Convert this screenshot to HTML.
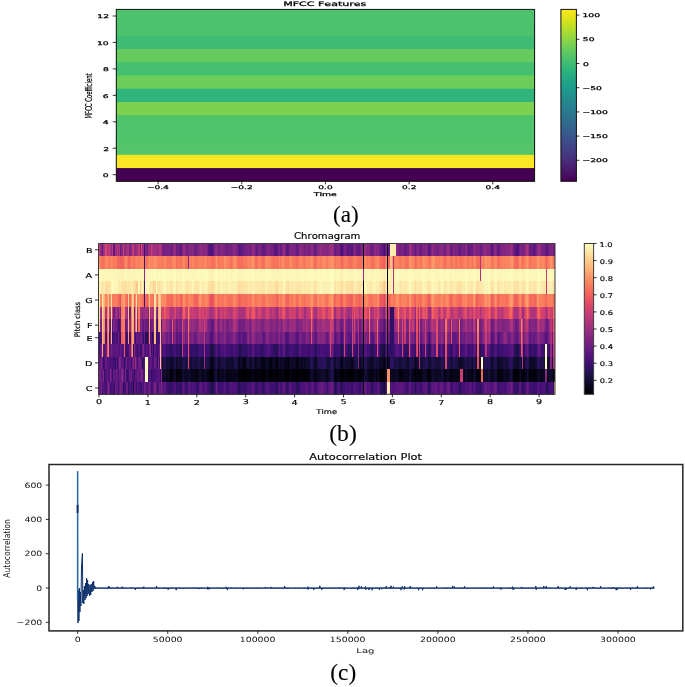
<!DOCTYPE html>
<html><head><meta charset="utf-8"><style>
html,body{margin:0;padding:0;background:#fff;}
svg{display:block;filter:blur(0.3px);}
text{font-family:'DejaVu Sans','Liberation Sans',sans-serif;fill:#000;font-kerning:none;stroke:#000;stroke-width:0.22px;}
.sa{stroke-width:0.25px;} .sb{stroke-width:0.15px;} .sc{stroke-width:0;fill:#111;}
text.serif{font-family:'Liberation Serif',serif;stroke-width:0.1px;}
.hm rect{height:12.77px;width:1.44px;}
.hm{shape-rendering:crispEdges;}
</style></head><body>
<svg width="685" height="687" viewBox="0 0 685 687">
<rect width="685" height="687" fill="#fff"/>
<rect x="116.30" y="9.40" width="418.30" height="171.90" fill="#4cc26c"/><rect x="116.30" y="22.62" width="418.30" height="158.68" fill="#4cc26c"/><rect x="116.30" y="35.85" width="418.30" height="145.45" fill="#3fbc73"/><rect x="116.30" y="49.07" width="418.30" height="132.23" fill="#65cb5e"/><rect x="116.30" y="62.29" width="418.30" height="119.01" fill="#44bf70"/><rect x="116.30" y="75.52" width="418.30" height="105.78" fill="#6ccd5a"/><rect x="116.30" y="88.74" width="418.30" height="92.56" fill="#2fb47c"/><rect x="116.30" y="101.96" width="418.30" height="79.34" fill="#7cd250"/><rect x="116.30" y="115.18" width="418.30" height="66.12" fill="#50c46a"/><rect x="116.30" y="128.41" width="418.30" height="52.89" fill="#50c46a"/><rect x="116.30" y="141.63" width="418.30" height="39.67" fill="#54c568"/><rect x="116.30" y="154.85" width="418.30" height="26.45" fill="#fde725"/><rect x="116.30" y="168.08" width="418.30" height="13.22" fill="#440154"/><rect x="116.30" y="9.40" width="418.30" height="171.90" fill="none" stroke="#111" stroke-width="1.0"/><line x1="112.70" y1="174.69" x2="116.30" y2="174.69" stroke="#000" stroke-width="0.8"/><text x="102.88" y="177.01" font-size="5.00" text-anchor="start" textLength="5.89" lengthAdjust="spacingAndGlyphs" class="sa">0</text><line x1="112.70" y1="148.24" x2="116.30" y2="148.24" stroke="#000" stroke-width="0.8"/><text x="103.19" y="150.60" font-size="5.00" text-anchor="start" textLength="5.89" lengthAdjust="spacingAndGlyphs" class="sa">2</text><line x1="112.70" y1="121.80" x2="116.30" y2="121.80" stroke="#000" stroke-width="0.8"/><text x="102.78" y="124.12" font-size="5.00" text-anchor="start" textLength="5.89" lengthAdjust="spacingAndGlyphs" class="sa">4</text><line x1="112.70" y1="95.35" x2="116.30" y2="95.35" stroke="#000" stroke-width="0.8"/><text x="102.85" y="97.67" font-size="5.00" text-anchor="start" textLength="5.89" lengthAdjust="spacingAndGlyphs" class="sa">6</text><line x1="112.70" y1="68.90" x2="116.30" y2="68.90" stroke="#000" stroke-width="0.8"/><text x="102.90" y="71.22" font-size="5.00" text-anchor="start" textLength="5.89" lengthAdjust="spacingAndGlyphs" class="sa">8</text><line x1="112.70" y1="42.46" x2="116.30" y2="42.46" stroke="#000" stroke-width="0.8"/><text x="96.99" y="44.78" font-size="5.00" text-anchor="start" textLength="11.77" lengthAdjust="spacingAndGlyphs" class="sa">10</text><line x1="112.70" y1="16.01" x2="116.30" y2="16.01" stroke="#000" stroke-width="0.8"/><text x="97.31" y="18.37" font-size="5.00" text-anchor="start" textLength="11.77" lengthAdjust="spacingAndGlyphs" class="sa">12</text><line x1="158.13" y1="181.30" x2="158.13" y2="184.30" stroke="#000" stroke-width="0.8"/><text x="146.98" y="188.68" font-size="5.00" text-anchor="start" textLength="21.85" lengthAdjust="spacingAndGlyphs" class="sa">−0.4</text><line x1="241.79" y1="181.30" x2="241.79" y2="184.30" stroke="#000" stroke-width="0.8"/><text x="230.84" y="188.68" font-size="5.00" text-anchor="start" textLength="21.85" lengthAdjust="spacingAndGlyphs" class="sa">−0.2</text><line x1="325.45" y1="181.30" x2="325.45" y2="184.30" stroke="#000" stroke-width="0.8"/><text x="318.30" y="188.68" font-size="5.00" text-anchor="start" textLength="14.31" lengthAdjust="spacingAndGlyphs" class="sa">0.0</text><line x1="409.11" y1="181.30" x2="409.11" y2="184.30" stroke="#000" stroke-width="0.8"/><text x="402.11" y="188.68" font-size="5.00" text-anchor="start" textLength="14.31" lengthAdjust="spacingAndGlyphs" class="sa">0.2</text><line x1="492.77" y1="181.30" x2="492.77" y2="184.30" stroke="#000" stroke-width="0.8"/><text x="485.57" y="188.68" font-size="5.00" text-anchor="start" textLength="14.31" lengthAdjust="spacingAndGlyphs" class="sa">0.4</text><text x="313.78" y="196.38" font-size="5.17" text-anchor="start" textLength="22.97" lengthAdjust="spacingAndGlyphs" class="sa">Time</text><text class="sa" transform="translate(91.53,118.47) rotate(-90)" x="0" y="0" font-size="8.40" textLength="45.04" lengthAdjust="spacingAndGlyphs">MFCC Coefficient</text><text x="283.17" y="6.26" font-size="6.21" text-anchor="start" textLength="83.22" lengthAdjust="spacingAndGlyphs" class="sa">MFCC Features</text><defs><linearGradient id="gv" x1="0" y1="1" x2="0" y2="0"><stop offset="0.0000" stop-color="#440154"/><stop offset="0.0312" stop-color="#470d60"/><stop offset="0.0625" stop-color="#48186a"/><stop offset="0.0938" stop-color="#482374"/><stop offset="0.1250" stop-color="#472d7b"/><stop offset="0.1562" stop-color="#453781"/><stop offset="0.1875" stop-color="#424086"/><stop offset="0.2188" stop-color="#3e4989"/><stop offset="0.2500" stop-color="#3b528b"/><stop offset="0.2812" stop-color="#375b8d"/><stop offset="0.3125" stop-color="#33638d"/><stop offset="0.3438" stop-color="#2f6b8e"/><stop offset="0.3750" stop-color="#2c728e"/><stop offset="0.4062" stop-color="#297a8e"/><stop offset="0.4375" stop-color="#26828e"/><stop offset="0.4688" stop-color="#23898e"/><stop offset="0.5000" stop-color="#21918c"/><stop offset="0.5312" stop-color="#1f988b"/><stop offset="0.5625" stop-color="#1fa088"/><stop offset="0.5938" stop-color="#22a785"/><stop offset="0.6250" stop-color="#28ae80"/><stop offset="0.6562" stop-color="#32b67a"/><stop offset="0.6875" stop-color="#3fbc73"/><stop offset="0.7188" stop-color="#4ec36b"/><stop offset="0.7500" stop-color="#5ec962"/><stop offset="0.7812" stop-color="#70cf57"/><stop offset="0.8125" stop-color="#84d44b"/><stop offset="0.8438" stop-color="#98d83e"/><stop offset="0.8750" stop-color="#addc30"/><stop offset="0.9062" stop-color="#c2df23"/><stop offset="0.9375" stop-color="#d8e219"/><stop offset="0.9688" stop-color="#ece51b"/><stop offset="1.0000" stop-color="#fde725"/></linearGradient><linearGradient id="gm" x1="0" y1="1" x2="0" y2="0"><stop offset="0.0000" stop-color="#000004"/><stop offset="0.0312" stop-color="#030312"/><stop offset="0.0625" stop-color="#0a0822"/><stop offset="0.0938" stop-color="#130d34"/><stop offset="0.1250" stop-color="#1d1147"/><stop offset="0.1562" stop-color="#29115a"/><stop offset="0.1875" stop-color="#36106b"/><stop offset="0.2188" stop-color="#440f76"/><stop offset="0.2500" stop-color="#51127c"/><stop offset="0.2812" stop-color="#5d177f"/><stop offset="0.3125" stop-color="#6a1c81"/><stop offset="0.3438" stop-color="#762181"/><stop offset="0.3750" stop-color="#832681"/><stop offset="0.4062" stop-color="#902a81"/><stop offset="0.4375" stop-color="#9c2e7f"/><stop offset="0.4688" stop-color="#aa337d"/><stop offset="0.5000" stop-color="#b73779"/><stop offset="0.5312" stop-color="#c43c75"/><stop offset="0.5625" stop-color="#d0416f"/><stop offset="0.5938" stop-color="#dc4869"/><stop offset="0.6250" stop-color="#e75263"/><stop offset="0.6562" stop-color="#ef5d5e"/><stop offset="0.6875" stop-color="#f56b5c"/><stop offset="0.7188" stop-color="#f9795d"/><stop offset="0.7500" stop-color="#fc8961"/><stop offset="0.7812" stop-color="#fd9869"/><stop offset="0.8125" stop-color="#fea772"/><stop offset="0.8438" stop-color="#feb67c"/><stop offset="0.8750" stop-color="#fec488"/><stop offset="0.9062" stop-color="#fed395"/><stop offset="0.9375" stop-color="#fde2a3"/><stop offset="0.9688" stop-color="#fcf0b2"/><stop offset="1.0000" stop-color="#fcfdbf"/></linearGradient></defs><rect x="560.90" y="9.40" width="15.50" height="171.90" fill="url(#gv)"/><rect x="560.90" y="9.40" width="15.50" height="171.90" fill="none" stroke="#111" stroke-width="1.0"/><line x1="576.40" y1="15.10" x2="579.40" y2="15.10" stroke="#000" stroke-width="0.8"/><text x="582.54" y="17.26" font-size="5.10" text-anchor="start" textLength="17.52" lengthAdjust="spacingAndGlyphs" class="sa">100</text><line x1="576.40" y1="39.30" x2="579.40" y2="39.30" stroke="#000" stroke-width="0.8"/><text x="582.84" y="41.46" font-size="5.10" text-anchor="start" textLength="11.68" lengthAdjust="spacingAndGlyphs" class="sa">50</text><line x1="576.40" y1="63.50" x2="579.40" y2="63.50" stroke="#000" stroke-width="0.8"/><text x="582.94" y="65.66" font-size="5.10" text-anchor="start" textLength="5.84" lengthAdjust="spacingAndGlyphs" class="sa">0</text><line x1="576.40" y1="87.70" x2="579.40" y2="87.70" stroke="#000" stroke-width="0.8"/><text x="582.58" y="89.86" font-size="5.10" text-anchor="start" textLength="19.37" lengthAdjust="spacingAndGlyphs" class="sa">−50</text><line x1="576.40" y1="111.90" x2="579.40" y2="111.90" stroke="#000" stroke-width="0.8"/><text x="582.58" y="114.06" font-size="5.10" text-anchor="start" textLength="25.21" lengthAdjust="spacingAndGlyphs" class="sa">−100</text><line x1="576.40" y1="136.10" x2="579.40" y2="136.10" stroke="#000" stroke-width="0.8"/><text x="582.58" y="138.26" font-size="5.10" text-anchor="start" textLength="25.21" lengthAdjust="spacingAndGlyphs" class="sa">−150</text><line x1="576.40" y1="160.30" x2="579.40" y2="160.30" stroke="#000" stroke-width="0.8"/><text x="582.58" y="162.46" font-size="5.10" text-anchor="start" textLength="25.21" lengthAdjust="spacingAndGlyphs" class="sa">−200</text><text x="333.03" y="222.34" font-size="23.05" text-anchor="start" textLength="25.74" lengthAdjust="spacingAndGlyphs" class="serif">(a)</text><g class="hm" transform="translate(0,381.73)"><rect x="98.5" fill="#651a80"/><rect x="99.6" fill="#56147d"/><rect x="100.8" fill="#802582"/><rect x="101.9" fill="#451077"/><rect x="103.1" fill="#5c167f"/><rect x="104.2" fill="#51127c"/><rect x="105.3" fill="#471078"/><rect x="106.5" fill="#651a80"/><rect x="107.6" fill="#902a81"/><rect x="108.8" fill="#5f187f"/><rect x="109.9" fill="#440f76"/><rect x="111.1" fill="#451077"/><rect x="112.2" fill="#56147d"/><rect x="113.3" fill="#390f6e"/><rect x="114.5" fill="#721f81"/><rect x="115.6" fill="#5d177f"/><rect x="116.8" fill="#651a80"/><rect x="117.9" fill="#491078"/><rect x="119.0" fill="#5d177f"/><rect x="120.2" fill="#752181"/><rect x="121.3" fill="#6d1d81"/><rect x="122.5" fill="#2d1161"/><rect x="123.6" fill="#3d0f71"/><rect x="124.7" fill="#4a1079"/><rect x="125.9" fill="#671b80"/><rect x="127.0" fill="#6e1e81"/><rect x="128.2" fill="#311165"/><rect x="129.3" fill="#4e117b"/><rect x="130.5" fill="#36106b"/><rect x="131.6" fill="#5a167e"/><rect x="132.7" fill="#150e38"/><rect x="133.9" fill="#6d1d81"/><rect x="135.0" fill="#52137c"/><rect x="136.2" fill="#3d0f71"/><rect x="137.3" fill="#59157e"/><rect x="138.4" fill="#4e117b"/><rect x="139.6" fill="#3b0f70"/><rect x="140.7" fill="#36106b"/><rect x="141.9" fill="#601880"/><rect x="143.0" fill="#440f76"/><rect x="144.2" fill="#6d1d81"/><rect x="145.3" fill="#701f81"/><rect x="146.4" fill="#52137c"/><rect x="147.6" fill="#641a80"/><rect x="148.7" fill="#681c81"/><rect x="149.9" fill="#641a80"/><rect x="151.0" fill="#3f0f72"/><rect x="152.1" fill="#4e117b"/><rect x="153.3" fill="#5c167f"/><rect x="154.4" fill="#7b2382"/><rect x="155.6" fill="#651a80"/><rect x="156.7" fill="#311165"/><rect x="157.8" fill="#57157e"/><rect x="159.0" fill="#681c81"/><rect x="160.1" fill="#5d177f"/><rect x="161.3" fill="#812581"/><rect x="162.4" fill="#59157e"/><rect x="163.6" fill="#5c167f"/><rect x="164.7" fill="#57157e"/><rect x="165.8" fill="#440f76"/><rect x="167.0" fill="#420f75"/><rect x="168.1" fill="#3b0f70"/><rect x="169.3" fill="#311165"/><rect x="170.4" fill="#341069"/><rect x="171.5" fill="#3d0f71"/><rect x="172.7" fill="#400f74"/><rect x="173.8" fill="#4f127b"/><rect x="175.0" fill="#4c117a"/><rect x="176.1" fill="#331067"/><rect x="177.2" fill="#38106c"/><rect x="178.4" fill="#3b0f70"/><rect x="179.5" fill="#2a115c"/><rect x="180.7" fill="#36106b"/><rect x="181.8" fill="#4f127b"/><rect x="183.0" fill="#5f187f"/><rect x="184.1" fill="#52137c"/><rect x="185.2" fill="#36106b"/><rect x="186.4" fill="#38106c"/><rect x="187.5" fill="#56147d"/><rect x="188.7" fill="#601880"/><rect x="189.8" fill="#4f127b"/><rect x="190.9" fill="#491078"/><rect x="192.1" fill="#4f127b"/><rect x="193.2" fill="#52137c"/><rect x="194.4" fill="#4a1079"/><rect x="195.5" fill="#341069"/><rect x="196.6" fill="#2d1161"/><rect x="197.8" fill="#3d0f71"/><rect x="198.9" fill="#54137d"/><rect x="200.1" fill="#601880"/><rect x="201.2" fill="#5a167e"/><rect x="202.4" fill="#4a1079"/><rect x="203.5" fill="#451077"/><rect x="204.6" fill="#56147d"/><rect x="205.8" fill="#56147d"/><rect x="206.9" fill="#3f0f72"/><rect x="208.1" fill="#36106b"/><rect x="209.2" fill="#390f6e"/><rect x="210.3" fill="#271258"/><rect x="211.5" fill="#1d1147"/><rect x="212.6" fill="#271258"/><rect x="213.8" fill="#2f1163"/><rect x="214.9" fill="#51127c"/><rect x="216.0" fill="#6e1e81"/><rect x="217.2" fill="#56147d"/><rect x="218.3" fill="#3b0f70"/><rect x="219.5" fill="#400f74"/><rect x="220.6" fill="#420f75"/><rect x="221.8" fill="#420f75"/><rect x="222.9" fill="#4a1079"/><rect x="224.0" fill="#57157e"/><rect x="225.2" fill="#4c117a"/><rect x="226.3" fill="#38106c"/><rect x="227.5" fill="#3f0f72"/><rect x="228.6" fill="#491078"/><rect x="229.7" fill="#4f127b"/><rect x="230.9" fill="#54137d"/><rect x="232.0" fill="#4c117a"/><rect x="233.2" fill="#4f127b"/><rect x="234.3" fill="#51127c"/><rect x="235.5" fill="#440f76"/><rect x="236.6" fill="#3b0f70"/><rect x="237.7" fill="#311165"/><rect x="238.9" fill="#21114e"/><rect x="240.0" fill="#311165"/><rect x="241.2" fill="#3d0f71"/><rect x="242.3" fill="#38106c"/><rect x="243.4" fill="#390f6e"/><rect x="244.6" fill="#341069"/><rect x="245.7" fill="#390f6e"/><rect x="246.9" fill="#440f76"/><rect x="248.0" fill="#4e117b"/><rect x="249.1" fill="#491078"/><rect x="250.3" fill="#3b0f70"/><rect x="251.4" fill="#54137d"/><rect x="252.6" fill="#5f187f"/><rect x="253.7" fill="#491078"/><rect x="254.9" fill="#3d0f71"/><rect x="256.0" fill="#341069"/><rect x="257.1" fill="#341069"/><rect x="258.3" fill="#4a1079"/><rect x="259.4" fill="#4c117a"/><rect x="260.6" fill="#400f74"/><rect x="261.7" fill="#36106b"/><rect x="262.8" fill="#2c115f"/><rect x="264.0" fill="#341069"/><rect x="265.1" fill="#4c117a"/><rect x="266.3" fill="#56147d"/><rect x="267.4" fill="#52137c"/><rect x="268.5" fill="#471078"/><rect x="269.7" fill="#3f0f72"/><rect x="270.8" fill="#400f74"/><rect x="272.0" fill="#400f74"/><rect x="273.1" fill="#440f76"/><rect x="274.3" fill="#420f75"/><rect x="275.4" fill="#331067"/><rect x="276.5" fill="#2d1161"/><rect x="277.7" fill="#471078"/><rect x="278.8" fill="#5d177f"/><rect x="280.0" fill="#491078"/><rect x="281.1" fill="#36106b"/><rect x="282.2" fill="#51127c"/><rect x="283.4" fill="#5d177f"/><rect x="284.5" fill="#451077"/><rect x="285.7" fill="#38106c"/><rect x="286.8" fill="#2c115f"/><rect x="287.9" fill="#36106b"/><rect x="289.1" fill="#57157e"/><rect x="290.2" fill="#5d177f"/><rect x="291.4" fill="#471078"/><rect x="292.5" fill="#3f0f72"/><rect x="293.7" fill="#4a1079"/><rect x="294.8" fill="#400f74"/><rect x="295.9" fill="#2c115f"/><rect x="297.1" fill="#271258"/><rect x="298.2" fill="#2d1161"/><rect x="299.4" fill="#420f75"/><rect x="300.5" fill="#4c117a"/><rect x="301.6" fill="#52137c"/><rect x="302.8" fill="#4e117b"/><rect x="303.9" fill="#491078"/><rect x="305.1" fill="#59157e"/><rect x="306.2" fill="#5f187f"/><rect x="307.3" fill="#4f127b"/><rect x="308.5" fill="#420f75"/><rect x="309.6" fill="#471078"/><rect x="310.8" fill="#59157e"/><rect x="311.9" fill="#621980"/><rect x="313.1" fill="#57157e"/><rect x="314.2" fill="#420f75"/><rect x="315.3" fill="#400f74"/><rect x="316.5" fill="#54137d"/><rect x="317.6" fill="#5f187f"/><rect x="318.8" fill="#5c167f"/><rect x="319.9" fill="#621980"/><rect x="321.0" fill="#6a1c81"/><rect x="322.2" fill="#681c81"/><rect x="323.3" fill="#5c167f"/><rect x="324.5" fill="#54137d"/><rect x="325.6" fill="#4a1079"/><rect x="326.8" fill="#3f0f72"/><rect x="327.9" fill="#51127c"/><rect x="329.0" fill="#621980"/><rect x="330.2" fill="#641a80"/><rect x="331.3" fill="#6a1c81"/><rect x="332.5" fill="#5c167f"/><rect x="333.6" fill="#311165"/><rect x="334.7" fill="#21114e"/><rect x="335.9" fill="#2f1163"/><rect x="337.0" fill="#3d0f71"/><rect x="338.2" fill="#51127c"/><rect x="339.3" fill="#51127c"/><rect x="340.4" fill="#29115a"/><rect x="341.6" fill="#241253"/><rect x="342.7" fill="#3d0f71"/><rect x="343.9" fill="#3b0f70"/><rect x="345.0" fill="#400f74"/><rect x="346.2" fill="#4a1079"/><rect x="347.3" fill="#420f75"/><rect x="348.4" fill="#420f75"/><rect x="349.6" fill="#471078"/><rect x="350.7" fill="#38106c"/><rect x="351.9" fill="#38106c"/><rect x="353.0" fill="#4c117a"/><rect x="354.1" fill="#51127c"/><rect x="355.3" fill="#4c117a"/><rect x="356.4" fill="#4a1079"/><rect x="357.6" fill="#451077"/><rect x="358.7" fill="#38106c"/><rect x="359.8" fill="#390f6e"/><rect x="361.0" fill="#491078"/><rect x="362.1" fill="#4f127b"/><rect x="363.3" fill="#02020d"/><rect x="364.4" fill="#671b80"/><rect x="365.6" fill="#5f187f"/><rect x="366.7" fill="#471078"/><rect x="367.8" fill="#4f127b"/><rect x="369.0" fill="#59157e"/><rect x="370.1" fill="#451077"/><rect x="371.3" fill="#29115a"/><rect x="372.4" fill="#36106b"/><rect x="373.5" fill="#4f127b"/><rect x="374.7" fill="#491078"/><rect x="375.8" fill="#420f75"/><rect x="377.0" fill="#54137d"/><rect x="378.1" fill="#621980"/><rect x="379.2" fill="#491078"/><rect x="380.4" fill="#29115a"/><rect x="381.5" fill="#29115a"/><rect x="382.7" fill="#1c1044"/><rect x="383.8" fill="#140e36"/><rect x="385.0" fill="#311165"/><rect x="386.1" fill="#52137c"/><rect x="387.2" fill="#fceeb0"/><rect x="388.4" fill="#fceeb0"/><rect x="389.5" fill="#420f75"/><rect x="390.7" fill="#57157e"/><rect x="391.8" fill="#51127c"/><rect x="392.9" fill="#4a1079"/><rect x="394.1" fill="#4e117b"/><rect x="395.2" fill="#56147d"/><rect x="396.4" fill="#59157e"/><rect x="397.5" fill="#5a167e"/><rect x="398.6" fill="#5a167e"/><rect x="399.8" fill="#5d177f"/><rect x="400.9" fill="#5d177f"/><rect x="402.1" fill="#56147d"/><rect x="403.2" fill="#56147d"/><rect x="404.4" fill="#4c117a"/><rect x="405.5" fill="#420f75"/><rect x="406.6" fill="#3b0f70"/><rect x="407.8" fill="#451077"/><rect x="408.9" fill="#651a80"/><rect x="410.1" fill="#5f187f"/><rect x="411.2" fill="#420f75"/><rect x="412.3" fill="#491078"/><rect x="413.5" fill="#420f75"/><rect x="414.6" fill="#271258"/><rect x="415.8" fill="#390f6e"/><rect x="416.9" fill="#51127c"/><rect x="418.1" fill="#491078"/><rect x="419.2" fill="#3d0f71"/><rect x="420.3" fill="#3f0f72"/><rect x="421.5" fill="#4a1079"/><rect x="422.6" fill="#54137d"/><rect x="423.8" fill="#54137d"/><rect x="424.9" fill="#5d177f"/><rect x="426.0" fill="#5f187f"/><rect x="427.2" fill="#451077"/><rect x="428.3" fill="#2f1163"/><rect x="429.5" fill="#390f6e"/><rect x="430.6" fill="#5a167e"/><rect x="431.7" fill="#5f187f"/><rect x="432.9" fill="#56147d"/><rect x="434.0" fill="#5f187f"/><rect x="435.2" fill="#671b80"/><rect x="436.3" fill="#5d177f"/><rect x="437.5" fill="#4e117b"/><rect x="438.6" fill="#54137d"/><rect x="439.7" fill="#651a80"/><rect x="440.9" fill="#681c81"/><rect x="442.0" fill="#5f187f"/><rect x="443.2" fill="#54137d"/><rect x="444.3" fill="#491078"/><rect x="445.4" fill="#4f127b"/><rect x="446.6" fill="#671b80"/><rect x="447.7" fill="#6e1e81"/><rect x="448.9" fill="#621980"/><rect x="450.0" fill="#4c117a"/><rect x="451.1" fill="#390f6e"/><rect x="452.3" fill="#400f74"/><rect x="453.4" fill="#52137c"/><rect x="454.6" fill="#4e117b"/><rect x="455.7" fill="#491078"/><rect x="456.9" fill="#4e117b"/><rect x="458.0" fill="#3b0f70"/><rect x="459.1" fill="#29115a"/><rect x="460.3" fill="#311165"/><rect x="461.4" fill="#3f0f72"/><rect x="462.6" fill="#451077"/><rect x="463.7" fill="#451077"/><rect x="464.8" fill="#4e117b"/><rect x="466.0" fill="#56147d"/><rect x="467.1" fill="#4f127b"/><rect x="468.3" fill="#4e117b"/><rect x="469.4" fill="#5a167e"/><rect x="470.5" fill="#59157e"/><rect x="471.7" fill="#420f75"/><rect x="472.8" fill="#4a1079"/><rect x="474.0" fill="#59157e"/><rect x="475.1" fill="#491078"/><rect x="476.3" fill="#38106c"/><rect x="477.4" fill="#36106b"/><rect x="478.5" fill="#331067"/><rect x="479.7" fill="#2a115c"/><rect x="480.8" fill="#341069"/><rect x="482.0" fill="#4c117a"/><rect x="483.1" fill="#4f127b"/><rect x="484.2" fill="#5c167f"/><rect x="485.4" fill="#671b80"/><rect x="486.5" fill="#57157e"/><rect x="487.7" fill="#57157e"/><rect x="488.8" fill="#5c167f"/><rect x="489.9" fill="#54137d"/><rect x="491.1" fill="#4e117b"/><rect x="492.2" fill="#4e117b"/><rect x="493.4" fill="#5f187f"/><rect x="494.5" fill="#6e1e81"/><rect x="495.7" fill="#5f187f"/><rect x="496.8" fill="#471078"/><rect x="497.9" fill="#390f6e"/><rect x="499.1" fill="#3f0f72"/><rect x="500.2" fill="#491078"/><rect x="501.4" fill="#4a1079"/><rect x="502.5" fill="#4e117b"/><rect x="503.6" fill="#4a1079"/><rect x="504.8" fill="#400f74"/><rect x="505.9" fill="#4c117a"/><rect x="507.1" fill="#5c167f"/><rect x="508.2" fill="#57157e"/><rect x="509.4" fill="#5f187f"/><rect x="510.5" fill="#721f81"/><rect x="511.6" fill="#641a80"/><rect x="512.8" fill="#3f0f72"/><rect x="513.9" fill="#341069"/><rect x="515.1" fill="#3f0f72"/><rect x="516.2" fill="#2d1161"/><rect x="517.3" fill="#38106c"/><rect x="518.5" fill="#5c167f"/><rect x="519.6" fill="#5c167f"/><rect x="520.8" fill="#3f0f72"/><rect x="521.9" fill="#311165"/><rect x="523.0" fill="#38106c"/><rect x="524.2" fill="#390f6e"/><rect x="525.3" fill="#52137c"/><rect x="526.5" fill="#6d1d81"/><rect x="527.6" fill="#5d177f"/><rect x="528.8" fill="#451077"/><rect x="529.9" fill="#3b0f70"/><rect x="531.0" fill="#3f0f72"/><rect x="532.2" fill="#400f74"/><rect x="533.3" fill="#390f6e"/><rect x="534.5" fill="#390f6e"/><rect x="535.6" fill="#420f75"/><rect x="536.7" fill="#4f127b"/><rect x="537.9" fill="#57157e"/><rect x="539.0" fill="#51127c"/><rect x="540.2" fill="#420f75"/><rect x="541.3" fill="#471078"/><rect x="542.4" fill="#4c117a"/><rect x="543.6" fill="#4c117a"/><rect x="544.7" fill="#471078"/><rect x="545.9" fill="#2c115f"/><rect x="547.0" fill="#251255"/><rect x="548.2" fill="#3d0f71"/><rect x="549.3" fill="#440f76"/><rect x="550.4" fill="#4a1079"/><rect x="551.6" fill="#4c117a"/><rect x="552.7" fill="#2a115c"/><rect x="553.9" fill="#feae77"/></g><g class="hm" transform="translate(0,369.17)"><rect x="98.5" fill="#6a1c81"/><rect x="99.6" fill="#792282"/><rect x="100.8" fill="#57157e"/><rect x="101.9" fill="#651a80"/><rect x="103.1" fill="#792282"/><rect x="104.2" fill="#2f1163"/><rect x="105.3" fill="#51127c"/><rect x="106.5" fill="#6a1c81"/><rect x="107.6" fill="#400f74"/><rect x="108.8" fill="#59157e"/><rect x="109.9" fill="#7c2382"/><rect x="111.1" fill="#641a80"/><rect x="112.2" fill="#331067"/><rect x="113.3" fill="#621980"/><rect x="114.5" fill="#57157e"/><rect x="115.6" fill="#671b80"/><rect x="116.8" fill="#6d1d81"/><rect x="117.9" fill="#3f0f72"/><rect x="119.0" fill="#6b1d81"/><rect x="120.2" fill="#5a167e"/><rect x="121.3" fill="#862781"/><rect x="122.5" fill="#6b1d81"/><rect x="123.6" fill="#491078"/><rect x="124.7" fill="#762181"/><rect x="125.9" fill="#390f6e"/><rect x="127.0" fill="#38106c"/><rect x="128.2" fill="#3f0f72"/><rect x="129.3" fill="#671b80"/><rect x="130.5" fill="#6b1d81"/><rect x="131.6" fill="#440f76"/><rect x="132.7" fill="#4e117b"/><rect x="133.9" fill="#3b0f70"/><rect x="135.0" fill="#59157e"/><rect x="136.2" fill="#57157e"/><rect x="137.3" fill="#6e1e81"/><rect x="138.4" fill="#651a80"/><rect x="139.6" fill="#621980"/><rect x="140.7" fill="#7b2382"/><rect x="141.9" fill="#752181"/><rect x="143.0" fill="#4f127b"/><rect x="144.2" fill="#52137c"/><rect x="145.3" fill="#fcfdbf"/><rect x="146.4" fill="#fcfdbf"/><rect x="147.6" fill="#471078"/><rect x="148.7" fill="#4f127b"/><rect x="149.9" fill="#5c167f"/><rect x="151.0" fill="#2a115c"/><rect x="152.1" fill="#3f0f72"/><rect x="153.3" fill="#491078"/><rect x="154.4" fill="#491078"/><rect x="155.6" fill="#51127c"/><rect x="156.7" fill="#5d177f"/><rect x="157.8" fill="#471078"/><rect x="159.0" fill="#5f187f"/><rect x="160.1" fill="#36106b"/><rect x="161.3" fill="#812581"/><rect x="162.4" fill="#0d0a29"/><rect x="163.6" fill="#110c2f"/><rect x="164.7" fill="#110c2f"/><rect x="165.8" fill="#07061c"/><rect x="167.0" fill="#07061c"/><rect x="168.1" fill="#0d0a29"/><rect x="169.3" fill="#08071e"/><rect x="170.4" fill="#02020b"/><rect x="171.5" fill="#02020d"/><rect x="172.7" fill="#090720"/><rect x="173.8" fill="#130d34"/><rect x="175.0" fill="#0a0822"/><rect x="176.1" fill="#010005"/><rect x="177.2" fill="#020109"/><rect x="178.4" fill="#040414"/><rect x="179.5" fill="#02020b"/><rect x="180.7" fill="#040414"/><rect x="181.8" fill="#0d0a29"/><rect x="183.0" fill="#120d31"/><rect x="184.1" fill="#0d0a29"/><rect x="185.2" fill="#0a0822"/><rect x="186.4" fill="#0c0926"/><rect x="187.5" fill="#0e0b2b"/><rect x="188.7" fill="#110c2f"/><rect x="189.8" fill="#0b0924"/><rect x="190.9" fill="#090720"/><rect x="192.1" fill="#08071e"/><rect x="193.2" fill="#06051a"/><rect x="194.4" fill="#060518"/><rect x="195.5" fill="#040414"/><rect x="196.6" fill="#040414"/><rect x="197.8" fill="#08071e"/><rect x="198.9" fill="#0e0b2b"/><rect x="200.1" fill="#0e0b2b"/><rect x="201.2" fill="#090720"/><rect x="202.4" fill="#07061c"/><rect x="203.5" fill="#0a0822"/><rect x="204.6" fill="#0d0a29"/><rect x="205.8" fill="#0a0822"/><rect x="206.9" fill="#06051a"/><rect x="208.1" fill="#040414"/><rect x="209.2" fill="#02020b"/><rect x="210.3" fill="#000004"/><rect x="211.5" fill="#000004"/><rect x="212.6" fill="#030312"/><rect x="213.8" fill="#0d0a29"/><rect x="214.9" fill="#150e38"/><rect x="216.0" fill="#160f3b"/><rect x="217.2" fill="#090720"/><rect x="218.3" fill="#050416"/><rect x="219.5" fill="#0b0924"/><rect x="220.6" fill="#0d0a29"/><rect x="221.8" fill="#07061c"/><rect x="222.9" fill="#090720"/><rect x="224.0" fill="#100b2d"/><rect x="225.2" fill="#0d0a29"/><rect x="226.3" fill="#050416"/><rect x="227.5" fill="#040414"/><rect x="228.6" fill="#060518"/><rect x="229.7" fill="#060518"/><rect x="230.9" fill="#060518"/><rect x="232.0" fill="#07061c"/><rect x="233.2" fill="#07061c"/><rect x="234.3" fill="#06051a"/><rect x="235.5" fill="#07061c"/><rect x="236.6" fill="#07061c"/><rect x="237.7" fill="#03030f"/><rect x="238.9" fill="#010005"/><rect x="240.0" fill="#02020b"/><rect x="241.2" fill="#000004"/><rect x="242.3" fill="#000004"/><rect x="243.4" fill="#000004"/><rect x="244.6" fill="#010005"/><rect x="245.7" fill="#010005"/><rect x="246.9" fill="#02020b"/><rect x="248.0" fill="#02020b"/><rect x="249.1" fill="#010005"/><rect x="250.3" fill="#010106"/><rect x="251.4" fill="#060518"/><rect x="252.6" fill="#060518"/><rect x="253.7" fill="#02020d"/><rect x="254.9" fill="#02020d"/><rect x="256.0" fill="#020109"/><rect x="257.1" fill="#010108"/><rect x="258.3" fill="#030312"/><rect x="259.4" fill="#02020d"/><rect x="260.6" fill="#000004"/><rect x="261.7" fill="#000004"/><rect x="262.8" fill="#000004"/><rect x="264.0" fill="#000004"/><rect x="265.1" fill="#02020d"/><rect x="266.3" fill="#040414"/><rect x="267.4" fill="#040414"/><rect x="268.5" fill="#010108"/><rect x="269.7" fill="#000004"/><rect x="270.8" fill="#010106"/><rect x="272.0" fill="#020109"/><rect x="273.1" fill="#02020d"/><rect x="274.3" fill="#03030f"/><rect x="275.4" fill="#02020b"/><rect x="276.5" fill="#000004"/><rect x="277.7" fill="#010108"/><rect x="278.8" fill="#050416"/><rect x="280.0" fill="#02020b"/><rect x="281.1" fill="#02020b"/><rect x="282.2" fill="#06051a"/><rect x="283.4" fill="#02020b"/><rect x="284.5" fill="#000004"/><rect x="285.7" fill="#000004"/><rect x="286.8" fill="#000004"/><rect x="287.9" fill="#000004"/><rect x="289.1" fill="#02020b"/><rect x="290.2" fill="#040414"/><rect x="291.4" fill="#02020b"/><rect x="292.5" fill="#020109"/><rect x="293.7" fill="#010108"/><rect x="294.8" fill="#000004"/><rect x="295.9" fill="#000004"/><rect x="297.1" fill="#000004"/><rect x="298.2" fill="#000004"/><rect x="299.4" fill="#03030f"/><rect x="300.5" fill="#020109"/><rect x="301.6" fill="#010108"/><rect x="302.8" fill="#010005"/><rect x="303.9" fill="#000004"/><rect x="305.1" fill="#000004"/><rect x="306.2" fill="#020109"/><rect x="307.3" fill="#03030f"/><rect x="308.5" fill="#02020d"/><rect x="309.6" fill="#0d0a29"/><rect x="310.8" fill="#130d34"/><rect x="311.9" fill="#110c2f"/><rect x="313.1" fill="#0a0822"/><rect x="314.2" fill="#050416"/><rect x="315.3" fill="#050416"/><rect x="316.5" fill="#0b0924"/><rect x="317.6" fill="#0d0a29"/><rect x="318.8" fill="#0a0822"/><rect x="319.9" fill="#0b0924"/><rect x="321.0" fill="#0e0b2b"/><rect x="322.2" fill="#120d31"/><rect x="323.3" fill="#0e0b2b"/><rect x="324.5" fill="#0b0924"/><rect x="325.6" fill="#0a0822"/><rect x="326.8" fill="#07061c"/><rect x="327.9" fill="#0b0924"/><rect x="329.0" fill="#120d31"/><rect x="330.2" fill="#1a1042"/><rect x="331.3" fill="#221150"/><rect x="332.5" fill="#1a1042"/><rect x="333.6" fill="#060518"/><rect x="334.7" fill="#010106"/><rect x="335.9" fill="#040414"/><rect x="337.0" fill="#060518"/><rect x="338.2" fill="#08071e"/><rect x="339.3" fill="#07061c"/><rect x="340.4" fill="#000004"/><rect x="341.6" fill="#000004"/><rect x="342.7" fill="#010108"/><rect x="343.9" fill="#030312"/><rect x="345.0" fill="#040414"/><rect x="346.2" fill="#030312"/><rect x="347.3" fill="#010106"/><rect x="348.4" fill="#010005"/><rect x="349.6" fill="#020109"/><rect x="350.7" fill="#000004"/><rect x="351.9" fill="#000004"/><rect x="353.0" fill="#010108"/><rect x="354.1" fill="#03030f"/><rect x="355.3" fill="#040414"/><rect x="356.4" fill="#040414"/><rect x="357.6" fill="#02020b"/><rect x="358.7" fill="#010106"/><rect x="359.8" fill="#020109"/><rect x="361.0" fill="#030312"/><rect x="362.1" fill="#050416"/><rect x="363.3" fill="#02020d"/><rect x="364.4" fill="#140e36"/><rect x="365.6" fill="#160f3b"/><rect x="366.7" fill="#0b0924"/><rect x="367.8" fill="#07061c"/><rect x="369.0" fill="#07061c"/><rect x="370.1" fill="#040414"/><rect x="371.3" fill="#02020b"/><rect x="372.4" fill="#060518"/><rect x="373.5" fill="#0d0a29"/><rect x="374.7" fill="#0b0924"/><rect x="375.8" fill="#040414"/><rect x="377.0" fill="#07061c"/><rect x="378.1" fill="#0e0b2b"/><rect x="379.2" fill="#050416"/><rect x="380.4" fill="#000004"/><rect x="381.5" fill="#000004"/><rect x="382.7" fill="#000004"/><rect x="383.8" fill="#000004"/><rect x="385.0" fill="#08071e"/><rect x="386.1" fill="#130d34"/><rect x="387.2" fill="#fd9266"/><rect x="388.4" fill="#fd9266"/><rect x="389.5" fill="#03030f"/><rect x="390.7" fill="#0c0926"/><rect x="391.8" fill="#0a0822"/><rect x="392.9" fill="#06051a"/><rect x="394.1" fill="#0a0822"/><rect x="395.2" fill="#0d0a29"/><rect x="396.4" fill="#0c0926"/><rect x="397.5" fill="#07061c"/><rect x="398.6" fill="#03030f"/><rect x="399.8" fill="#010108"/><rect x="400.9" fill="#02020b"/><rect x="402.1" fill="#06051a"/><rect x="403.2" fill="#08071e"/><rect x="404.4" fill="#06051a"/><rect x="405.5" fill="#0a0822"/><rect x="406.6" fill="#07061c"/><rect x="407.8" fill="#050416"/><rect x="408.9" fill="#140e36"/><rect x="410.1" fill="#180f3d"/><rect x="411.2" fill="#090720"/><rect x="412.3" fill="#07061c"/><rect x="413.5" fill="#03030f"/><rect x="414.6" fill="#000004"/><rect x="415.8" fill="#02020d"/><rect x="416.9" fill="#030312"/><rect x="418.1" fill="#020109"/><rect x="419.2" fill="#020109"/><rect x="420.3" fill="#030312"/><rect x="421.5" fill="#090720"/><rect x="422.6" fill="#100b2d"/><rect x="423.8" fill="#0e0b2b"/><rect x="424.9" fill="#0c0926"/><rect x="426.0" fill="#0a0822"/><rect x="427.2" fill="#050416"/><rect x="428.3" fill="#010108"/><rect x="429.5" fill="#02020d"/><rect x="430.6" fill="#0d0a29"/><rect x="431.7" fill="#110c2f"/><rect x="432.9" fill="#100b2d"/><rect x="434.0" fill="#100b2d"/><rect x="435.2" fill="#0b0924"/><rect x="436.3" fill="#090720"/><rect x="437.5" fill="#0e0b2b"/><rect x="438.6" fill="#0d0a29"/><rect x="439.7" fill="#0b0924"/><rect x="440.9" fill="#140e36"/><rect x="442.0" fill="#180f3d"/><rect x="443.2" fill="#0d0a29"/><rect x="444.3" fill="#050416"/><rect x="445.4" fill="#06051a"/><rect x="446.6" fill="#0e0b2b"/><rect x="447.7" fill="#0c0926"/><rect x="448.9" fill="#07061c"/><rect x="450.0" fill="#040414"/><rect x="451.1" fill="#02020d"/><rect x="452.3" fill="#040414"/><rect x="453.4" fill="#07061c"/><rect x="454.6" fill="#050416"/><rect x="455.7" fill="#030312"/><rect x="456.9" fill="#060518"/><rect x="458.0" fill="#06051a"/><rect x="459.1" fill="#03030f"/><rect x="460.3" fill="#c83e73"/><rect x="461.4" fill="#c83e73"/><rect x="462.6" fill="#08071e"/><rect x="463.7" fill="#06051a"/><rect x="464.8" fill="#0c0926"/><rect x="466.0" fill="#110c2f"/><rect x="467.1" fill="#08071e"/><rect x="468.3" fill="#06051a"/><rect x="469.4" fill="#08071e"/><rect x="470.5" fill="#030312"/><rect x="471.7" fill="#02020d"/><rect x="472.8" fill="#0a0822"/><rect x="474.0" fill="#120d31"/><rect x="475.1" fill="#0b0924"/><rect x="476.3" fill="#050416"/><rect x="477.4" fill="#020109"/><rect x="478.5" fill="#010005"/><rect x="479.7" fill="#000004"/><rect x="480.8" fill="#f4675c"/><rect x="482.0" fill="#f4675c"/><rect x="483.1" fill="#0c0926"/><rect x="484.2" fill="#110c2f"/><rect x="485.4" fill="#100b2d"/><rect x="486.5" fill="#0d0a29"/><rect x="487.7" fill="#150e38"/><rect x="488.8" fill="#180f3d"/><rect x="489.9" fill="#0c0926"/><rect x="491.1" fill="#06051a"/><rect x="492.2" fill="#08071e"/><rect x="493.4" fill="#100b2d"/><rect x="494.5" fill="#150e38"/><rect x="495.7" fill="#110c2f"/><rect x="496.8" fill="#050416"/><rect x="497.9" fill="#010108"/><rect x="499.1" fill="#02020b"/><rect x="500.2" fill="#050416"/><rect x="501.4" fill="#060518"/><rect x="502.5" fill="#07061c"/><rect x="503.6" fill="#0c0926"/><rect x="504.8" fill="#0c0926"/><rect x="505.9" fill="#08071e"/><rect x="507.1" fill="#06051a"/><rect x="508.2" fill="#090720"/><rect x="509.4" fill="#120d31"/><rect x="510.5" fill="#19103f"/><rect x="511.6" fill="#100b2d"/><rect x="512.8" fill="#02020d"/><rect x="513.9" fill="#000004"/><rect x="515.1" fill="#010106"/><rect x="516.2" fill="#000004"/><rect x="517.3" fill="#010106"/><rect x="518.5" fill="#07061c"/><rect x="519.6" fill="#0b0924"/><rect x="520.8" fill="#050416"/><rect x="521.9" fill="#010108"/><rect x="523.0" fill="#020109"/><rect x="524.2" fill="#02020d"/><rect x="525.3" fill="#08071e"/><rect x="526.5" fill="#130d34"/><rect x="527.6" fill="#0c0926"/><rect x="528.8" fill="#010106"/><rect x="529.9" fill="#010005"/><rect x="531.0" fill="#040414"/><rect x="532.2" fill="#03030f"/><rect x="533.3" fill="#020109"/><rect x="534.5" fill="#02020d"/><rect x="535.6" fill="#050416"/><rect x="536.7" fill="#0a0822"/><rect x="537.9" fill="#0e0b2b"/><rect x="539.0" fill="#0b0924"/><rect x="540.2" fill="#06051a"/><rect x="541.3" fill="#06051a"/><rect x="542.4" fill="#08071e"/><rect x="543.6" fill="#07061c"/><rect x="544.7" fill="#832681"/><rect x="545.9" fill="#832681"/><rect x="547.0" fill="#030312"/><rect x="548.2" fill="#0d0a29"/><rect x="549.3" fill="#100b2d"/><rect x="550.4" fill="#110c2f"/><rect x="551.6" fill="#0a0822"/><rect x="552.7" fill="#02020b"/><rect x="553.9" fill="#02020d"/></g><g class="hm" transform="translate(0,356.60)"><rect x="98.5" fill="#5d177f"/><rect x="99.6" fill="#621980"/><rect x="100.8" fill="#802582"/><rect x="101.9" fill="#5a167e"/><rect x="103.1" fill="#311165"/><rect x="104.2" fill="#440f76"/><rect x="105.3" fill="#6d1d81"/><rect x="106.5" fill="#440f76"/><rect x="107.6" fill="#5f187f"/><rect x="108.8" fill="#51127c"/><rect x="109.9" fill="#491078"/><rect x="111.1" fill="#4f127b"/><rect x="112.2" fill="#4e117b"/><rect x="113.3" fill="#3f0f72"/><rect x="114.5" fill="#311165"/><rect x="115.6" fill="#59157e"/><rect x="116.8" fill="#341069"/><rect x="117.9" fill="#5a167e"/><rect x="119.0" fill="#892881"/><rect x="120.2" fill="#7c2382"/><rect x="121.3" fill="#59157e"/><rect x="122.5" fill="#5d177f"/><rect x="123.6" fill="#2f1163"/><rect x="124.7" fill="#4f127b"/><rect x="125.9" fill="#732081"/><rect x="127.0" fill="#4f127b"/><rect x="128.2" fill="#51127c"/><rect x="129.3" fill="#59157e"/><rect x="130.5" fill="#3d0f71"/><rect x="131.6" fill="#6e1e81"/><rect x="132.7" fill="#832681"/><rect x="133.9" fill="#59157e"/><rect x="135.0" fill="#a1307e"/><rect x="136.2" fill="#651a80"/><rect x="137.3" fill="#4a1079"/><rect x="138.4" fill="#6d1d81"/><rect x="139.6" fill="#6b1d81"/><rect x="140.7" fill="#5d177f"/><rect x="141.9" fill="#241253"/><rect x="143.0" fill="#3d0f71"/><rect x="144.2" fill="#51127c"/><rect x="145.3" fill="#fcfdbf"/><rect x="146.4" fill="#fcfdbf"/><rect x="147.6" fill="#651a80"/><rect x="148.7" fill="#51127c"/><rect x="149.9" fill="#5d177f"/><rect x="151.0" fill="#601880"/><rect x="152.1" fill="#471078"/><rect x="153.3" fill="#4f127b"/><rect x="154.4" fill="#6b1d81"/><rect x="155.6" fill="#5c167f"/><rect x="156.7" fill="#251255"/><rect x="157.8" fill="#8b2981"/><rect x="159.0" fill="#420f75"/><rect x="160.1" fill="#fec88c"/><rect x="161.3" fill="#6b1d81"/><rect x="162.4" fill="#1a1042"/><rect x="163.6" fill="#251255"/><rect x="164.7" fill="#21114e"/><rect x="165.8" fill="#140e36"/><rect x="167.0" fill="#140e36"/><rect x="168.1" fill="#160f3b"/><rect x="169.3" fill="#130d34"/><rect x="170.4" fill="#100b2d"/><rect x="171.5" fill="#0d0a29"/><rect x="172.7" fill="#140e36"/><rect x="173.8" fill="#21114e"/><rect x="175.0" fill="#20114b"/><rect x="176.1" fill="#100b2d"/><rect x="177.2" fill="#110c2f"/><rect x="178.4" fill="#180f3d"/><rect x="179.5" fill="#130d34"/><rect x="180.7" fill="#120d31"/><rect x="181.8" fill="#1d1147"/><rect x="183.0" fill="#251255"/><rect x="184.1" fill="#21114e"/><rect x="185.2" fill="#1a1042"/><rect x="186.4" fill="#19103f"/><rect x="187.5" fill="#e34e65"/><rect x="188.7" fill="#221150"/><rect x="189.8" fill="#160f3b"/><rect x="190.9" fill="#130d34"/><rect x="192.1" fill="#1a1042"/><rect x="193.2" fill="#1d1147"/><rect x="194.4" fill="#19103f"/><rect x="195.5" fill="#150e38"/><rect x="196.6" fill="#19103f"/><rect x="197.8" fill="#20114b"/><rect x="198.9" fill="#21114e"/><rect x="200.1" fill="#19103f"/><rect x="201.2" fill="#130d34"/><rect x="202.4" fill="#160f3b"/><rect x="203.5" fill="#982d80"/><rect x="204.6" fill="#20114b"/><rect x="205.8" fill="#21114e"/><rect x="206.9" fill="#1e1149"/><rect x="208.1" fill="#1a1042"/><rect x="209.2" fill="#160f3b"/><rect x="210.3" fill="#090720"/><rect x="211.5" fill="#060518"/><rect x="212.6" fill="#0c0926"/><rect x="213.8" fill="#110c2f"/><rect x="214.9" fill="#1c1044"/><rect x="216.0" fill="#271258"/><rect x="217.2" fill="#1a1042"/><rect x="218.3" fill="#100b2d"/><rect x="219.5" fill="#150e38"/><rect x="220.6" fill="#19103f"/><rect x="221.8" fill="#180f3d"/><rect x="222.9" fill="#1c1044"/><rect x="224.0" fill="#20114b"/><rect x="225.2" fill="#1a1042"/><rect x="226.3" fill="#110c2f"/><rect x="227.5" fill="#140e36"/><rect x="228.6" fill="#150e38"/><rect x="229.7" fill="#130d34"/><rect x="230.9" fill="#110c2f"/><rect x="232.0" fill="#0d0a29"/><rect x="233.2" fill="#150e38"/><rect x="234.3" fill="#1e1149"/><rect x="235.5" fill="#1d1147"/><rect x="236.6" fill="#180f3d"/><rect x="237.7" fill="#0d0a29"/><rect x="238.9" fill="#06051a"/><rect x="240.0" fill="#110c2f"/><rect x="241.2" fill="#0d0a29"/><rect x="242.3" fill="#07061c"/><rect x="243.4" fill="#060518"/><rect x="244.6" fill="#060518"/><rect x="245.7" fill="#0e0b2b"/><rect x="246.9" fill="#180f3d"/><rect x="248.0" fill="#19103f"/><rect x="249.1" fill="#120d31"/><rect x="250.3" fill="#0a0822"/><rect x="251.4" fill="#140e36"/><rect x="252.6" fill="#1c1044"/><rect x="253.7" fill="#0e0b2b"/><rect x="254.9" fill="#090720"/><rect x="256.0" fill="#0b0924"/><rect x="257.1" fill="#0e0b2b"/><rect x="258.3" fill="#130d34"/><rect x="259.4" fill="#0e0b2b"/><rect x="260.6" fill="#06051a"/><rect x="261.7" fill="#040414"/><rect x="262.8" fill="#030312"/><rect x="264.0" fill="#050416"/><rect x="265.1" fill="#0a0822"/><rect x="266.3" fill="#0c0926"/><rect x="267.4" fill="#0c0926"/><rect x="268.5" fill="#06051a"/><rect x="269.7" fill="#02020d"/><rect x="270.8" fill="#030312"/><rect x="272.0" fill="#08071e"/><rect x="273.1" fill="#100b2d"/><rect x="274.3" fill="#0e0b2b"/><rect x="275.4" fill="#060518"/><rect x="276.5" fill="#02020d"/><rect x="277.7" fill="#0b0924"/><rect x="278.8" fill="#130d34"/><rect x="280.0" fill="#0c0926"/><rect x="281.1" fill="#0a0822"/><rect x="282.2" fill="#110c2f"/><rect x="283.4" fill="#0c0926"/><rect x="284.5" fill="#050416"/><rect x="285.7" fill="#06051a"/><rect x="286.8" fill="#050416"/><rect x="287.9" fill="#02020b"/><rect x="289.1" fill="#08071e"/><rect x="290.2" fill="#110c2f"/><rect x="291.4" fill="#0d0a29"/><rect x="292.5" fill="#0a0822"/><rect x="293.7" fill="#0e0b2b"/><rect x="294.8" fill="#0b0924"/><rect x="295.9" fill="#040414"/><rect x="297.1" fill="#03030f"/><rect x="298.2" fill="#07061c"/><rect x="299.4" fill="#0c0926"/><rect x="300.5" fill="#08071e"/><rect x="301.6" fill="#0b0924"/><rect x="302.8" fill="#110c2f"/><rect x="303.9" fill="#0c0926"/><rect x="305.1" fill="#0b0924"/><rect x="306.2" fill="#120d31"/><rect x="307.3" fill="#100b2d"/><rect x="308.5" fill="#0e0b2b"/><rect x="309.6" fill="#241253"/><rect x="310.8" fill="#29115a"/><rect x="311.9" fill="#221150"/><rect x="313.1" fill="#180f3d"/><rect x="314.2" fill="#100b2d"/><rect x="315.3" fill="#0b0924"/><rect x="316.5" fill="#180f3d"/><rect x="317.6" fill="#29115a"/><rect x="318.8" fill="#271258"/><rect x="319.9" fill="#241253"/><rect x="321.0" fill="#251255"/><rect x="322.2" fill="#2c115f"/><rect x="323.3" fill="#2c115f"/><rect x="324.5" fill="#251255"/><rect x="325.6" fill="#1d1147"/><rect x="326.8" fill="#130d34"/><rect x="327.9" fill="#140e36"/><rect x="329.0" fill="#160f3b"/><rect x="330.2" fill="#1c1044"/><rect x="331.3" fill="#2a115c"/><rect x="332.5" fill="#21114e"/><rect x="333.6" fill="#0d0a29"/><rect x="334.7" fill="#0e0b2b"/><rect x="335.9" fill="#1d1147"/><rect x="337.0" fill="#1c1044"/><rect x="338.2" fill="#1a1042"/><rect x="339.3" fill="#1a1042"/><rect x="340.4" fill="#090720"/><rect x="341.6" fill="#06051a"/><rect x="342.7" fill="#130d34"/><rect x="343.9" fill="#150e38"/><rect x="345.0" fill="#120d31"/><rect x="346.2" fill="#100b2d"/><rect x="347.3" fill="#0e0b2b"/><rect x="348.4" fill="#0e0b2b"/><rect x="349.6" fill="#100b2d"/><rect x="350.7" fill="#0a0822"/><rect x="351.9" fill="#08071e"/><rect x="353.0" fill="#0e0b2b"/><rect x="354.1" fill="#160f3b"/><rect x="355.3" fill="#1e1149"/><rect x="356.4" fill="#1c1044"/><rect x="357.6" fill="#862781"/><rect x="358.7" fill="#0c0926"/><rect x="359.8" fill="#100b2d"/><rect x="361.0" fill="#140e36"/><rect x="362.1" fill="#160f3b"/><rect x="363.3" fill="#02020d"/><rect x="364.4" fill="#251255"/><rect x="365.6" fill="#241253"/><rect x="366.7" fill="#160f3b"/><rect x="367.8" fill="#130d34"/><rect x="369.0" fill="#130d34"/><rect x="370.1" fill="#0c0926"/><rect x="371.3" fill="#08071e"/><rect x="372.4" fill="#0e0b2b"/><rect x="373.5" fill="#180f3d"/><rect x="374.7" fill="#19103f"/><rect x="375.8" fill="#160f3b"/><rect x="377.0" fill="#140e36"/><rect x="378.1" fill="#180f3d"/><rect x="379.2" fill="#110c2f"/><rect x="380.4" fill="#0b0924"/><rect x="381.5" fill="#0e0b2b"/><rect x="382.7" fill="#060518"/><rect x="383.8" fill="#02020d"/><rect x="385.0" fill="#100b2d"/><rect x="386.1" fill="#20114b"/><rect x="387.2" fill="#010108"/><rect x="388.4" fill="#0a0822"/><rect x="389.5" fill="#2f1163"/><rect x="390.7" fill="#2f1163"/><rect x="391.8" fill="#2f1163"/><rect x="392.9" fill="#2f1163"/><rect x="394.1" fill="#160f3b"/><rect x="395.2" fill="#1a1042"/><rect x="396.4" fill="#1d1147"/><rect x="397.5" fill="#19103f"/><rect x="398.6" fill="#130d34"/><rect x="399.8" fill="#140e36"/><rect x="400.9" fill="#19103f"/><rect x="402.1" fill="#1d1147"/><rect x="403.2" fill="#1e1149"/><rect x="404.4" fill="#19103f"/><rect x="405.5" fill="#140e36"/><rect x="406.6" fill="#100b2d"/><rect x="407.8" fill="#0d0a29"/><rect x="408.9" fill="#1e1149"/><rect x="410.1" fill="#29115a"/><rect x="411.2" fill="#1c1044"/><rect x="412.3" fill="#1d1147"/><rect x="413.5" fill="#130d34"/><rect x="414.6" fill="#06051a"/><rect x="415.8" fill="#0d0a29"/><rect x="416.9" fill="#150e38"/><rect x="418.1" fill="#130d34"/><rect x="419.2" fill="#b2357b"/><rect x="420.3" fill="#140e36"/><rect x="421.5" fill="#160f3b"/><rect x="422.6" fill="#1d1147"/><rect x="423.8" fill="#1d1147"/><rect x="424.9" fill="#20114b"/><rect x="426.0" fill="#2a115c"/><rect x="427.2" fill="#241253"/><rect x="428.3" fill="#140e36"/><rect x="429.5" fill="#110c2f"/><rect x="430.6" fill="#1d1147"/><rect x="431.7" fill="#221150"/><rect x="432.9" fill="#1d1147"/><rect x="434.0" fill="#1a1042"/><rect x="435.2" fill="#180f3d"/><rect x="436.3" fill="#180f3d"/><rect x="437.5" fill="#160f3b"/><rect x="438.6" fill="#150e38"/><rect x="439.7" fill="#19103f"/><rect x="440.9" fill="#221150"/><rect x="442.0" fill="#251255"/><rect x="443.2" fill="#1e1149"/><rect x="444.3" fill="#19103f"/><rect x="445.4" fill="#d6456c"/><rect x="446.6" fill="#2a115c"/><rect x="447.7" fill="#241253"/><rect x="448.9" fill="#20114b"/><rect x="450.0" fill="#1a1042"/><rect x="451.1" fill="#120d31"/><rect x="452.3" fill="#1c1044"/><rect x="453.4" fill="#251255"/><rect x="454.6" fill="#1d1147"/><rect x="455.7" fill="#19103f"/><rect x="456.9" fill="#1a1042"/><rect x="458.0" fill="#130d34"/><rect x="459.1" fill="#0c0926"/><rect x="460.3" fill="#0b0924"/><rect x="461.4" fill="#100b2d"/><rect x="462.6" fill="#140e36"/><rect x="463.7" fill="#160f3b"/><rect x="464.8" fill="#20114b"/><rect x="466.0" fill="#221150"/><rect x="467.1" fill="#180f3d"/><rect x="468.3" fill="#19103f"/><rect x="469.4" fill="#20114b"/><rect x="470.5" fill="#19103f"/><rect x="471.7" fill="#130d34"/><rect x="472.8" fill="#1e1149"/><rect x="474.0" fill="#2a115c"/><rect x="475.1" fill="#1c1044"/><rect x="476.3" fill="#0e0b2b"/><rect x="477.4" fill="#e44f64"/><rect x="478.5" fill="#1a1042"/><rect x="479.7" fill="#0d0a29"/><rect x="480.8" fill="#fcfdbf"/><rect x="482.0" fill="#fcfdbf"/><rect x="483.1" fill="#1c1044"/><rect x="484.2" fill="#241253"/><rect x="485.4" fill="#251255"/><rect x="486.5" fill="#221150"/><rect x="487.7" fill="#2a115c"/><rect x="488.8" fill="#29115a"/><rect x="489.9" fill="#19103f"/><rect x="491.1" fill="#0e0b2b"/><rect x="492.2" fill="#0e0b2b"/><rect x="493.4" fill="#1c1044"/><rect x="494.5" fill="#271258"/><rect x="495.7" fill="#20114b"/><rect x="496.8" fill="#110c2f"/><rect x="497.9" fill="#0d0a29"/><rect x="499.1" fill="#100b2d"/><rect x="500.2" fill="#0e0b2b"/><rect x="501.4" fill="#120d31"/><rect x="502.5" fill="#150e38"/><rect x="503.6" fill="#19103f"/><rect x="504.8" fill="#19103f"/><rect x="505.9" fill="#140e36"/><rect x="507.1" fill="#150e38"/><rect x="508.2" fill="#1d1147"/><rect x="509.4" fill="#29115a"/><rect x="510.5" fill="#331067"/><rect x="511.6" fill="#251255"/><rect x="512.8" fill="#120d31"/><rect x="513.9" fill="#0e0b2b"/><rect x="515.1" fill="#140e36"/><rect x="516.2" fill="#0d0a29"/><rect x="517.3" fill="#0d0a29"/><rect x="518.5" fill="#1a1042"/><rect x="519.6" fill="#1d1147"/><rect x="520.8" fill="#140e36"/><rect x="521.9" fill="#aa337d"/><rect x="523.0" fill="#100b2d"/><rect x="524.2" fill="#100b2d"/><rect x="525.3" fill="#20114b"/><rect x="526.5" fill="#2f1163"/><rect x="527.6" fill="#21114e"/><rect x="528.8" fill="#100b2d"/><rect x="529.9" fill="#0b0924"/><rect x="531.0" fill="#100b2d"/><rect x="532.2" fill="#0b0924"/><rect x="533.3" fill="#0b0924"/><rect x="534.5" fill="#110c2f"/><rect x="535.6" fill="#140e36"/><rect x="536.7" fill="#221150"/><rect x="537.9" fill="#2f1163"/><rect x="539.0" fill="#271258"/><rect x="540.2" fill="#1e1149"/><rect x="541.3" fill="#221150"/><rect x="542.4" fill="#1d1147"/><rect x="543.6" fill="#140e36"/><rect x="544.7" fill="#fcfdbf"/><rect x="545.9" fill="#fcfdbf"/><rect x="547.0" fill="#0b0924"/><rect x="548.2" fill="#150e38"/><rect x="549.3" fill="#150e38"/><rect x="550.4" fill="#832681"/><rect x="551.6" fill="#150e38"/><rect x="552.7" fill="#ba3878"/><rect x="553.9" fill="#b5367a"/></g><g class="hm" transform="translate(0,344.03)"><rect x="98.5" fill="#471078"/><rect x="99.6" fill="#59157e"/><rect x="100.8" fill="#762181"/><rect x="101.9" fill="#feaa74"/><rect x="103.1" fill="#5f187f"/><rect x="104.2" fill="#52137c"/><rect x="105.3" fill="#651a80"/><rect x="106.5" fill="#ed5a5f"/><rect x="107.6" fill="#fb8560"/><rect x="108.8" fill="#5a167e"/><rect x="109.9" fill="#59157e"/><rect x="111.1" fill="#721f81"/><rect x="112.2" fill="#651a80"/><rect x="113.3" fill="#54137d"/><rect x="114.5" fill="#651a80"/><rect x="115.6" fill="#51127c"/><rect x="116.8" fill="#671b80"/><rect x="117.9" fill="#4f127b"/><rect x="119.0" fill="#52137c"/><rect x="120.2" fill="#621980"/><rect x="121.3" fill="#54137d"/><rect x="122.5" fill="#51127c"/><rect x="123.6" fill="#ef5d5e"/><rect x="124.7" fill="#451077"/><rect x="125.9" fill="#341069"/><rect x="127.0" fill="#471078"/><rect x="128.2" fill="#4c117a"/><rect x="129.3" fill="#6a1c81"/><rect x="130.5" fill="#eb5760"/><rect x="131.6" fill="#fd9467"/><rect x="132.7" fill="#2f1163"/><rect x="133.9" fill="#842681"/><rect x="135.0" fill="#56147d"/><rect x="136.2" fill="#4f127b"/><rect x="137.3" fill="#38106c"/><rect x="138.4" fill="#59157e"/><rect x="139.6" fill="#36106b"/><rect x="140.7" fill="#3f0f72"/><rect x="141.9" fill="#701f81"/><rect x="143.0" fill="#7e2482"/><rect x="144.2" fill="#5a167e"/><rect x="145.3" fill="#4e117b"/><rect x="146.4" fill="#5a167e"/><rect x="147.6" fill="#51127c"/><rect x="148.7" fill="#6d1d81"/><rect x="149.9" fill="#912b81"/><rect x="151.0" fill="#341069"/><rect x="152.1" fill="#5a167e"/><rect x="153.3" fill="#2f1163"/><rect x="154.4" fill="#5c167f"/><rect x="155.6" fill="#4a1079"/><rect x="156.7" fill="#420f75"/><rect x="157.8" fill="#57157e"/><rect x="159.0" fill="#701f81"/><rect x="160.1" fill="#fec88c"/><rect x="161.3" fill="#842681"/><rect x="162.4" fill="#451077"/><rect x="163.6" fill="#52137c"/><rect x="164.7" fill="#4c117a"/><rect x="165.8" fill="#390f6e"/><rect x="167.0" fill="#3b0f70"/><rect x="168.1" fill="#3d0f71"/><rect x="169.3" fill="#341069"/><rect x="170.4" fill="#2d1161"/><rect x="171.5" fill="#311165"/><rect x="172.7" fill="#400f74"/><rect x="173.8" fill="#4a1079"/><rect x="175.0" fill="#451077"/><rect x="176.1" fill="#331067"/><rect x="177.2" fill="#341069"/><rect x="178.4" fill="#36106b"/><rect x="179.5" fill="#241253"/><rect x="180.7" fill="#29115a"/><rect x="181.8" fill="#c43c75"/><rect x="183.0" fill="#59157e"/><rect x="184.1" fill="#52137c"/><rect x="185.2" fill="#491078"/><rect x="186.4" fill="#440f76"/><rect x="187.5" fill="#e34e65"/><rect x="188.7" fill="#51127c"/><rect x="189.8" fill="#38106c"/><rect x="190.9" fill="#2a115c"/><rect x="192.1" fill="#36106b"/><rect x="193.2" fill="#390f6e"/><rect x="194.4" fill="#331067"/><rect x="195.5" fill="#2f1163"/><rect x="196.6" fill="#311165"/><rect x="197.8" fill="#38106c"/><rect x="198.9" fill="#4a1079"/><rect x="200.1" fill="#491078"/><rect x="201.2" fill="#400f74"/><rect x="202.4" fill="#400f74"/><rect x="203.5" fill="#aa337d"/><rect x="204.6" fill="#3f0f72"/><rect x="205.8" fill="#420f75"/><rect x="206.9" fill="#400f74"/><rect x="208.1" fill="#3d0f71"/><rect x="209.2" fill="#36106b"/><rect x="210.3" fill="#1d1147"/><rect x="211.5" fill="#150e38"/><rect x="212.6" fill="#251255"/><rect x="213.8" fill="#2f1163"/><rect x="214.9" fill="#451077"/><rect x="216.0" fill="#5a167e"/><rect x="217.2" fill="#400f74"/><rect x="218.3" fill="#311165"/><rect x="219.5" fill="#471078"/><rect x="220.6" fill="#51127c"/><rect x="221.8" fill="#4a1079"/><rect x="222.9" fill="#4c117a"/><rect x="224.0" fill="#56147d"/><rect x="225.2" fill="#52137c"/><rect x="226.3" fill="#440f76"/><rect x="227.5" fill="#440f76"/><rect x="228.6" fill="#451077"/><rect x="229.7" fill="#3d0f71"/><rect x="230.9" fill="#38106c"/><rect x="232.0" fill="#390f6e"/><rect x="233.2" fill="#491078"/><rect x="234.3" fill="#4c117a"/><rect x="235.5" fill="#3d0f71"/><rect x="236.6" fill="#3b0f70"/><rect x="237.7" fill="#36106b"/><rect x="238.9" fill="#1e1149"/><rect x="240.0" fill="#1e1149"/><rect x="241.2" fill="#2d1161"/><rect x="242.3" fill="#311165"/><rect x="243.4" fill="#331067"/><rect x="244.6" fill="#2d1161"/><rect x="245.7" fill="#2f1163"/><rect x="246.9" fill="#3d0f71"/><rect x="248.0" fill="#491078"/><rect x="249.1" fill="#3d0f71"/><rect x="250.3" fill="#311165"/><rect x="251.4" fill="#4f127b"/><rect x="252.6" fill="#5f187f"/><rect x="253.7" fill="#4a1079"/><rect x="254.9" fill="#38106c"/><rect x="256.0" fill="#390f6e"/><rect x="257.1" fill="#451077"/><rect x="258.3" fill="#471078"/><rect x="259.4" fill="#390f6e"/><rect x="260.6" fill="#331067"/><rect x="261.7" fill="#311165"/><rect x="262.8" fill="#38106c"/><rect x="264.0" fill="#440f76"/><rect x="265.1" fill="#451077"/><rect x="266.3" fill="#451077"/><rect x="267.4" fill="#52137c"/><rect x="268.5" fill="#51127c"/><rect x="269.7" fill="#440f76"/><rect x="270.8" fill="#3d0f71"/><rect x="272.0" fill="#38106c"/><rect x="273.1" fill="#341069"/><rect x="274.3" fill="#2d1161"/><rect x="275.4" fill="#29115a"/><rect x="276.5" fill="#2a115c"/><rect x="277.7" fill="#400f74"/><rect x="278.8" fill="#5a167e"/><rect x="280.0" fill="#440f76"/><rect x="281.1" fill="#311165"/><rect x="282.2" fill="#51127c"/><rect x="283.4" fill="#5c167f"/><rect x="284.5" fill="#3d0f71"/><rect x="285.7" fill="#2d1161"/><rect x="286.8" fill="#311165"/><rect x="287.9" fill="#341069"/><rect x="289.1" fill="#3f0f72"/><rect x="290.2" fill="#440f76"/><rect x="291.4" fill="#440f76"/><rect x="292.5" fill="#3d0f71"/><rect x="293.7" fill="#38106c"/><rect x="294.8" fill="#36106b"/><rect x="295.9" fill="#311165"/><rect x="297.1" fill="#2c115f"/><rect x="298.2" fill="#390f6e"/><rect x="299.4" fill="#52137c"/><rect x="300.5" fill="#4a1079"/><rect x="301.6" fill="#3d0f71"/><rect x="302.8" fill="#420f75"/><rect x="303.9" fill="#420f75"/><rect x="305.1" fill="#471078"/><rect x="306.2" fill="#4c117a"/><rect x="307.3" fill="#3f0f72"/><rect x="308.5" fill="#390f6e"/><rect x="309.6" fill="#491078"/><rect x="310.8" fill="#4c117a"/><rect x="311.9" fill="#471078"/><rect x="313.1" fill="#451077"/><rect x="314.2" fill="#331067"/><rect x="315.3" fill="#2a115c"/><rect x="316.5" fill="#3f0f72"/><rect x="317.6" fill="#440f76"/><rect x="318.8" fill="#3d0f71"/><rect x="319.9" fill="#491078"/><rect x="321.0" fill="#4f127b"/><rect x="322.2" fill="#4c117a"/><rect x="323.3" fill="#4a1079"/><rect x="324.5" fill="#440f76"/><rect x="325.6" fill="#420f75"/><rect x="326.8" fill="#420f75"/><rect x="327.9" fill="#451077"/><rect x="329.0" fill="#4f127b"/><rect x="330.2" fill="#d8456c"/><rect x="331.3" fill="#681c81"/><rect x="332.5" fill="#59157e"/><rect x="333.6" fill="#390f6e"/><rect x="334.7" fill="#331067"/><rect x="335.9" fill="#400f74"/><rect x="337.0" fill="#3d0f71"/><rect x="338.2" fill="#440f76"/><rect x="339.3" fill="#451077"/><rect x="340.4" fill="#241253"/><rect x="341.6" fill="#21114e"/><rect x="342.7" fill="#451077"/><rect x="343.9" fill="#d8456c"/><rect x="345.0" fill="#491078"/><rect x="346.2" fill="#4c117a"/><rect x="347.3" fill="#341069"/><rect x="348.4" fill="#271258"/><rect x="349.6" fill="#2f1163"/><rect x="350.7" fill="#29115a"/><rect x="351.9" fill="#db476a"/><rect x="353.0" fill="#471078"/><rect x="354.1" fill="#451077"/><rect x="355.3" fill="#3b0f70"/><rect x="356.4" fill="#331067"/><rect x="357.6" fill="#982d80"/><rect x="358.7" fill="#271258"/><rect x="359.8" fill="#2c115f"/><rect x="361.0" fill="#2d1161"/><rect x="362.1" fill="#311165"/><rect x="363.3" fill="#02020d"/><rect x="364.4" fill="#54137d"/><rect x="365.6" fill="#52137c"/><rect x="366.7" fill="#3f0f72"/><rect x="367.8" fill="#440f76"/><rect x="369.0" fill="#451077"/><rect x="370.1" fill="#2f1163"/><rect x="371.3" fill="#20114b"/><rect x="372.4" fill="#2d1161"/><rect x="373.5" fill="#440f76"/><rect x="374.7" fill="#420f75"/><rect x="375.8" fill="#420f75"/><rect x="377.0" fill="#e04c67"/><rect x="378.1" fill="#5d177f"/><rect x="379.2" fill="#471078"/><rect x="380.4" fill="#221150"/><rect x="381.5" fill="#1d1147"/><rect x="382.7" fill="#180f3d"/><rect x="383.8" fill="#160f3b"/><rect x="385.0" fill="#38106c"/><rect x="386.1" fill="#57157e"/><rect x="387.2" fill="#010108"/><rect x="388.4" fill="#390f6e"/><rect x="389.5" fill="#2f1163"/><rect x="390.7" fill="#2f1163"/><rect x="391.8" fill="#2f1163"/><rect x="392.9" fill="#2f1163"/><rect x="394.1" fill="#471078"/><rect x="395.2" fill="#4e117b"/><rect x="396.4" fill="#56147d"/><rect x="397.5" fill="#59157e"/><rect x="398.6" fill="#4a1079"/><rect x="399.8" fill="#400f74"/><rect x="400.9" fill="#400f74"/><rect x="402.1" fill="#d6456c"/><rect x="403.2" fill="#4f127b"/><rect x="404.4" fill="#390f6e"/><rect x="405.5" fill="#2d1161"/><rect x="406.6" fill="#2f1163"/><rect x="407.8" fill="#3f0f72"/><rect x="408.9" fill="#e55064"/><rect x="410.1" fill="#671b80"/><rect x="411.2" fill="#4e117b"/><rect x="412.3" fill="#491078"/><rect x="413.5" fill="#3d0f71"/><rect x="414.6" fill="#311165"/><rect x="415.8" fill="#ca3e72"/><rect x="416.9" fill="#e44f64"/><rect x="418.1" fill="#3f0f72"/><rect x="419.2" fill="#c53c74"/><rect x="420.3" fill="#311165"/><rect x="421.5" fill="#420f75"/><rect x="422.6" fill="#491078"/><rect x="423.8" fill="#400f74"/><rect x="424.9" fill="#cc3f71"/><rect x="426.0" fill="#56147d"/><rect x="427.2" fill="#3d0f71"/><rect x="428.3" fill="#29115a"/><rect x="429.5" fill="#390f6e"/><rect x="430.6" fill="#5a167e"/><rect x="431.7" fill="#681c81"/><rect x="432.9" fill="#621980"/><rect x="434.0" fill="#54137d"/><rect x="435.2" fill="#4c117a"/><rect x="436.3" fill="#e24d66"/><rect x="437.5" fill="#3f0f72"/><rect x="438.6" fill="#3f0f72"/><rect x="439.7" fill="#4f127b"/><rect x="440.9" fill="#5f187f"/><rect x="442.0" fill="#56147d"/><rect x="443.2" fill="#400f74"/><rect x="444.3" fill="#36106b"/><rect x="445.4" fill="#e75263"/><rect x="446.6" fill="#4f127b"/><rect x="447.7" fill="#4e117b"/><rect x="448.9" fill="#400f74"/><rect x="450.0" fill="#331067"/><rect x="451.1" fill="#2d1161"/><rect x="452.3" fill="#420f75"/><rect x="453.4" fill="#59157e"/><rect x="454.6" fill="#51127c"/><rect x="455.7" fill="#420f75"/><rect x="456.9" fill="#471078"/><rect x="458.0" fill="#471078"/><rect x="459.1" fill="#ea5661"/><rect x="460.3" fill="#311165"/><rect x="461.4" fill="#3f0f72"/><rect x="462.6" fill="#4a1079"/><rect x="463.7" fill="#4c117a"/><rect x="464.8" fill="#59157e"/><rect x="466.0" fill="#601880"/><rect x="467.1" fill="#471078"/><rect x="468.3" fill="#38106c"/><rect x="469.4" fill="#420f75"/><rect x="470.5" fill="#451077"/><rect x="471.7" fill="#3d0f71"/><rect x="472.8" fill="#51127c"/><rect x="474.0" fill="#651a80"/><rect x="475.1" fill="#52137c"/><rect x="476.3" fill="#331067"/><rect x="477.4" fill="#f1605d"/><rect x="478.5" fill="#2f1163"/><rect x="479.7" fill="#2a115c"/><rect x="480.8" fill="#331067"/><rect x="482.0" fill="#420f75"/><rect x="483.1" fill="#3f0f72"/><rect x="484.2" fill="#4e117b"/><rect x="485.4" fill="#b3367a"/><rect x="486.5" fill="#59157e"/><rect x="487.7" fill="#5c167f"/><rect x="488.8" fill="#56147d"/><rect x="489.9" fill="#400f74"/><rect x="491.1" fill="#2f1163"/><rect x="492.2" fill="#2c115f"/><rect x="493.4" fill="#3f0f72"/><rect x="494.5" fill="#54137d"/><rect x="495.7" fill="#4e117b"/><rect x="496.8" fill="#390f6e"/><rect x="497.9" fill="#311165"/><rect x="499.1" fill="#390f6e"/><rect x="500.2" fill="#420f75"/><rect x="501.4" fill="#3f0f72"/><rect x="502.5" fill="#3d0f71"/><rect x="503.6" fill="#451077"/><rect x="504.8" fill="#440f76"/><rect x="505.9" fill="#451077"/><rect x="507.1" fill="#4e117b"/><rect x="508.2" fill="#4e117b"/><rect x="509.4" fill="#4f127b"/><rect x="510.5" fill="#5c167f"/><rect x="511.6" fill="#601880"/><rect x="512.8" fill="#471078"/><rect x="513.9" fill="#2c115f"/><rect x="515.1" fill="#251255"/><rect x="516.2" fill="#1c1044"/><rect x="517.3" fill="#21114e"/><rect x="518.5" fill="#3d0f71"/><rect x="519.6" fill="#471078"/><rect x="520.8" fill="#ed5a5f"/><rect x="521.9" fill="#bd3977"/><rect x="523.0" fill="#2d1161"/><rect x="524.2" fill="#390f6e"/><rect x="525.3" fill="#54137d"/><rect x="526.5" fill="#681c81"/><rect x="527.6" fill="#54137d"/><rect x="528.8" fill="#331067"/><rect x="529.9" fill="#2a115c"/><rect x="531.0" fill="#390f6e"/><rect x="532.2" fill="#440f76"/><rect x="533.3" fill="#390f6e"/><rect x="534.5" fill="#311165"/><rect x="535.6" fill="#3b0f70"/><rect x="536.7" fill="#56147d"/><rect x="537.9" fill="#671b80"/><rect x="539.0" fill="#641a80"/><rect x="540.2" fill="#52137c"/><rect x="541.3" fill="#451077"/><rect x="542.4" fill="#3b0f70"/><rect x="543.6" fill="#331067"/><rect x="544.7" fill="#fcfdbf"/><rect x="545.9" fill="#fcfdbf"/><rect x="547.0" fill="#3f0f72"/><rect x="548.2" fill="#451077"/><rect x="549.3" fill="#38106c"/><rect x="550.4" fill="#942c80"/><rect x="551.6" fill="#400f74"/><rect x="552.7" fill="#cd4071"/><rect x="553.9" fill="#c73d73"/></g><g class="hm" transform="translate(0,331.47)"><rect x="98.5" fill="#4c117a"/><rect x="99.6" fill="#3f0f72"/><rect x="100.8" fill="#52137c"/><rect x="101.9" fill="#febb81"/><rect x="103.1" fill="#fd9266"/><rect x="104.2" fill="#fa7f5e"/><rect x="105.3" fill="#491078"/><rect x="106.5" fill="#f4675c"/><rect x="107.6" fill="#fd9467"/><rect x="108.8" fill="#36106b"/><rect x="109.9" fill="#7b2382"/><rect x="111.1" fill="#feb27a"/><rect x="112.2" fill="#341069"/><rect x="113.3" fill="#451077"/><rect x="114.5" fill="#601880"/><rect x="115.6" fill="#3b0f70"/><rect x="116.8" fill="#420f75"/><rect x="117.9" fill="#762181"/><rect x="119.0" fill="#440f76"/><rect x="120.2" fill="#38106c"/><rect x="121.3" fill="#f05f5e"/><rect x="122.5" fill="#f66c5c"/><rect x="123.6" fill="#f66c5c"/><rect x="124.7" fill="#6e1e81"/><rect x="125.9" fill="#241253"/><rect x="127.0" fill="#491078"/><rect x="128.2" fill="#fea16e"/><rect x="129.3" fill="#471078"/><rect x="130.5" fill="#f2645c"/><rect x="131.6" fill="#fea571"/><rect x="132.7" fill="#fd9467"/><rect x="133.9" fill="#6e1e81"/><rect x="135.0" fill="#390f6e"/><rect x="136.2" fill="#6b1d81"/><rect x="137.3" fill="#5d177f"/><rect x="138.4" fill="#641a80"/><rect x="139.6" fill="#5d177f"/><rect x="140.7" fill="#701f81"/><rect x="141.9" fill="#4f127b"/><rect x="143.0" fill="#311165"/><rect x="144.2" fill="#641a80"/><rect x="145.3" fill="#390f6e"/><rect x="146.4" fill="#20114b"/><rect x="147.6" fill="#5f187f"/><rect x="148.7" fill="#fc8a62"/><rect x="149.9" fill="#51127c"/><rect x="151.0" fill="#57157e"/><rect x="152.1" fill="#20114b"/><rect x="153.3" fill="#54137d"/><rect x="154.4" fill="#feb67c"/><rect x="155.6" fill="#2c115f"/><rect x="156.7" fill="#451077"/><rect x="157.8" fill="#3d0f71"/><rect x="159.0" fill="#54137d"/><rect x="160.1" fill="#fec88c"/><rect x="161.3" fill="#641a80"/><rect x="162.4" fill="#892881"/><rect x="163.6" fill="#892881"/><rect x="164.7" fill="#802582"/><rect x="165.8" fill="#6b1d81"/><rect x="167.0" fill="#6a1c81"/><rect x="168.1" fill="#792282"/><rect x="169.3" fill="#752181"/><rect x="170.4" fill="#601880"/><rect x="171.5" fill="#e04c67"/><rect x="172.7" fill="#6e1e81"/><rect x="173.8" fill="#7e2482"/><rect x="175.0" fill="#782281"/><rect x="176.1" fill="#59157e"/><rect x="177.2" fill="#57157e"/><rect x="178.4" fill="#641a80"/><rect x="179.5" fill="#57157e"/><rect x="180.7" fill="#56147d"/><rect x="181.8" fill="#d5446d"/><rect x="183.0" fill="#862781"/><rect x="184.1" fill="#8b2981"/><rect x="185.2" fill="#752181"/><rect x="186.4" fill="#752181"/><rect x="187.5" fill="#f2645c"/><rect x="188.7" fill="#832681"/><rect x="189.8" fill="#721f81"/><rect x="190.9" fill="#792282"/><rect x="192.1" fill="#842681"/><rect x="193.2" fill="#732081"/><rect x="194.4" fill="#671b80"/><rect x="195.5" fill="#6b1d81"/><rect x="196.6" fill="#782281"/><rect x="197.8" fill="#862781"/><rect x="198.9" fill="#8e2a81"/><rect x="200.1" fill="#842681"/><rect x="201.2" fill="#802582"/><rect x="202.4" fill="#842681"/><rect x="203.5" fill="#bd3977"/><rect x="204.6" fill="#6e1e81"/><rect x="205.8" fill="#782281"/><rect x="206.9" fill="#792282"/><rect x="208.1" fill="#752181"/><rect x="209.2" fill="#681c81"/><rect x="210.3" fill="#4f127b"/><rect x="211.5" fill="#52137c"/><rect x="212.6" fill="#681c81"/><rect x="213.8" fill="#701f81"/><rect x="214.9" fill="#8b2981"/><rect x="216.0" fill="#992d80"/><rect x="217.2" fill="#752181"/><rect x="218.3" fill="#671b80"/><rect x="219.5" fill="#752181"/><rect x="220.6" fill="#7b2382"/><rect x="221.8" fill="#752181"/><rect x="222.9" fill="#752181"/><rect x="224.0" fill="#892881"/><rect x="225.2" fill="#862781"/><rect x="226.3" fill="#681c81"/><rect x="227.5" fill="#651a80"/><rect x="228.6" fill="#6a1c81"/><rect x="229.7" fill="#6d1d81"/><rect x="230.9" fill="#732081"/><rect x="232.0" fill="#792282"/><rect x="233.2" fill="#862781"/><rect x="234.3" fill="#812581"/><rect x="235.5" fill="#6d1d81"/><rect x="236.6" fill="#641a80"/><rect x="237.7" fill="#601880"/><rect x="238.9" fill="#51127c"/><rect x="240.0" fill="#5a167e"/><rect x="241.2" fill="#6b1d81"/><rect x="242.3" fill="#5d177f"/><rect x="243.4" fill="#52137c"/><rect x="244.6" fill="#57157e"/><rect x="245.7" fill="#671b80"/><rect x="246.9" fill="#802582"/><rect x="248.0" fill="#912b81"/><rect x="249.1" fill="#782281"/><rect x="250.3" fill="#671b80"/><rect x="251.4" fill="#882781"/><rect x="252.6" fill="#992d80"/><rect x="253.7" fill="#882781"/><rect x="254.9" fill="#782281"/><rect x="256.0" fill="#6d1d81"/><rect x="257.1" fill="#721f81"/><rect x="258.3" fill="#792282"/><rect x="259.4" fill="#782281"/><rect x="260.6" fill="#762181"/><rect x="261.7" fill="#6a1c81"/><rect x="262.8" fill="#56147d"/><rect x="264.0" fill="#5c167f"/><rect x="265.1" fill="#762181"/><rect x="266.3" fill="#862781"/><rect x="267.4" fill="#862781"/><rect x="268.5" fill="#732081"/><rect x="269.7" fill="#6a1c81"/><rect x="270.8" fill="#6e1e81"/><rect x="272.0" fill="#732081"/><rect x="273.1" fill="#792282"/><rect x="274.3" fill="#7c2382"/><rect x="275.4" fill="#701f81"/><rect x="276.5" fill="#621980"/><rect x="277.7" fill="#792282"/><rect x="278.8" fill="#8c2981"/><rect x="280.0" fill="#6d1d81"/><rect x="281.1" fill="#641a80"/><rect x="282.2" fill="#7e2482"/><rect x="283.4" fill="#7b2382"/><rect x="284.5" fill="#59157e"/><rect x="285.7" fill="#4f127b"/><rect x="286.8" fill="#51127c"/><rect x="287.9" fill="#57157e"/><rect x="289.1" fill="#6e1e81"/><rect x="290.2" fill="#762181"/><rect x="291.4" fill="#762181"/><rect x="292.5" fill="#752181"/><rect x="293.7" fill="#6e1e81"/><rect x="294.8" fill="#671b80"/><rect x="295.9" fill="#5a167e"/><rect x="297.1" fill="#4c117a"/><rect x="298.2" fill="#5c167f"/><rect x="299.4" fill="#792282"/><rect x="300.5" fill="#732081"/><rect x="301.6" fill="#6a1c81"/><rect x="302.8" fill="#681c81"/><rect x="303.9" fill="#641a80"/><rect x="305.1" fill="#732081"/><rect x="306.2" fill="#892881"/><rect x="307.3" fill="#7e2482"/><rect x="308.5" fill="#6b1d81"/><rect x="309.6" fill="#6a1c81"/><rect x="310.8" fill="#e75263"/><rect x="311.9" fill="#7c2382"/><rect x="313.1" fill="#782281"/><rect x="314.2" fill="#621980"/><rect x="315.3" fill="#5f187f"/><rect x="316.5" fill="#7c2382"/><rect x="317.6" fill="#8e2a81"/><rect x="318.8" fill="#882781"/><rect x="319.9" fill="#812581"/><rect x="321.0" fill="#832681"/><rect x="322.2" fill="#8b2981"/><rect x="323.3" fill="#862781"/><rect x="324.5" fill="#782281"/><rect x="325.6" fill="#6d1d81"/><rect x="326.8" fill="#601880"/><rect x="327.9" fill="#6e1e81"/><rect x="329.0" fill="#912b81"/><rect x="330.2" fill="#d8456c"/><rect x="331.3" fill="#aa337d"/><rect x="332.5" fill="#962c80"/><rect x="333.6" fill="#641a80"/><rect x="334.7" fill="#51127c"/><rect x="335.9" fill="#671b80"/><rect x="337.0" fill="#671b80"/><rect x="338.2" fill="#752181"/><rect x="339.3" fill="#792282"/><rect x="340.4" fill="#4e117b"/><rect x="341.6" fill="#471078"/><rect x="342.7" fill="#6b1d81"/><rect x="343.9" fill="#d8456c"/><rect x="345.0" fill="#752181"/><rect x="346.2" fill="#752181"/><rect x="347.3" fill="#641a80"/><rect x="348.4" fill="#5d177f"/><rect x="349.6" fill="#5f187f"/><rect x="350.7" fill="#52137c"/><rect x="351.9" fill="#db476a"/><rect x="353.0" fill="#8b2981"/><rect x="354.1" fill="#c53c74"/><rect x="355.3" fill="#792282"/><rect x="356.4" fill="#5d177f"/><rect x="357.6" fill="#ab337c"/><rect x="358.7" fill="#52137c"/><rect x="359.8" fill="#5d177f"/><rect x="361.0" fill="#6d1d81"/><rect x="362.1" fill="#6a1c81"/><rect x="363.3" fill="#02020d"/><rect x="364.4" fill="#7c2382"/><rect x="365.6" fill="#842681"/><rect x="366.7" fill="#732081"/><rect x="367.8" fill="#701f81"/><rect x="369.0" fill="#ec5860"/><rect x="370.1" fill="#701f81"/><rect x="371.3" fill="#56147d"/><rect x="372.4" fill="#59157e"/><rect x="373.5" fill="#762181"/><rect x="374.7" fill="#882781"/><rect x="375.8" fill="#892881"/><rect x="377.0" fill="#ee5b5e"/><rect x="378.1" fill="#7e2482"/><rect x="379.2" fill="#6b1d81"/><rect x="380.4" fill="#51127c"/><rect x="381.5" fill="#4e117b"/><rect x="382.7" fill="#451077"/><rect x="383.8" fill="#400f74"/><rect x="385.0" fill="#671b80"/><rect x="386.1" fill="#8e2a81"/><rect x="387.2" fill="#010108"/><rect x="388.4" fill="#671b80"/><rect x="389.5" fill="#2f1163"/><rect x="390.7" fill="#2f1163"/><rect x="391.8" fill="#2f1163"/><rect x="392.9" fill="#2f1163"/><rect x="394.1" fill="#721f81"/><rect x="395.2" fill="#762181"/><rect x="396.4" fill="#782281"/><rect x="397.5" fill="#f05f5e"/><rect x="398.6" fill="#6d1d81"/><rect x="399.8" fill="#792282"/><rect x="400.9" fill="#862781"/><rect x="402.1" fill="#d6456c"/><rect x="403.2" fill="#802582"/><rect x="404.4" fill="#c73d73"/><rect x="405.5" fill="#681c81"/><rect x="406.6" fill="#681c81"/><rect x="407.8" fill="#641a80"/><rect x="408.9" fill="#e55064"/><rect x="410.1" fill="#912b81"/><rect x="411.2" fill="#792282"/><rect x="412.3" fill="#782281"/><rect x="413.5" fill="#6b1d81"/><rect x="414.6" fill="#56147d"/><rect x="415.8" fill="#db476a"/><rect x="416.9" fill="#e44f64"/><rect x="418.1" fill="#6b1d81"/><rect x="419.2" fill="#d6456c"/><rect x="420.3" fill="#641a80"/><rect x="421.5" fill="#721f81"/><rect x="422.6" fill="#862781"/><rect x="423.8" fill="#892881"/><rect x="424.9" fill="#cc3f71"/><rect x="426.0" fill="#8e2a81"/><rect x="427.2" fill="#6b1d81"/><rect x="428.3" fill="#52137c"/><rect x="429.5" fill="#5f187f"/><rect x="430.6" fill="#842681"/><rect x="431.7" fill="#932b80"/><rect x="432.9" fill="#8c2981"/><rect x="434.0" fill="#8c2981"/><rect x="435.2" fill="#7e2482"/><rect x="436.3" fill="#e24d66"/><rect x="437.5" fill="#7b2382"/><rect x="438.6" fill="#7b2382"/><rect x="439.7" fill="#832681"/><rect x="440.9" fill="#932b80"/><rect x="442.0" fill="#8b2981"/><rect x="443.2" fill="#792282"/><rect x="444.3" fill="#671b80"/><rect x="445.4" fill="#f2625d"/><rect x="446.6" fill="#842681"/><rect x="447.7" fill="#832681"/><rect x="448.9" fill="#762181"/><rect x="450.0" fill="#6a1c81"/><rect x="451.1" fill="#e55064"/><rect x="452.3" fill="#601880"/><rect x="453.4" fill="#621980"/><rect x="454.6" fill="#601880"/><rect x="455.7" fill="#601880"/><rect x="456.9" fill="#701f81"/><rect x="458.0" fill="#732081"/><rect x="459.1" fill="#f4695c"/><rect x="460.3" fill="#5d177f"/><rect x="461.4" fill="#6a1c81"/><rect x="462.6" fill="#732081"/><rect x="463.7" fill="#6d1d81"/><rect x="464.8" fill="#792282"/><rect x="466.0" fill="#892881"/><rect x="467.1" fill="#7c2382"/><rect x="468.3" fill="#732081"/><rect x="469.4" fill="#792282"/><rect x="470.5" fill="#721f81"/><rect x="471.7" fill="#681c81"/><rect x="472.8" fill="#842681"/><rect x="474.0" fill="#9c2e7f"/><rect x="475.1" fill="#882781"/><rect x="476.3" fill="#6b1d81"/><rect x="477.4" fill="#f8745c"/><rect x="478.5" fill="#671b80"/><rect x="479.7" fill="#651a80"/><rect x="480.8" fill="#681c81"/><rect x="482.0" fill="#7b2382"/><rect x="483.1" fill="#882781"/><rect x="484.2" fill="#9b2e7f"/><rect x="485.4" fill="#c73d73"/><rect x="486.5" fill="#912b81"/><rect x="487.7" fill="#a1307e"/><rect x="488.8" fill="#a5317e"/><rect x="489.9" fill="#812581"/><rect x="491.1" fill="#5c167f"/><rect x="492.2" fill="#4c117a"/><rect x="493.4" fill="#681c81"/><rect x="494.5" fill="#932b80"/><rect x="495.7" fill="#8b2981"/><rect x="496.8" fill="#641a80"/><rect x="497.9" fill="#4e117b"/><rect x="499.1" fill="#59157e"/><rect x="500.2" fill="#671b80"/><rect x="501.4" fill="#6d1d81"/><rect x="502.5" fill="#7e2482"/><rect x="503.6" fill="#902a81"/><rect x="504.8" fill="#902a81"/><rect x="505.9" fill="#832681"/><rect x="507.1" fill="#732081"/><rect x="508.2" fill="#641a80"/><rect x="509.4" fill="#6b1d81"/><rect x="510.5" fill="#882781"/><rect x="511.6" fill="#8c2981"/><rect x="512.8" fill="#762181"/><rect x="513.9" fill="#6a1c81"/><rect x="515.1" fill="#671b80"/><rect x="516.2" fill="#57157e"/><rect x="517.3" fill="#641a80"/><rect x="518.5" fill="#862781"/><rect x="519.6" fill="#812581"/><rect x="520.8" fill="#f66e5c"/><rect x="521.9" fill="#cf4070"/><rect x="523.0" fill="#6a1c81"/><rect x="524.2" fill="#802582"/><rect x="525.3" fill="#912b81"/><rect x="526.5" fill="#992d80"/><rect x="527.6" fill="#802582"/><rect x="528.8" fill="#621980"/><rect x="529.9" fill="#5c167f"/><rect x="531.0" fill="#6b1d81"/><rect x="532.2" fill="#6b1d81"/><rect x="533.3" fill="#651a80"/><rect x="534.5" fill="#6b1d81"/><rect x="535.6" fill="#721f81"/><rect x="536.7" fill="#832681"/><rect x="537.9" fill="#932b80"/><rect x="539.0" fill="#892881"/><rect x="540.2" fill="#7e2482"/><rect x="541.3" fill="#7b2382"/><rect x="542.4" fill="#732081"/><rect x="543.6" fill="#641a80"/><rect x="544.7" fill="#5a167e"/><rect x="545.9" fill="#51127c"/><rect x="547.0" fill="#5a167e"/><rect x="548.2" fill="#782281"/><rect x="549.3" fill="#792282"/><rect x="550.4" fill="#a8327d"/><rect x="551.6" fill="#6a1c81"/><rect x="552.7" fill="#de4968"/><rect x="553.9" fill="#d9466b"/></g><g class="hm" transform="translate(0,318.90)"><rect x="98.5" fill="#fed597"/><rect x="99.6" fill="#802582"/><rect x="100.8" fill="#802582"/><rect x="101.9" fill="#fecc8f"/><rect x="103.1" fill="#fea36f"/><rect x="104.2" fill="#fc8e64"/><rect x="105.3" fill="#6d1d81"/><rect x="106.5" fill="#f9785d"/><rect x="107.6" fill="#fea571"/><rect x="108.8" fill="#7c2382"/><rect x="109.9" fill="#54137d"/><rect x="111.1" fill="#fec287"/><rect x="112.2" fill="#57157e"/><rect x="113.3" fill="#792282"/><rect x="114.5" fill="#671b80"/><rect x="115.6" fill="#721f81"/><rect x="116.8" fill="#5a167e"/><rect x="117.9" fill="#4a1079"/><rect x="119.0" fill="#440f76"/><rect x="120.2" fill="#5d177f"/><rect x="121.3" fill="#f66e5c"/><rect x="122.5" fill="#fa7d5e"/><rect x="123.6" fill="#f97b5d"/><rect x="124.7" fill="#681c81"/><rect x="125.9" fill="#732081"/><rect x="127.0" fill="#802582"/><rect x="128.2" fill="#feb27a"/><rect x="129.3" fill="#8c2981"/><rect x="130.5" fill="#f8745c"/><rect x="131.6" fill="#feb67c"/><rect x="132.7" fill="#fea36f"/><rect x="133.9" fill="#782281"/><rect x="135.0" fill="#f4695c"/><rect x="136.2" fill="#fec185"/><rect x="137.3" fill="#721f81"/><rect x="138.4" fill="#f4695c"/><rect x="139.6" fill="#782281"/><rect x="140.7" fill="#862781"/><rect x="141.9" fill="#6b1d81"/><rect x="143.0" fill="#5c167f"/><rect x="144.2" fill="#7c2382"/><rect x="145.3" fill="#651a80"/><rect x="146.4" fill="#671b80"/><rect x="147.6" fill="#651a80"/><rect x="148.7" fill="#fd9b6b"/><rect x="149.9" fill="#671b80"/><rect x="151.0" fill="#6e1e81"/><rect x="152.1" fill="#6e1e81"/><rect x="153.3" fill="#902a81"/><rect x="154.4" fill="#fec68a"/><rect x="155.6" fill="#5d177f"/><rect x="156.7" fill="#38106c"/><rect x="157.8" fill="#fe9d6c"/><rect x="159.0" fill="#feb77e"/><rect x="160.1" fill="#fec88c"/><rect x="161.3" fill="#59157e"/><rect x="162.4" fill="#b2357b"/><rect x="163.6" fill="#ba3878"/><rect x="164.7" fill="#ab337c"/><rect x="165.8" fill="#992d80"/><rect x="167.0" fill="#942c80"/><rect x="168.1" fill="#942c80"/><rect x="169.3" fill="#8b2981"/><rect x="170.4" fill="#752181"/><rect x="171.5" fill="#ee5b5e"/><rect x="172.7" fill="#832681"/><rect x="173.8" fill="#9e2f7f"/><rect x="175.0" fill="#962c80"/><rect x="176.1" fill="#6b1d81"/><rect x="177.2" fill="#721f81"/><rect x="178.4" fill="#842681"/><rect x="179.5" fill="#732081"/><rect x="180.7" fill="#721f81"/><rect x="181.8" fill="#e55064"/><rect x="183.0" fill="#9b2e7f"/><rect x="184.1" fill="#9c2e7f"/><rect x="185.2" fill="#892881"/><rect x="186.4" fill="#842681"/><rect x="187.5" fill="#f9785d"/><rect x="188.7" fill="#aa337d"/><rect x="189.8" fill="#942c80"/><rect x="190.9" fill="#8e2a81"/><rect x="192.1" fill="#982d80"/><rect x="193.2" fill="#942c80"/><rect x="194.4" fill="#8c2981"/><rect x="195.5" fill="#842681"/><rect x="196.6" fill="#862781"/><rect x="197.8" fill="#962c80"/><rect x="198.9" fill="#b0357b"/><rect x="200.1" fill="#b5367a"/><rect x="201.2" fill="#aa337d"/><rect x="202.4" fill="#a5317e"/><rect x="203.5" fill="#d0416f"/><rect x="204.6" fill="#aa337d"/><rect x="205.8" fill="#aa337d"/><rect x="206.9" fill="#8c2981"/><rect x="208.1" fill="#762181"/><rect x="209.2" fill="#802582"/><rect x="210.3" fill="#681c81"/><rect x="211.5" fill="#54137d"/><rect x="212.6" fill="#681c81"/><rect x="213.8" fill="#812581"/><rect x="214.9" fill="#b0357b"/><rect x="216.0" fill="#b83779"/><rect x="217.2" fill="#882781"/><rect x="218.3" fill="#7c2382"/><rect x="219.5" fill="#9b2e7f"/><rect x="220.6" fill="#a3307e"/><rect x="221.8" fill="#862781"/><rect x="222.9" fill="#7b2382"/><rect x="224.0" fill="#942c80"/><rect x="225.2" fill="#932b80"/><rect x="226.3" fill="#752181"/><rect x="227.5" fill="#752181"/><rect x="228.6" fill="#892881"/><rect x="229.7" fill="#892881"/><rect x="230.9" fill="#812581"/><rect x="232.0" fill="#8c2981"/><rect x="233.2" fill="#a6317d"/><rect x="234.3" fill="#b2357b"/><rect x="235.5" fill="#9c2e7f"/><rect x="236.6" fill="#8b2981"/><rect x="237.7" fill="#832681"/><rect x="238.9" fill="#6b1d81"/><rect x="240.0" fill="#701f81"/><rect x="241.2" fill="#7c2382"/><rect x="242.3" fill="#6e1e81"/><rect x="243.4" fill="#752181"/><rect x="244.6" fill="#892881"/><rect x="245.7" fill="#8b2981"/><rect x="246.9" fill="#8b2981"/><rect x="248.0" fill="#912b81"/><rect x="249.1" fill="#7b2382"/><rect x="250.3" fill="#6e1e81"/><rect x="251.4" fill="#992d80"/><rect x="252.6" fill="#ae347b"/><rect x="253.7" fill="#9c2e7f"/><rect x="254.9" fill="#912b81"/><rect x="256.0" fill="#862781"/><rect x="257.1" fill="#8c2981"/><rect x="258.3" fill="#992d80"/><rect x="259.4" fill="#8b2981"/><rect x="260.6" fill="#7e2482"/><rect x="261.7" fill="#7b2382"/><rect x="262.8" fill="#7b2382"/><rect x="264.0" fill="#892881"/><rect x="265.1" fill="#962c80"/><rect x="266.3" fill="#962c80"/><rect x="267.4" fill="#982d80"/><rect x="268.5" fill="#902a81"/><rect x="269.7" fill="#842681"/><rect x="270.8" fill="#7e2482"/><rect x="272.0" fill="#812581"/><rect x="273.1" fill="#902a81"/><rect x="274.3" fill="#902a81"/><rect x="275.4" fill="#802582"/><rect x="276.5" fill="#762181"/><rect x="277.7" fill="#862781"/><rect x="278.8" fill="#9c2e7f"/><rect x="280.0" fill="#862781"/><rect x="281.1" fill="#752181"/><rect x="282.2" fill="#912b81"/><rect x="283.4" fill="#a3307e"/><rect x="284.5" fill="#942c80"/><rect x="285.7" fill="#8e2a81"/><rect x="286.8" fill="#802582"/><rect x="287.9" fill="#802582"/><rect x="289.1" fill="#962c80"/><rect x="290.2" fill="#9e2f7f"/><rect x="291.4" fill="#962c80"/><rect x="292.5" fill="#992d80"/><rect x="293.7" fill="#a5317e"/><rect x="294.8" fill="#912b81"/><rect x="295.9" fill="#7c2382"/><rect x="297.1" fill="#762181"/><rect x="298.2" fill="#7e2482"/><rect x="299.4" fill="#882781"/><rect x="300.5" fill="#802582"/><rect x="301.6" fill="#902a81"/><rect x="302.8" fill="#9e2f7f"/><rect x="303.9" fill="#932b80"/><rect x="305.1" fill="#9c2e7f"/><rect x="306.2" fill="#a8327d"/><rect x="307.3" fill="#9b2e7f"/><rect x="308.5" fill="#902a81"/><rect x="309.6" fill="#962c80"/><rect x="310.8" fill="#f2645c"/><rect x="311.9" fill="#b3367a"/><rect x="313.1" fill="#9b2e7f"/><rect x="314.2" fill="#762181"/><rect x="315.3" fill="#792282"/><rect x="316.5" fill="#992d80"/><rect x="317.6" fill="#a3307e"/><rect x="318.8" fill="#992d80"/><rect x="319.9" fill="#982d80"/><rect x="321.0" fill="#962c80"/><rect x="322.2" fill="#a5317e"/><rect x="323.3" fill="#a8327d"/><rect x="324.5" fill="#992d80"/><rect x="325.6" fill="#9b2e7f"/><rect x="326.8" fill="#992d80"/><rect x="327.9" fill="#9c2e7f"/><rect x="329.0" fill="#a02f7f"/><rect x="330.2" fill="#d8456c"/><rect x="331.3" fill="#ca3e72"/><rect x="332.5" fill="#b5367a"/><rect x="333.6" fill="#752181"/><rect x="334.7" fill="#681c81"/><rect x="335.9" fill="#902a81"/><rect x="337.0" fill="#962c80"/><rect x="338.2" fill="#942c80"/><rect x="339.3" fill="#902a81"/><rect x="340.4" fill="#6b1d81"/><rect x="341.6" fill="#681c81"/><rect x="342.7" fill="#862781"/><rect x="343.9" fill="#d8456c"/><rect x="345.0" fill="#882781"/><rect x="346.2" fill="#832681"/><rect x="347.3" fill="#6d1d81"/><rect x="348.4" fill="#6b1d81"/><rect x="349.6" fill="#782281"/><rect x="350.7" fill="#6e1e81"/><rect x="351.9" fill="#db476a"/><rect x="353.0" fill="#802582"/><rect x="354.1" fill="#d6456c"/><rect x="355.3" fill="#932b80"/><rect x="356.4" fill="#862781"/><rect x="357.6" fill="#bd3977"/><rect x="358.7" fill="#671b80"/><rect x="359.8" fill="#6a1c81"/><rect x="361.0" fill="#832681"/><rect x="362.1" fill="#962c80"/><rect x="363.3" fill="#02020d"/><rect x="364.4" fill="#b73779"/><rect x="365.6" fill="#aa337d"/><rect x="366.7" fill="#912b81"/><rect x="367.8" fill="#892881"/><rect x="369.0" fill="#f66c5c"/><rect x="370.1" fill="#942c80"/><rect x="371.3" fill="#842681"/><rect x="372.4" fill="#8c2981"/><rect x="373.5" fill="#aa337d"/><rect x="374.7" fill="#aa337d"/><rect x="375.8" fill="#9e2f7f"/><rect x="377.0" fill="#f7705c"/><rect x="378.1" fill="#982d80"/><rect x="379.2" fill="#7c2382"/><rect x="380.4" fill="#721f81"/><rect x="381.5" fill="#762181"/><rect x="382.7" fill="#5a167e"/><rect x="383.8" fill="#491078"/><rect x="385.0" fill="#762181"/><rect x="386.1" fill="#a5317e"/><rect x="387.2" fill="#010108"/><rect x="388.4" fill="#832681"/><rect x="389.5" fill="#2f1163"/><rect x="390.7" fill="#2f1163"/><rect x="391.8" fill="#2f1163"/><rect x="392.9" fill="#2f1163"/><rect x="394.1" fill="#942c80"/><rect x="395.2" fill="#932b80"/><rect x="396.4" fill="#ad347c"/><rect x="397.5" fill="#f8745c"/><rect x="398.6" fill="#942c80"/><rect x="399.8" fill="#862781"/><rect x="400.9" fill="#962c80"/><rect x="402.1" fill="#d6456c"/><rect x="403.2" fill="#942c80"/><rect x="404.4" fill="#d8456c"/><rect x="405.5" fill="#7b2382"/><rect x="406.6" fill="#792282"/><rect x="407.8" fill="#802582"/><rect x="408.9" fill="#e55064"/><rect x="410.1" fill="#b83779"/><rect x="411.2" fill="#b0357b"/><rect x="412.3" fill="#c03a76"/><rect x="413.5" fill="#9e2f7f"/><rect x="414.6" fill="#701f81"/><rect x="415.8" fill="#ea5661"/><rect x="416.9" fill="#e44f64"/><rect x="418.1" fill="#7b2382"/><rect x="419.2" fill="#e75263"/><rect x="420.3" fill="#732081"/><rect x="421.5" fill="#8b2981"/><rect x="422.6" fill="#9e2f7f"/><rect x="423.8" fill="#912b81"/><rect x="424.9" fill="#cc3f71"/><rect x="426.0" fill="#962c80"/><rect x="427.2" fill="#902a81"/><rect x="428.3" fill="#7c2382"/><rect x="429.5" fill="#892881"/><rect x="430.6" fill="#b0357b"/><rect x="431.7" fill="#bc3978"/><rect x="432.9" fill="#ad347c"/><rect x="434.0" fill="#a6317d"/><rect x="435.2" fill="#ad347c"/><rect x="436.3" fill="#e24d66"/><rect x="437.5" fill="#8b2981"/><rect x="438.6" fill="#832681"/><rect x="439.7" fill="#932b80"/><rect x="440.9" fill="#9e2f7f"/><rect x="442.0" fill="#9b2e7f"/><rect x="443.2" fill="#932b80"/><rect x="444.3" fill="#832681"/><rect x="445.4" fill="#f9785d"/><rect x="446.6" fill="#ad347c"/><rect x="447.7" fill="#a5317e"/><rect x="448.9" fill="#902a81"/><rect x="450.0" fill="#7b2382"/><rect x="451.1" fill="#f2625d"/><rect x="452.3" fill="#892881"/><rect x="453.4" fill="#9e2f7f"/><rect x="454.6" fill="#992d80"/><rect x="455.7" fill="#932b80"/><rect x="456.9" fill="#962c80"/><rect x="458.0" fill="#842681"/><rect x="459.1" fill="#fa7f5e"/><rect x="460.3" fill="#6b1d81"/><rect x="461.4" fill="#782281"/><rect x="462.6" fill="#912b81"/><rect x="463.7" fill="#912b81"/><rect x="464.8" fill="#9e2f7f"/><rect x="466.0" fill="#ae347b"/><rect x="467.1" fill="#912b81"/><rect x="468.3" fill="#842681"/><rect x="469.4" fill="#942c80"/><rect x="470.5" fill="#892881"/><rect x="471.7" fill="#7e2482"/><rect x="472.8" fill="#aa337d"/><rect x="474.0" fill="#c03a76"/><rect x="475.1" fill="#962c80"/><rect x="476.3" fill="#701f81"/><rect x="477.4" fill="#fc8a62"/><rect x="478.5" fill="#721f81"/><rect x="479.7" fill="#721f81"/><rect x="480.8" fill="#792282"/><rect x="482.0" fill="#882781"/><rect x="483.1" fill="#932b80"/><rect x="484.2" fill="#b3367a"/><rect x="485.4" fill="#d9466b"/><rect x="486.5" fill="#a6317d"/><rect x="487.7" fill="#b83779"/><rect x="488.8" fill="#c03a76"/><rect x="489.9" fill="#992d80"/><rect x="491.1" fill="#6e1e81"/><rect x="492.2" fill="#601880"/><rect x="493.4" fill="#802582"/><rect x="494.5" fill="#aa337d"/><rect x="495.7" fill="#a3307e"/><rect x="496.8" fill="#862781"/><rect x="497.9" fill="#7c2382"/><rect x="499.1" fill="#882781"/><rect x="500.2" fill="#8e2a81"/><rect x="501.4" fill="#812581"/><rect x="502.5" fill="#7c2382"/><rect x="503.6" fill="#832681"/><rect x="504.8" fill="#812581"/><rect x="505.9" fill="#842681"/><rect x="507.1" fill="#892881"/><rect x="508.2" fill="#842681"/><rect x="509.4" fill="#992d80"/><rect x="510.5" fill="#b5367a"/><rect x="511.6" fill="#aa337d"/><rect x="512.8" fill="#862781"/><rect x="513.9" fill="#782281"/><rect x="515.1" fill="#752181"/><rect x="516.2" fill="#5d177f"/><rect x="517.3" fill="#732081"/><rect x="518.5" fill="#a6317d"/><rect x="519.6" fill="#ab337c"/><rect x="520.8" fill="#fb8560"/><rect x="521.9" fill="#e04c67"/><rect x="523.0" fill="#842681"/><rect x="524.2" fill="#902a81"/><rect x="525.3" fill="#b83779"/><rect x="526.5" fill="#c83e73"/><rect x="527.6" fill="#9e2f7f"/><rect x="528.8" fill="#7b2382"/><rect x="529.9" fill="#792282"/><rect x="531.0" fill="#862781"/><rect x="532.2" fill="#882781"/><rect x="533.3" fill="#832681"/><rect x="534.5" fill="#792282"/><rect x="535.6" fill="#7e2482"/><rect x="536.7" fill="#a8327d"/><rect x="537.9" fill="#c53c74"/><rect x="539.0" fill="#b0357b"/><rect x="540.2" fill="#962c80"/><rect x="541.3" fill="#9b2e7f"/><rect x="542.4" fill="#a02f7f"/><rect x="543.6" fill="#912b81"/><rect x="544.7" fill="#7b2382"/><rect x="545.9" fill="#671b80"/><rect x="547.0" fill="#6b1d81"/><rect x="548.2" fill="#7e2482"/><rect x="549.3" fill="#8e2a81"/><rect x="550.4" fill="#ba3878"/><rect x="551.6" fill="#932b80"/><rect x="552.7" fill="#ec5860"/><rect x="553.9" fill="#e85362"/></g><g class="hm" transform="translate(0,306.33)"><rect x="98.5" fill="#fde5a7"/><rect x="99.6" fill="#ad347c"/><rect x="100.8" fill="#a3307e"/><rect x="101.9" fill="#fdda9c"/><rect x="103.1" fill="#feb47b"/><rect x="104.2" fill="#fe9f6d"/><rect x="105.3" fill="#ab337c"/><rect x="106.5" fill="#fc8961"/><rect x="107.6" fill="#feb67c"/><rect x="108.8" fill="#cd4071"/><rect x="109.9" fill="#ba3878"/><rect x="111.1" fill="#fed194"/><rect x="112.2" fill="#cc3f71"/><rect x="113.3" fill="#6b1d81"/><rect x="114.5" fill="#9e2f7f"/><rect x="115.6" fill="#9e2f7f"/><rect x="116.8" fill="#912b81"/><rect x="117.9" fill="#7b2382"/><rect x="119.0" fill="#ab337c"/><rect x="120.2" fill="#812581"/><rect x="121.3" fill="#fa7d5e"/><rect x="122.5" fill="#fc8e64"/><rect x="123.6" fill="#fc8c63"/><rect x="124.7" fill="#b3367a"/><rect x="125.9" fill="#b0357b"/><rect x="127.0" fill="#982d80"/><rect x="128.2" fill="#fec287"/><rect x="129.3" fill="#701f81"/><rect x="130.5" fill="#fb8560"/><rect x="131.6" fill="#fec488"/><rect x="132.7" fill="#feb47b"/><rect x="133.9" fill="#6a1c81"/><rect x="135.0" fill="#f9795d"/><rect x="136.2" fill="#fed194"/><rect x="137.3" fill="#b2357b"/><rect x="138.4" fill="#f9795d"/><rect x="139.6" fill="#b0357b"/><rect x="140.7" fill="#962c80"/><rect x="141.9" fill="#8c2981"/><rect x="143.0" fill="#9e2f7f"/><rect x="144.2" fill="#992d80"/><rect x="145.3" fill="#a02f7f"/><rect x="146.4" fill="#a3307e"/><rect x="147.6" fill="#832681"/><rect x="148.7" fill="#feac76"/><rect x="149.9" fill="#9c2e7f"/><rect x="151.0" fill="#c03a76"/><rect x="152.1" fill="#a6317d"/><rect x="153.3" fill="#aa337d"/><rect x="154.4" fill="#fed799"/><rect x="155.6" fill="#9b2e7f"/><rect x="156.7" fill="#7b2382"/><rect x="157.8" fill="#feac76"/><rect x="159.0" fill="#fec88c"/><rect x="160.1" fill="#fec88c"/><rect x="161.3" fill="#c03a76"/><rect x="162.4" fill="#d8456c"/><rect x="163.6" fill="#ec5860"/><rect x="164.7" fill="#eb5760"/><rect x="165.8" fill="#d6456c"/><rect x="167.0" fill="#d6456c"/><rect x="168.1" fill="#d6456c"/><rect x="169.3" fill="#c53c74"/><rect x="170.4" fill="#b0357b"/><rect x="171.5" fill="#a8327d"/><rect x="172.7" fill="#b5367a"/><rect x="173.8" fill="#d2426f"/><rect x="175.0" fill="#d5446d"/><rect x="176.1" fill="#ad347c"/><rect x="177.2" fill="#b0357b"/><rect x="178.4" fill="#b3367a"/><rect x="179.5" fill="#992d80"/><rect x="180.7" fill="#aa337d"/><rect x="181.8" fill="#d5446d"/><rect x="183.0" fill="#f05f5e"/><rect x="184.1" fill="#ef5d5e"/><rect x="185.2" fill="#d8456c"/><rect x="186.4" fill="#c73d73"/><rect x="187.5" fill="#fc8e64"/><rect x="188.7" fill="#e44f64"/><rect x="189.8" fill="#d2426f"/><rect x="190.9" fill="#c03a76"/><rect x="192.1" fill="#ca3e72"/><rect x="193.2" fill="#ca3e72"/><rect x="194.4" fill="#bf3a77"/><rect x="195.5" fill="#b73779"/><rect x="196.6" fill="#b73779"/><rect x="197.8" fill="#c83e73"/><rect x="198.9" fill="#de4968"/><rect x="200.1" fill="#d3436e"/><rect x="201.2" fill="#d0416f"/><rect x="202.4" fill="#d3436e"/><rect x="203.5" fill="#c03a76"/><rect x="204.6" fill="#cc3f71"/><rect x="205.8" fill="#d6456c"/><rect x="206.9" fill="#ca3e72"/><rect x="208.1" fill="#c03a76"/><rect x="209.2" fill="#b0357b"/><rect x="210.3" fill="#a3307e"/><rect x="211.5" fill="#ab337c"/><rect x="212.6" fill="#b83779"/><rect x="213.8" fill="#bd3977"/><rect x="214.9" fill="#d9466b"/><rect x="216.0" fill="#e95462"/><rect x="217.2" fill="#c83e73"/><rect x="218.3" fill="#b2357b"/><rect x="219.5" fill="#cc3f71"/><rect x="220.6" fill="#d8456c"/><rect x="221.8" fill="#c43c75"/><rect x="222.9" fill="#c53c74"/><rect x="224.0" fill="#d5446d"/><rect x="225.2" fill="#cc3f71"/><rect x="226.3" fill="#c23b75"/><rect x="227.5" fill="#c23b75"/><rect x="228.6" fill="#b5367a"/><rect x="229.7" fill="#ae347b"/><rect x="230.9" fill="#b3367a"/><rect x="232.0" fill="#bd3977"/><rect x="233.2" fill="#d2426f"/><rect x="234.3" fill="#d6456c"/><rect x="235.5" fill="#cc3f71"/><rect x="236.6" fill="#c23b75"/><rect x="237.7" fill="#b73779"/><rect x="238.9" fill="#a1307e"/><rect x="240.0" fill="#ab337c"/><rect x="241.2" fill="#b0357b"/><rect x="242.3" fill="#a1307e"/><rect x="243.4" fill="#ab337c"/><rect x="244.6" fill="#bf3a77"/><rect x="245.7" fill="#d6456c"/><rect x="246.9" fill="#e55064"/><rect x="248.0" fill="#e75263"/><rect x="249.1" fill="#cf4070"/><rect x="250.3" fill="#bd3977"/><rect x="251.4" fill="#e34e65"/><rect x="252.6" fill="#f1605d"/><rect x="253.7" fill="#e44f64"/><rect x="254.9" fill="#d0416f"/><rect x="256.0" fill="#b5367a"/><rect x="257.1" fill="#bd3977"/><rect x="258.3" fill="#dc4869"/><rect x="259.4" fill="#d3436e"/><rect x="260.6" fill="#c23b75"/><rect x="261.7" fill="#bf3a77"/><rect x="262.8" fill="#ad347c"/><rect x="264.0" fill="#b2357b"/><rect x="265.1" fill="#c73d73"/><rect x="266.3" fill="#cd4071"/><rect x="267.4" fill="#d5446d"/><rect x="268.5" fill="#c43c75"/><rect x="269.7" fill="#ad347c"/><rect x="270.8" fill="#b3367a"/><rect x="272.0" fill="#c03a76"/><rect x="273.1" fill="#c53c74"/><rect x="274.3" fill="#ba3878"/><rect x="275.4" fill="#a5317e"/><rect x="276.5" fill="#962c80"/><rect x="277.7" fill="#b2357b"/><rect x="278.8" fill="#d9466b"/><rect x="280.0" fill="#ca3e72"/><rect x="281.1" fill="#c03a76"/><rect x="282.2" fill="#e85362"/><rect x="283.4" fill="#e95462"/><rect x="284.5" fill="#c43c75"/><rect x="285.7" fill="#b73779"/><rect x="286.8" fill="#b0357b"/><rect x="287.9" fill="#b83779"/><rect x="289.1" fill="#d2426f"/><rect x="290.2" fill="#d0416f"/><rect x="291.4" fill="#cc3f71"/><rect x="292.5" fill="#d0416f"/><rect x="293.7" fill="#d5446d"/><rect x="294.8" fill="#c73d73"/><rect x="295.9" fill="#aa337d"/><rect x="297.1" fill="#a1307e"/><rect x="298.2" fill="#c43c75"/><rect x="299.4" fill="#d8456c"/><rect x="300.5" fill="#c73d73"/><rect x="301.6" fill="#c73d73"/><rect x="302.8" fill="#bf3a77"/><rect x="303.9" fill="#a02f7f"/><rect x="305.1" fill="#9c2e7f"/><rect x="306.2" fill="#b73779"/><rect x="307.3" fill="#c53c74"/><rect x="308.5" fill="#c53c74"/><rect x="309.6" fill="#d3436e"/><rect x="310.8" fill="#f9795d"/><rect x="311.9" fill="#e24d66"/><rect x="313.1" fill="#c23b75"/><rect x="314.2" fill="#a6317d"/><rect x="315.3" fill="#a5317e"/><rect x="316.5" fill="#c73d73"/><rect x="317.6" fill="#d9466b"/><rect x="318.8" fill="#d2426f"/><rect x="319.9" fill="#d2426f"/><rect x="321.0" fill="#d5446d"/><rect x="322.2" fill="#e75263"/><rect x="323.3" fill="#e85362"/><rect x="324.5" fill="#d2426f"/><rect x="325.6" fill="#c43c75"/><rect x="326.8" fill="#c83e73"/><rect x="327.9" fill="#dc4869"/><rect x="329.0" fill="#e44f64"/><rect x="330.2" fill="#d8456c"/><rect x="331.3" fill="#f66c5c"/><rect x="332.5" fill="#e44f64"/><rect x="333.6" fill="#a1307e"/><rect x="334.7" fill="#9c2e7f"/><rect x="335.9" fill="#c03a76"/><rect x="337.0" fill="#c83e73"/><rect x="338.2" fill="#d2426f"/><rect x="339.3" fill="#d3436e"/><rect x="340.4" fill="#aa337d"/><rect x="341.6" fill="#a02f7f"/><rect x="342.7" fill="#bf3a77"/><rect x="343.9" fill="#d8456c"/><rect x="345.0" fill="#b5367a"/><rect x="346.2" fill="#bc3978"/><rect x="347.3" fill="#a1307e"/><rect x="348.4" fill="#9b2e7f"/><rect x="349.6" fill="#ab337c"/><rect x="350.7" fill="#a02f7f"/><rect x="351.9" fill="#db476a"/><rect x="353.0" fill="#c43c75"/><rect x="354.1" fill="#e75263"/><rect x="355.3" fill="#d0416f"/><rect x="356.4" fill="#d0416f"/><rect x="357.6" fill="#d0416f"/><rect x="358.7" fill="#ad347c"/><rect x="359.8" fill="#c23b75"/><rect x="361.0" fill="#cf4070"/><rect x="362.1" fill="#c03a76"/><rect x="363.3" fill="#02020d"/><rect x="364.4" fill="#e75263"/><rect x="365.6" fill="#e95462"/><rect x="366.7" fill="#d3436e"/><rect x="367.8" fill="#d3436e"/><rect x="369.0" fill="#fa815f"/><rect x="370.1" fill="#b83779"/><rect x="371.3" fill="#a1307e"/><rect x="372.4" fill="#b2357b"/><rect x="373.5" fill="#cf4070"/><rect x="374.7" fill="#ca3e72"/><rect x="375.8" fill="#c53c74"/><rect x="377.0" fill="#d9466b"/><rect x="378.1" fill="#dc4869"/><rect x="379.2" fill="#b83779"/><rect x="380.4" fill="#9b2e7f"/><rect x="381.5" fill="#962c80"/><rect x="382.7" fill="#812581"/><rect x="383.8" fill="#792282"/><rect x="385.0" fill="#b2357b"/><rect x="386.1" fill="#df4a68"/><rect x="387.2" fill="#010108"/><rect x="388.4" fill="#b3367a"/><rect x="389.5" fill="#2f1163"/><rect x="390.7" fill="#2f1163"/><rect x="391.8" fill="#2f1163"/><rect x="392.9" fill="#2f1163"/><rect x="394.1" fill="#bd3977"/><rect x="395.2" fill="#cc3f71"/><rect x="396.4" fill="#e95462"/><rect x="397.5" fill="#fc8a62"/><rect x="398.6" fill="#de4968"/><rect x="399.8" fill="#cd4071"/><rect x="400.9" fill="#ca3e72"/><rect x="402.1" fill="#d6456c"/><rect x="403.2" fill="#db476a"/><rect x="404.4" fill="#e85362"/><rect x="405.5" fill="#c73d73"/><rect x="406.6" fill="#c23b75"/><rect x="407.8" fill="#cc3f71"/><rect x="408.9" fill="#e55064"/><rect x="410.1" fill="#f2625d"/><rect x="411.2" fill="#cf4070"/><rect x="412.3" fill="#d0416f"/><rect x="413.5" fill="#bf3a77"/><rect x="414.6" fill="#992d80"/><rect x="415.8" fill="#f4695c"/><rect x="416.9" fill="#e44f64"/><rect x="418.1" fill="#bd3977"/><rect x="419.2" fill="#f2645c"/><rect x="420.3" fill="#c53c74"/><rect x="421.5" fill="#de4968"/><rect x="422.6" fill="#ef5d5e"/><rect x="423.8" fill="#ee5b5e"/><rect x="424.9" fill="#cc3f71"/><rect x="426.0" fill="#f2645c"/><rect x="427.2" fill="#d3436e"/><rect x="428.3" fill="#9e2f7f"/><rect x="429.5" fill="#962c80"/><rect x="430.6" fill="#d3436e"/><rect x="431.7" fill="#f3655c"/><rect x="432.9" fill="#f05f5e"/><rect x="434.0" fill="#e44f64"/><rect x="435.2" fill="#df4a68"/><rect x="436.3" fill="#e24d66"/><rect x="437.5" fill="#c03a76"/><rect x="438.6" fill="#b2357b"/><rect x="439.7" fill="#cd4071"/><rect x="440.9" fill="#ea5661"/><rect x="442.0" fill="#e55064"/><rect x="443.2" fill="#c83e73"/><rect x="444.3" fill="#b3367a"/><rect x="445.4" fill="#d0416f"/><rect x="446.6" fill="#ef5d5e"/><rect x="447.7" fill="#ec5860"/><rect x="448.9" fill="#df4a68"/><rect x="450.0" fill="#ca3e72"/><rect x="451.1" fill="#b2357b"/><rect x="452.3" fill="#b5367a"/><rect x="453.4" fill="#ca3e72"/><rect x="454.6" fill="#d3436e"/><rect x="455.7" fill="#cf4070"/><rect x="456.9" fill="#c83e73"/><rect x="458.0" fill="#b83779"/><rect x="459.1" fill="#aa337d"/><rect x="460.3" fill="#ae347b"/><rect x="461.4" fill="#bc3978"/><rect x="462.6" fill="#cf4070"/><rect x="463.7" fill="#dc4869"/><rect x="464.8" fill="#e44f64"/><rect x="466.0" fill="#df4a68"/><rect x="467.1" fill="#bc3978"/><rect x="468.3" fill="#b5367a"/><rect x="469.4" fill="#d0416f"/><rect x="470.5" fill="#cd4071"/><rect x="471.7" fill="#bf3a77"/><rect x="472.8" fill="#db476a"/><rect x="474.0" fill="#e85362"/><rect x="475.1" fill="#d2426f"/><rect x="476.3" fill="#c43c75"/><rect x="477.4" fill="#cf4070"/><rect x="478.5" fill="#d2426f"/><rect x="479.7" fill="#b0357b"/><rect x="480.8" fill="#b73779"/><rect x="482.0" fill="#d6456c"/><rect x="483.1" fill="#cc3f71"/><rect x="484.2" fill="#d3436e"/><rect x="485.4" fill="#e34e65"/><rect x="486.5" fill="#e04c67"/><rect x="487.7" fill="#ea5661"/><rect x="488.8" fill="#f05f5e"/><rect x="489.9" fill="#e04c67"/><rect x="491.1" fill="#c23b75"/><rect x="492.2" fill="#b5367a"/><rect x="493.4" fill="#cf4070"/><rect x="494.5" fill="#eb5760"/><rect x="495.7" fill="#e85362"/><rect x="496.8" fill="#c73d73"/><rect x="497.9" fill="#b5367a"/><rect x="499.1" fill="#c03a76"/><rect x="500.2" fill="#c23b75"/><rect x="501.4" fill="#b83779"/><rect x="502.5" fill="#c43c75"/><rect x="503.6" fill="#d5446d"/><rect x="504.8" fill="#d6456c"/><rect x="505.9" fill="#db476a"/><rect x="507.1" fill="#d9466b"/><rect x="508.2" fill="#de4968"/><rect x="509.4" fill="#f2625d"/><rect x="510.5" fill="#f66c5c"/><rect x="511.6" fill="#e44f64"/><rect x="512.8" fill="#bf3a77"/><rect x="513.9" fill="#ab337c"/><rect x="515.1" fill="#aa337d"/><rect x="516.2" fill="#a1307e"/><rect x="517.3" fill="#b0357b"/><rect x="518.5" fill="#de4968"/><rect x="519.6" fill="#ea5661"/><rect x="520.8" fill="#c53c74"/><rect x="521.9" fill="#a1307e"/><rect x="523.0" fill="#a6317d"/><rect x="524.2" fill="#bc3978"/><rect x="525.3" fill="#e44f64"/><rect x="526.5" fill="#f7705c"/><rect x="527.6" fill="#eb5760"/><rect x="528.8" fill="#c43c75"/><rect x="529.9" fill="#b3367a"/><rect x="531.0" fill="#b73779"/><rect x="532.2" fill="#ad347c"/><rect x="533.3" fill="#aa337d"/><rect x="534.5" fill="#b3367a"/><rect x="535.6" fill="#c73d73"/><rect x="536.7" fill="#e85362"/><rect x="537.9" fill="#f66e5c"/><rect x="539.0" fill="#f05f5e"/><rect x="540.2" fill="#de4968"/><rect x="541.3" fill="#d6456c"/><rect x="542.4" fill="#d0416f"/><rect x="543.6" fill="#cc3f71"/><rect x="544.7" fill="#bd3977"/><rect x="545.9" fill="#a1307e"/><rect x="547.0" fill="#b83779"/><rect x="548.2" fill="#e34e65"/><rect x="549.3" fill="#db476a"/><rect x="550.4" fill="#d0416f"/><rect x="551.6" fill="#c23b75"/><rect x="552.7" fill="#f66c5c"/><rect x="553.9" fill="#f3655c"/></g><g class="hm" transform="translate(0,293.77)"><rect x="98.5" fill="#fcf6b8"/><rect x="99.6" fill="#fb8560"/><rect x="100.8" fill="#fb8761"/><rect x="101.9" fill="#fdebac"/><rect x="103.1" fill="#fec287"/><rect x="104.2" fill="#feb078"/><rect x="105.3" fill="#fb8560"/><rect x="106.5" fill="#fd9a6a"/><rect x="107.6" fill="#fec68a"/><rect x="108.8" fill="#f9795d"/><rect x="109.9" fill="#fc8a62"/><rect x="111.1" fill="#fde2a3"/><rect x="112.2" fill="#fa7f5e"/><rect x="113.3" fill="#f97b5d"/><rect x="114.5" fill="#fb835f"/><rect x="115.6" fill="#fa815f"/><rect x="116.8" fill="#f8745c"/><rect x="117.9" fill="#f66e5c"/><rect x="119.0" fill="#f2625d"/><rect x="120.2" fill="#ea5661"/><rect x="121.3" fill="#fc8e64"/><rect x="122.5" fill="#fe9f6d"/><rect x="123.6" fill="#fe9d6c"/><rect x="124.7" fill="#f8765c"/><rect x="125.9" fill="#f9785d"/><rect x="127.0" fill="#f05f5e"/><rect x="128.2" fill="#fed395"/><rect x="129.3" fill="#f4695c"/><rect x="130.5" fill="#fd9467"/><rect x="131.6" fill="#fed597"/><rect x="132.7" fill="#fec488"/><rect x="133.9" fill="#f2625d"/><rect x="135.0" fill="#fc8a62"/><rect x="136.2" fill="#fde0a1"/><rect x="137.3" fill="#fa7d5e"/><rect x="138.4" fill="#fc8961"/><rect x="139.6" fill="#fb8560"/><rect x="140.7" fill="#fb835f"/><rect x="141.9" fill="#f7705c"/><rect x="143.0" fill="#f66c5c"/><rect x="144.2" fill="#3d0f71"/><rect x="145.3" fill="#f56b5c"/><rect x="146.4" fill="#f2625d"/><rect x="147.6" fill="#f9795d"/><rect x="148.7" fill="#febb81"/><rect x="149.9" fill="#f9785d"/><rect x="151.0" fill="#f97b5d"/><rect x="152.1" fill="#f8745c"/><rect x="153.3" fill="#f7725c"/><rect x="154.4" fill="#fde5a7"/><rect x="155.6" fill="#fc9065"/><rect x="156.7" fill="#f9795d"/><rect x="157.8" fill="#febd82"/><rect x="159.0" fill="#fed89a"/><rect x="160.1" fill="#fec88c"/><rect x="161.3" fill="#fc8a62"/><rect x="162.4" fill="#fc8961"/><rect x="163.6" fill="#fc8c63"/><rect x="164.7" fill="#fc8c63"/><rect x="165.8" fill="#f9785d"/><rect x="167.0" fill="#f4695c"/><rect x="168.1" fill="#f66c5c"/><rect x="169.3" fill="#f66e5c"/><rect x="170.4" fill="#f4695c"/><rect x="171.5" fill="#f4695c"/><rect x="172.7" fill="#f97b5d"/><rect x="173.8" fill="#fd9266"/><rect x="175.0" fill="#fb8560"/><rect x="176.1" fill="#f56b5c"/><rect x="177.2" fill="#f8765c"/><rect x="178.4" fill="#fa7f5e"/><rect x="179.5" fill="#f3655c"/><rect x="180.7" fill="#f05f5e"/><rect x="181.8" fill="#f9785d"/><rect x="183.0" fill="#fc8e64"/><rect x="184.1" fill="#fc8e64"/><rect x="185.2" fill="#fa7d5e"/><rect x="186.4" fill="#f7705c"/><rect x="187.5" fill="#fa7d5e"/><rect x="188.7" fill="#fc8a62"/><rect x="189.8" fill="#fb835f"/><rect x="190.9" fill="#fa7d5e"/><rect x="192.1" fill="#fa7f5e"/><rect x="193.2" fill="#f8745c"/><rect x="194.4" fill="#f2645c"/><rect x="195.5" fill="#f1605d"/><rect x="196.6" fill="#f4675c"/><rect x="197.8" fill="#f9785d"/><rect x="198.9" fill="#fd9266"/><rect x="200.1" fill="#fd9668"/><rect x="201.2" fill="#fb8560"/><rect x="202.4" fill="#f9795d"/><rect x="203.5" fill="#f97b5d"/><rect x="204.6" fill="#fb8560"/><rect x="205.8" fill="#fc8c63"/><rect x="206.9" fill="#fa815f"/><rect x="208.1" fill="#f8745c"/><rect x="209.2" fill="#f3655c"/><rect x="210.3" fill="#e75263"/><rect x="211.5" fill="#e34e65"/><rect x="212.6" fill="#f05f5e"/><rect x="213.8" fill="#f66e5c"/><rect x="214.9" fill="#fb835f"/><rect x="216.0" fill="#fc8c63"/><rect x="217.2" fill="#f9795d"/><rect x="218.3" fill="#f8745c"/><rect x="219.5" fill="#f9785d"/><rect x="220.6" fill="#f9785d"/><rect x="221.8" fill="#f8745c"/><rect x="222.9" fill="#f8745c"/><rect x="224.0" fill="#fa815f"/><rect x="225.2" fill="#fb8761"/><rect x="226.3" fill="#f9785d"/><rect x="227.5" fill="#f66e5c"/><rect x="228.6" fill="#f66e5c"/><rect x="229.7" fill="#f7705c"/><rect x="230.9" fill="#f7705c"/><rect x="232.0" fill="#f8765c"/><rect x="233.2" fill="#fb835f"/><rect x="234.3" fill="#fb8761"/><rect x="235.5" fill="#f9795d"/><rect x="236.6" fill="#f7705c"/><rect x="237.7" fill="#f4695c"/><rect x="238.9" fill="#ef5d5e"/><rect x="240.0" fill="#f3655c"/><rect x="241.2" fill="#f7705c"/><rect x="242.3" fill="#f56b5c"/><rect x="243.4" fill="#f66e5c"/><rect x="244.6" fill="#f66c5c"/><rect x="245.7" fill="#f56b5c"/><rect x="246.9" fill="#f66e5c"/><rect x="248.0" fill="#f9785d"/><rect x="249.1" fill="#f8745c"/><rect x="250.3" fill="#f4695c"/><rect x="251.4" fill="#fa815f"/><rect x="252.6" fill="#fd9266"/><rect x="253.7" fill="#fa7f5e"/><rect x="254.9" fill="#f7725c"/><rect x="256.0" fill="#f8765c"/><rect x="257.1" fill="#f9795d"/><rect x="258.3" fill="#fa815f"/><rect x="259.4" fill="#fa815f"/><rect x="260.6" fill="#f8745c"/><rect x="261.7" fill="#f7705c"/><rect x="262.8" fill="#f66e5c"/><rect x="264.0" fill="#f66e5c"/><rect x="265.1" fill="#fa7f5e"/><rect x="266.3" fill="#fb8761"/><rect x="267.4" fill="#fa815f"/><rect x="268.5" fill="#f9795d"/><rect x="269.7" fill="#f9795d"/><rect x="270.8" fill="#f97b5d"/><rect x="272.0" fill="#f8745c"/><rect x="273.1" fill="#f8745c"/><rect x="274.3" fill="#f9785d"/><rect x="275.4" fill="#f56b5c"/><rect x="276.5" fill="#f05f5e"/><rect x="277.7" fill="#f7725c"/><rect x="278.8" fill="#fc8961"/><rect x="280.0" fill="#f97b5d"/><rect x="281.1" fill="#f9785d"/><rect x="282.2" fill="#fc8a62"/><rect x="283.4" fill="#fc8a62"/><rect x="284.5" fill="#f7705c"/><rect x="285.7" fill="#f3655c"/><rect x="286.8" fill="#f2645c"/><rect x="287.9" fill="#f3655c"/><rect x="289.1" fill="#f9785d"/><rect x="290.2" fill="#f97b5d"/><rect x="291.4" fill="#f8765c"/><rect x="292.5" fill="#fa815f"/><rect x="293.7" fill="#fc8961"/><rect x="294.8" fill="#f97b5d"/><rect x="295.9" fill="#f66e5c"/><rect x="297.1" fill="#f4695c"/><rect x="298.2" fill="#f8765c"/><rect x="299.4" fill="#fb8761"/><rect x="300.5" fill="#fa7f5e"/><rect x="301.6" fill="#f9795d"/><rect x="302.8" fill="#f8765c"/><rect x="303.9" fill="#f66e5c"/><rect x="305.1" fill="#f8745c"/><rect x="306.2" fill="#fa7d5e"/><rect x="307.3" fill="#f97b5d"/><rect x="308.5" fill="#fa7d5e"/><rect x="309.6" fill="#fc8961"/><rect x="310.8" fill="#fd9467"/><rect x="311.9" fill="#fc9065"/><rect x="313.1" fill="#fa7f5e"/><rect x="314.2" fill="#f66e5c"/><rect x="315.3" fill="#f66c5c"/><rect x="316.5" fill="#fb8560"/><rect x="317.6" fill="#fc8e64"/><rect x="318.8" fill="#fa815f"/><rect x="319.9" fill="#fa7d5e"/><rect x="321.0" fill="#fb835f"/><rect x="322.2" fill="#fc8a62"/><rect x="323.3" fill="#fb8560"/><rect x="324.5" fill="#f9785d"/><rect x="325.6" fill="#f7725c"/><rect x="326.8" fill="#f7725c"/><rect x="327.9" fill="#fa815f"/><rect x="329.0" fill="#fc8961"/><rect x="330.2" fill="#fc8e64"/><rect x="331.3" fill="#fd9869"/><rect x="332.5" fill="#fb835f"/><rect x="333.6" fill="#f3655c"/><rect x="334.7" fill="#f4675c"/><rect x="335.9" fill="#f9785d"/><rect x="337.0" fill="#f9785d"/><rect x="338.2" fill="#f9795d"/><rect x="339.3" fill="#f9785d"/><rect x="340.4" fill="#f05f5e"/><rect x="341.6" fill="#f1605d"/><rect x="342.7" fill="#fa7f5e"/><rect x="343.9" fill="#fb835f"/><rect x="345.0" fill="#f9785d"/><rect x="346.2" fill="#f66e5c"/><rect x="347.3" fill="#f3655c"/><rect x="348.4" fill="#f3655c"/><rect x="349.6" fill="#f3655c"/><rect x="350.7" fill="#ee5b5e"/><rect x="351.9" fill="#f1605d"/><rect x="353.0" fill="#f9795d"/><rect x="354.1" fill="#fb835f"/><rect x="355.3" fill="#f7725c"/><rect x="356.4" fill="#f56b5c"/><rect x="357.6" fill="#f4695c"/><rect x="358.7" fill="#f1605d"/><rect x="359.8" fill="#f3655c"/><rect x="361.0" fill="#f9785d"/><rect x="362.1" fill="#fa7d5e"/><rect x="363.3" fill="#02020d"/><rect x="364.4" fill="#fb835f"/><rect x="365.6" fill="#fd9266"/><rect x="366.7" fill="#fb8761"/><rect x="367.8" fill="#f9785d"/><rect x="369.0" fill="#f8745c"/><rect x="370.1" fill="#f7725c"/><rect x="371.3" fill="#f66c5c"/><rect x="372.4" fill="#f8765c"/><rect x="373.5" fill="#fb835f"/><rect x="374.7" fill="#f97b5d"/><rect x="375.8" fill="#f9795d"/><rect x="377.0" fill="#fc8a62"/><rect x="378.1" fill="#fc8c63"/><rect x="379.2" fill="#f4695c"/><rect x="380.4" fill="#eb5760"/><rect x="381.5" fill="#f1605d"/><rect x="382.7" fill="#e55064"/><rect x="383.8" fill="#d9466b"/><rect x="385.0" fill="#f2645c"/><rect x="386.1" fill="#fb8761"/><rect x="387.2" fill="#010108"/><rect x="388.4" fill="#f2645c"/><rect x="389.5" fill="#f56b5c"/><rect x="390.7" fill="#fa815f"/><rect x="391.8" fill="#fa815f"/><rect x="392.9" fill="#f9785d"/><rect x="394.1" fill="#f8765c"/><rect x="395.2" fill="#fa815f"/><rect x="396.4" fill="#fc9065"/><rect x="397.5" fill="#fc8c63"/><rect x="398.6" fill="#f97b5d"/><rect x="399.8" fill="#f8765c"/><rect x="400.9" fill="#fa7d5e"/><rect x="402.1" fill="#fb8560"/><rect x="403.2" fill="#fb8761"/><rect x="404.4" fill="#fa815f"/><rect x="405.5" fill="#fa7f5e"/><rect x="406.6" fill="#f8745c"/><rect x="407.8" fill="#f8745c"/><rect x="408.9" fill="#fd9668"/><rect x="410.1" fill="#fd9a6a"/><rect x="411.2" fill="#fa7f5e"/><rect x="412.3" fill="#f8745c"/><rect x="413.5" fill="#f3655c"/><rect x="414.6" fill="#f05f5e"/><rect x="415.8" fill="#f8765c"/><rect x="416.9" fill="#fa7f5e"/><rect x="418.1" fill="#f7725c"/><rect x="419.2" fill="#f66c5c"/><rect x="420.3" fill="#f7705c"/><rect x="421.5" fill="#fa7f5e"/><rect x="422.6" fill="#fc8a62"/><rect x="423.8" fill="#fa815f"/><rect x="424.9" fill="#f9795d"/><rect x="426.0" fill="#f9785d"/><rect x="427.2" fill="#f4695c"/><rect x="428.3" fill="#ef5d5e"/><rect x="429.5" fill="#f4695c"/><rect x="430.6" fill="#fc8c63"/><rect x="431.7" fill="#fd9b6b"/><rect x="432.9" fill="#fd9266"/><rect x="434.0" fill="#fb8761"/><rect x="435.2" fill="#fa7f5e"/><rect x="436.3" fill="#fa7d5e"/><rect x="437.5" fill="#f97b5d"/><rect x="438.6" fill="#f9785d"/><rect x="439.7" fill="#fa7d5e"/><rect x="440.9" fill="#fc8e64"/><rect x="442.0" fill="#fc8961"/><rect x="443.2" fill="#f97b5d"/><rect x="444.3" fill="#f9795d"/><rect x="445.4" fill="#fb8560"/><rect x="446.6" fill="#fc8e64"/><rect x="447.7" fill="#fa815f"/><rect x="448.9" fill="#f66c5c"/><rect x="450.0" fill="#f4675c"/><rect x="451.1" fill="#f2625d"/><rect x="452.3" fill="#f56b5c"/><rect x="453.4" fill="#fa7f5e"/><rect x="454.6" fill="#f97b5d"/><rect x="455.7" fill="#f7705c"/><rect x="456.9" fill="#f7705c"/><rect x="458.0" fill="#f66c5c"/><rect x="459.1" fill="#f2645c"/><rect x="460.3" fill="#f2625d"/><rect x="461.4" fill="#f8745c"/><rect x="462.6" fill="#fb8761"/><rect x="463.7" fill="#fa815f"/><rect x="464.8" fill="#fc8961"/><rect x="466.0" fill="#fc8a62"/><rect x="467.1" fill="#f8745c"/><rect x="468.3" fill="#f7705c"/><rect x="469.4" fill="#f9785d"/><rect x="470.5" fill="#f7725c"/><rect x="471.7" fill="#f8745c"/><rect x="472.8" fill="#fd9266"/><rect x="474.0" fill="#fd9a6a"/><rect x="475.1" fill="#f9795d"/><rect x="476.3" fill="#f2625d"/><rect x="477.4" fill="#f3655c"/><rect x="478.5" fill="#f8745c"/><rect x="479.7" fill="#f7705c"/><rect x="480.8" fill="#f7705c"/><rect x="482.0" fill="#f9785d"/><rect x="483.1" fill="#f8745c"/><rect x="484.2" fill="#fc8961"/><rect x="485.4" fill="#fd9467"/><rect x="486.5" fill="#fb8560"/><rect x="487.7" fill="#fc8e64"/><rect x="488.8" fill="#fd9a6a"/><rect x="489.9" fill="#fa815f"/><rect x="491.1" fill="#f05f5e"/><rect x="492.2" fill="#ec5860"/><rect x="493.4" fill="#f8745c"/><rect x="494.5" fill="#fd9266"/><rect x="495.7" fill="#fb8761"/><rect x="496.8" fill="#f56b5c"/><rect x="497.9" fill="#f3655c"/><rect x="499.1" fill="#f7725c"/><rect x="500.2" fill="#f97b5d"/><rect x="501.4" fill="#f9785d"/><rect x="502.5" fill="#f8765c"/><rect x="503.6" fill="#f9785d"/><rect x="504.8" fill="#f8745c"/><rect x="505.9" fill="#f7705c"/><rect x="507.1" fill="#f7705c"/><rect x="508.2" fill="#f97b5d"/><rect x="509.4" fill="#fd9266"/><rect x="510.5" fill="#fea16e"/><rect x="511.6" fill="#fd9668"/><rect x="512.8" fill="#f9785d"/><rect x="513.9" fill="#f2645c"/><rect x="515.1" fill="#f05f5e"/><rect x="516.2" fill="#ee5b5e"/><rect x="517.3" fill="#f56b5c"/><rect x="518.5" fill="#fc8961"/><rect x="519.6" fill="#fc8e64"/><rect x="520.8" fill="#f9795d"/><rect x="521.9" fill="#f3655c"/><rect x="523.0" fill="#f4675c"/><rect x="524.2" fill="#f8765c"/><rect x="525.3" fill="#fd9266"/><rect x="526.5" fill="#fea16e"/><rect x="527.6" fill="#fc8a62"/><rect x="528.8" fill="#f56b5c"/><rect x="529.9" fill="#f2645c"/><rect x="531.0" fill="#f56b5c"/><rect x="532.2" fill="#f66e5c"/><rect x="533.3" fill="#f4695c"/><rect x="534.5" fill="#f2645c"/><rect x="535.6" fill="#f8745c"/><rect x="536.7" fill="#fd9467"/><rect x="537.9" fill="#fd9668"/><rect x="539.0" fill="#fb835f"/><rect x="540.2" fill="#fa7f5e"/><rect x="541.3" fill="#fb8560"/><rect x="542.4" fill="#fa7f5e"/><rect x="543.6" fill="#f8765c"/><rect x="544.7" fill="#f66e5c"/><rect x="545.9" fill="#f4675c"/><rect x="547.0" fill="#f9785d"/><rect x="548.2" fill="#fb835f"/><rect x="549.3" fill="#f9795d"/><rect x="550.4" fill="#fa7f5e"/><rect x="551.6" fill="#fa7f5e"/><rect x="552.7" fill="#f66c5c"/><rect x="553.9" fill="#f66c5c"/></g><g class="hm" transform="translate(0,281.20)"><rect x="98.5" fill="#fde9aa"/><rect x="99.6" fill="#fcf7b9"/><rect x="100.8" fill="#fcecae"/><rect x="101.9" fill="#fddc9e"/><rect x="103.1" fill="#fcecae"/><rect x="104.2" fill="#fcf0b2"/><rect x="105.3" fill="#fddc9e"/><rect x="106.5" fill="#fde0a1"/><rect x="107.6" fill="#fde2a3"/><rect x="108.8" fill="#fddea0"/><rect x="109.9" fill="#fdebac"/><rect x="111.1" fill="#fcf4b6"/><rect x="112.2" fill="#fcfdbf"/><rect x="113.3" fill="#fcf6b8"/><rect x="114.5" fill="#fcf4b6"/><rect x="115.6" fill="#fcf6b8"/><rect x="116.8" fill="#fcf7b9"/><rect x="117.9" fill="#fde2a3"/><rect x="119.0" fill="#fceeb0"/><rect x="120.2" fill="#fdebac"/><rect x="121.3" fill="#fde5a7"/><rect x="122.5" fill="#fde0a1"/><rect x="123.6" fill="#fde0a1"/><rect x="124.7" fill="#fde3a5"/><rect x="125.9" fill="#fed597"/><rect x="127.0" fill="#fcecae"/><rect x="128.2" fill="#fde5a7"/><rect x="129.3" fill="#fde7a9"/><rect x="130.5" fill="#fdebac"/><rect x="131.6" fill="#fcf0b2"/><rect x="132.7" fill="#fddea0"/><rect x="133.9" fill="#fde5a7"/><rect x="135.0" fill="#fed194"/><rect x="136.2" fill="#fec88c"/><rect x="137.3" fill="#fecc8f"/><rect x="138.4" fill="#fcfbbd"/><rect x="139.6" fill="#fecd90"/><rect x="140.7" fill="#fcecae"/><rect x="141.9" fill="#fcf9bb"/><rect x="143.0" fill="#fde0a1"/><rect x="144.2" fill="#3d0f71"/><rect x="145.3" fill="#fcfdbf"/><rect x="146.4" fill="#fcf2b4"/><rect x="147.6" fill="#fcfdbf"/><rect x="148.7" fill="#fceeb0"/><rect x="149.9" fill="#fddc9e"/><rect x="151.0" fill="#fcecae"/><rect x="152.1" fill="#fde0a1"/><rect x="153.3" fill="#fed597"/><rect x="154.4" fill="#fed597"/><rect x="155.6" fill="#fcfdbf"/><rect x="156.7" fill="#fde0a1"/><rect x="157.8" fill="#fde5a7"/><rect x="159.0" fill="#fddea0"/><rect x="160.1" fill="#fde7a9"/><rect x="161.3" fill="#fde3a5"/><rect x="162.4" fill="#fcf0b2"/><rect x="163.6" fill="#fcf6b8"/><rect x="164.7" fill="#fcf9bb"/><rect x="165.8" fill="#fceeb0"/><rect x="167.0" fill="#fde9aa"/><rect x="168.1" fill="#fceeb0"/><rect x="169.3" fill="#fdebac"/><rect x="170.4" fill="#fde3a5"/><rect x="171.5" fill="#fde5a7"/><rect x="172.7" fill="#fceeb0"/><rect x="173.8" fill="#fcf7b9"/><rect x="175.0" fill="#fcf0b2"/><rect x="176.1" fill="#fde0a1"/><rect x="177.2" fill="#fde5a7"/><rect x="178.4" fill="#fceeb0"/><rect x="179.5" fill="#fdebac"/><rect x="180.7" fill="#fcecae"/><rect x="181.8" fill="#fcf2b4"/><rect x="183.0" fill="#fcf4b6"/><rect x="184.1" fill="#fcf0b2"/><rect x="185.2" fill="#fde7a9"/><rect x="186.4" fill="#fde3a5"/><rect x="187.5" fill="#fde7a9"/><rect x="188.7" fill="#fdebac"/><rect x="189.8" fill="#fde9aa"/><rect x="190.9" fill="#fcecae"/><rect x="192.1" fill="#fcf6b8"/><rect x="193.2" fill="#fcf0b2"/><rect x="194.4" fill="#fde7a9"/><rect x="195.5" fill="#fde3a5"/><rect x="196.6" fill="#fde3a5"/><rect x="197.8" fill="#fde5a7"/><rect x="198.9" fill="#fceeb0"/><rect x="200.1" fill="#fcf6b8"/><rect x="201.2" fill="#fcf2b4"/><rect x="202.4" fill="#fdebac"/><rect x="203.5" fill="#fceeb0"/><rect x="204.6" fill="#fcf4b6"/><rect x="205.8" fill="#fcf4b6"/><rect x="206.9" fill="#fdebac"/><rect x="208.1" fill="#fde3a5"/><rect x="209.2" fill="#fde2a3"/><rect x="210.3" fill="#fddea0"/><rect x="211.5" fill="#fdda9c"/><rect x="212.6" fill="#fddea0"/><rect x="213.8" fill="#fde3a5"/><rect x="214.9" fill="#fcf0b2"/><rect x="216.0" fill="#fcf7b9"/><rect x="217.2" fill="#fcecae"/><rect x="218.3" fill="#fde9aa"/><rect x="219.5" fill="#fcf2b4"/><rect x="220.6" fill="#fcf6b8"/><rect x="221.8" fill="#fcf0b2"/><rect x="222.9" fill="#fceeb0"/><rect x="224.0" fill="#fceeb0"/><rect x="225.2" fill="#fdebac"/><rect x="226.3" fill="#fde9aa"/><rect x="227.5" fill="#fcf0b2"/><rect x="228.6" fill="#fcf2b4"/><rect x="229.7" fill="#fcf0b2"/><rect x="230.9" fill="#fcecae"/><rect x="232.0" fill="#fcecae"/><rect x="233.2" fill="#fcf2b4"/><rect x="234.3" fill="#fcf0b2"/><rect x="235.5" fill="#fde9aa"/><rect x="236.6" fill="#fde5a7"/><rect x="237.7" fill="#fde3a5"/><rect x="238.9" fill="#fdda9c"/><rect x="240.0" fill="#fddea0"/><rect x="241.2" fill="#fde2a3"/><rect x="242.3" fill="#fde2a3"/><rect x="243.4" fill="#fde5a7"/><rect x="244.6" fill="#fde5a7"/><rect x="245.7" fill="#fde3a5"/><rect x="246.9" fill="#fde9aa"/><rect x="248.0" fill="#fcf0b2"/><rect x="249.1" fill="#fde9aa"/><rect x="250.3" fill="#fde5a7"/><rect x="251.4" fill="#fceeb0"/><rect x="252.6" fill="#fcf0b2"/><rect x="253.7" fill="#fcecae"/><rect x="254.9" fill="#fde9aa"/><rect x="256.0" fill="#fde5a7"/><rect x="257.1" fill="#fde7a9"/><rect x="258.3" fill="#fdebac"/><rect x="259.4" fill="#fde7a9"/><rect x="260.6" fill="#fde5a7"/><rect x="261.7" fill="#fde5a7"/><rect x="262.8" fill="#fde5a7"/><rect x="264.0" fill="#fde5a7"/><rect x="265.1" fill="#fcf0b2"/><rect x="266.3" fill="#fcf2b4"/><rect x="267.4" fill="#fde9aa"/><rect x="268.5" fill="#fde5a7"/><rect x="269.7" fill="#fde5a7"/><rect x="270.8" fill="#fde5a7"/><rect x="272.0" fill="#fde9aa"/><rect x="273.1" fill="#fcecae"/><rect x="274.3" fill="#fde7a9"/><rect x="275.4" fill="#fddc9e"/><rect x="276.5" fill="#fed799"/><rect x="277.7" fill="#fde3a5"/><rect x="278.8" fill="#fceeb0"/><rect x="280.0" fill="#fde9aa"/><rect x="281.1" fill="#fde3a5"/><rect x="282.2" fill="#fcecae"/><rect x="283.4" fill="#fcf6b8"/><rect x="284.5" fill="#fcecae"/><rect x="285.7" fill="#fde7a9"/><rect x="286.8" fill="#fde0a1"/><rect x="287.9" fill="#fddea0"/><rect x="289.1" fill="#fde7a9"/><rect x="290.2" fill="#fdebac"/><rect x="291.4" fill="#fde7a9"/><rect x="292.5" fill="#fde9aa"/><rect x="293.7" fill="#fcecae"/><rect x="294.8" fill="#fde9aa"/><rect x="295.9" fill="#fde7a9"/><rect x="297.1" fill="#fde3a5"/><rect x="298.2" fill="#fde3a5"/><rect x="299.4" fill="#fde5a7"/><rect x="300.5" fill="#fde7a9"/><rect x="301.6" fill="#fcecae"/><rect x="302.8" fill="#fcecae"/><rect x="303.9" fill="#fde7a9"/><rect x="305.1" fill="#fde7a9"/><rect x="306.2" fill="#fdebac"/><rect x="307.3" fill="#fdebac"/><rect x="308.5" fill="#fde9aa"/><rect x="309.6" fill="#fdebac"/><rect x="310.8" fill="#fcf2b4"/><rect x="311.9" fill="#fcf4b6"/><rect x="313.1" fill="#fdebac"/><rect x="314.2" fill="#fde0a1"/><rect x="315.3" fill="#fde3a5"/><rect x="316.5" fill="#fceeb0"/><rect x="317.6" fill="#fcf4b6"/><rect x="318.8" fill="#fcf2b4"/><rect x="319.9" fill="#fcf6b8"/><rect x="321.0" fill="#fcf7b9"/><rect x="322.2" fill="#fcf6b8"/><rect x="323.3" fill="#fceeb0"/><rect x="324.5" fill="#fceeb0"/><rect x="325.6" fill="#fcf4b6"/><rect x="326.8" fill="#fcf0b2"/><rect x="327.9" fill="#fcf2b4"/><rect x="329.0" fill="#fcf2b4"/><rect x="330.2" fill="#fcf4b6"/><rect x="331.3" fill="#fcfdbf"/><rect x="332.5" fill="#fcf9bb"/><rect x="333.6" fill="#fde5a7"/><rect x="334.7" fill="#fde2a3"/><rect x="335.9" fill="#fdebac"/><rect x="337.0" fill="#fde7a9"/><rect x="338.2" fill="#fde9aa"/><rect x="339.3" fill="#fdebac"/><rect x="340.4" fill="#fddea0"/><rect x="341.6" fill="#fddc9e"/><rect x="342.7" fill="#fcecae"/><rect x="343.9" fill="#fcf0b2"/><rect x="345.0" fill="#fde7a9"/><rect x="346.2" fill="#fde3a5"/><rect x="347.3" fill="#fde0a1"/><rect x="348.4" fill="#fde2a3"/><rect x="349.6" fill="#fde2a3"/><rect x="350.7" fill="#fddc9e"/><rect x="351.9" fill="#fdda9c"/><rect x="353.0" fill="#fde5a7"/><rect x="354.1" fill="#fceeb0"/><rect x="355.3" fill="#fceeb0"/><rect x="356.4" fill="#fde7a9"/><rect x="357.6" fill="#fde2a3"/><rect x="358.7" fill="#fde2a3"/><rect x="359.8" fill="#fde5a7"/><rect x="361.0" fill="#fde7a9"/><rect x="362.1" fill="#fdebac"/><rect x="363.3" fill="#02020d"/><rect x="364.4" fill="#fcf9bb"/><rect x="365.6" fill="#fcf6b8"/><rect x="366.7" fill="#fcecae"/><rect x="367.8" fill="#fde9aa"/><rect x="369.0" fill="#fde9aa"/><rect x="370.1" fill="#fde5a7"/><rect x="371.3" fill="#fde9aa"/><rect x="372.4" fill="#fcf0b2"/><rect x="373.5" fill="#fcf6b8"/><rect x="374.7" fill="#fcf2b4"/><rect x="375.8" fill="#fdebac"/><rect x="377.0" fill="#fdebac"/><rect x="378.1" fill="#fcf0b2"/><rect x="379.2" fill="#fde9aa"/><rect x="380.4" fill="#fddc9e"/><rect x="381.5" fill="#fdda9c"/><rect x="382.7" fill="#fecf92"/><rect x="383.8" fill="#fec88c"/><rect x="385.0" fill="#fdda9c"/><rect x="386.1" fill="#fde9aa"/><rect x="387.2" fill="#010108"/><rect x="388.4" fill="#fde3a5"/><rect x="389.5" fill="#fceeb0"/><rect x="390.7" fill="#fceeb0"/><rect x="391.8" fill="#fcf6b8"/><rect x="392.9" fill="#b2357b"/><rect x="394.1" fill="#fceeb0"/><rect x="395.2" fill="#fcf2b4"/><rect x="396.4" fill="#fcf6b8"/><rect x="397.5" fill="#fcf2b4"/><rect x="398.6" fill="#fdebac"/><rect x="399.8" fill="#fde3a5"/><rect x="400.9" fill="#fde5a7"/><rect x="402.1" fill="#fdebac"/><rect x="403.2" fill="#fcecae"/><rect x="404.4" fill="#fde7a9"/><rect x="405.5" fill="#fde7a9"/><rect x="406.6" fill="#fcecae"/><rect x="407.8" fill="#fcf0b2"/><rect x="408.9" fill="#fcfbbd"/><rect x="410.1" fill="#fcfbbd"/><rect x="411.2" fill="#fcf0b2"/><rect x="412.3" fill="#fceeb0"/><rect x="413.5" fill="#fde9aa"/><rect x="414.6" fill="#fddc9e"/><rect x="415.8" fill="#fde5a7"/><rect x="416.9" fill="#fcf0b2"/><rect x="418.1" fill="#fde9aa"/><rect x="419.2" fill="#fde2a3"/><rect x="420.3" fill="#fde9aa"/><rect x="421.5" fill="#fcf4b6"/><rect x="422.6" fill="#fcf7b9"/><rect x="423.8" fill="#fcf4b6"/><rect x="424.9" fill="#fcf0b2"/><rect x="426.0" fill="#fcf0b2"/><rect x="427.2" fill="#fde9aa"/><rect x="428.3" fill="#fde3a5"/><rect x="429.5" fill="#fde7a9"/><rect x="430.6" fill="#fcf4b6"/><rect x="431.7" fill="#fcf9bb"/><rect x="432.9" fill="#fcf4b6"/><rect x="434.0" fill="#fcf2b4"/><rect x="435.2" fill="#fcf2b4"/><rect x="436.3" fill="#fcf0b2"/><rect x="437.5" fill="#fde9aa"/><rect x="438.6" fill="#fde5a7"/><rect x="439.7" fill="#fcecae"/><rect x="440.9" fill="#fcf7b9"/><rect x="442.0" fill="#fcf9bb"/><rect x="443.2" fill="#fceeb0"/><rect x="444.3" fill="#fde5a7"/><rect x="445.4" fill="#fde7a9"/><rect x="446.6" fill="#fcf0b2"/><rect x="447.7" fill="#fcf0b2"/><rect x="448.9" fill="#fcecae"/><rect x="450.0" fill="#fde7a9"/><rect x="451.1" fill="#fde3a5"/><rect x="452.3" fill="#fde9aa"/><rect x="453.4" fill="#fceeb0"/><rect x="454.6" fill="#fcecae"/><rect x="455.7" fill="#fde5a7"/><rect x="456.9" fill="#fde3a5"/><rect x="458.0" fill="#fde3a5"/><rect x="459.1" fill="#fddea0"/><rect x="460.3" fill="#fde2a3"/><rect x="461.4" fill="#fde9aa"/><rect x="462.6" fill="#fcecae"/><rect x="463.7" fill="#fdebac"/><rect x="464.8" fill="#fcf2b4"/><rect x="466.0" fill="#fcfbbd"/><rect x="467.1" fill="#fcf2b4"/><rect x="468.3" fill="#fde7a9"/><rect x="469.4" fill="#fde9aa"/><rect x="470.5" fill="#fde7a9"/><rect x="471.7" fill="#fde7a9"/><rect x="472.8" fill="#fcf2b4"/><rect x="474.0" fill="#fcf6b8"/><rect x="475.1" fill="#fceeb0"/><rect x="476.3" fill="#fde3a5"/><rect x="477.4" fill="#fddea0"/><rect x="478.5" fill="#fde3a5"/><rect x="479.7" fill="#fde5a7"/><rect x="480.8" fill="#fde9aa"/><rect x="482.0" fill="#fcecae"/><rect x="483.1" fill="#fcecae"/><rect x="484.2" fill="#fcf2b4"/><rect x="485.4" fill="#fcf4b6"/><rect x="486.5" fill="#fcf4b6"/><rect x="487.7" fill="#fcfbbd"/><rect x="488.8" fill="#fcf9bb"/><rect x="489.9" fill="#fceeb0"/><rect x="491.1" fill="#fde3a5"/><rect x="492.2" fill="#fde0a1"/><rect x="493.4" fill="#fcecae"/><rect x="494.5" fill="#fcf9bb"/><rect x="495.7" fill="#fcf6b8"/><rect x="496.8" fill="#fde7a9"/><rect x="497.9" fill="#fde2a3"/><rect x="499.1" fill="#fde7a9"/><rect x="500.2" fill="#fceeb0"/><rect x="501.4" fill="#fcf0b2"/><rect x="502.5" fill="#fcf0b2"/><rect x="503.6" fill="#fde9aa"/><rect x="504.8" fill="#fde3a5"/><rect x="505.9" fill="#fdebac"/><rect x="507.1" fill="#fceeb0"/><rect x="508.2" fill="#fde9aa"/><rect x="509.4" fill="#fdebac"/><rect x="510.5" fill="#fcf4b6"/><rect x="511.6" fill="#fcf4b6"/><rect x="512.8" fill="#fde5a7"/><rect x="513.9" fill="#fde0a1"/><rect x="515.1" fill="#fde5a7"/><rect x="516.2" fill="#fde2a3"/><rect x="517.3" fill="#fde2a3"/><rect x="518.5" fill="#fcecae"/><rect x="519.6" fill="#fcf2b4"/><rect x="520.8" fill="#fcecae"/><rect x="521.9" fill="#fde5a7"/><rect x="523.0" fill="#fde2a3"/><rect x="524.2" fill="#fde3a5"/><rect x="525.3" fill="#fcf0b2"/><rect x="526.5" fill="#fcfbbd"/><rect x="527.6" fill="#fcf0b2"/><rect x="528.8" fill="#fde5a7"/><rect x="529.9" fill="#fde5a7"/><rect x="531.0" fill="#fde9aa"/><rect x="532.2" fill="#fdebac"/><rect x="533.3" fill="#fde5a7"/><rect x="534.5" fill="#fde3a5"/><rect x="535.6" fill="#fde9aa"/><rect x="536.7" fill="#fcf6b8"/><rect x="537.9" fill="#fcf7b9"/><rect x="539.0" fill="#fcf2b4"/><rect x="540.2" fill="#fcf0b2"/><rect x="541.3" fill="#fcecae"/><rect x="542.4" fill="#fde7a9"/><rect x="543.6" fill="#fde3a5"/><rect x="544.7" fill="#fde5a7"/><rect x="545.9" fill="#c83e73"/><rect x="547.0" fill="#fde7a9"/><rect x="548.2" fill="#fceeb0"/><rect x="549.3" fill="#fceeb0"/><rect x="550.4" fill="#fceeb0"/><rect x="551.6" fill="#fdebac"/><rect x="552.7" fill="#fde0a1"/><rect x="553.9" fill="#fde2a3"/></g><g class="hm" transform="translate(0,268.63)"><rect x="98.5" fill="#fcf9bb"/><rect x="99.6" fill="#fcf9bb"/><rect x="100.8" fill="#fcf7b9"/><rect x="101.9" fill="#fcf7b9"/><rect x="103.1" fill="#fcf6b8"/><rect x="104.2" fill="#fcf6b8"/><rect x="105.3" fill="#fcf7b9"/><rect x="106.5" fill="#fcf9bb"/><rect x="107.6" fill="#fcf7b9"/><rect x="108.8" fill="#fcf7b9"/><rect x="109.9" fill="#fcf9bb"/><rect x="111.1" fill="#fcf9bb"/><rect x="112.2" fill="#fcf7b9"/><rect x="113.3" fill="#fcf6b8"/><rect x="114.5" fill="#fcf7b9"/><rect x="115.6" fill="#fcf7b9"/><rect x="116.8" fill="#fcf6b8"/><rect x="117.9" fill="#fcf4b6"/><rect x="119.0" fill="#fcf4b6"/><rect x="120.2" fill="#fcf2b4"/><rect x="121.3" fill="#fcf2b4"/><rect x="122.5" fill="#fcf2b4"/><rect x="123.6" fill="#fcf6b8"/><rect x="124.7" fill="#fcf9bb"/><rect x="125.9" fill="#fcf9bb"/><rect x="127.0" fill="#fcf7b9"/><rect x="128.2" fill="#fcf6b8"/><rect x="129.3" fill="#fcf6b8"/><rect x="130.5" fill="#fcf7b9"/><rect x="131.6" fill="#fcf6b8"/><rect x="132.7" fill="#fcf4b6"/><rect x="133.9" fill="#fcf4b6"/><rect x="135.0" fill="#fcf6b8"/><rect x="136.2" fill="#fcf7b9"/><rect x="137.3" fill="#fcf9bb"/><rect x="138.4" fill="#fcf7b9"/><rect x="139.6" fill="#fcf9bb"/><rect x="140.7" fill="#fcfbbd"/><rect x="141.9" fill="#fcf9bb"/><rect x="143.0" fill="#fcf7b9"/><rect x="144.2" fill="#992d80"/><rect x="145.3" fill="#fcf7b9"/><rect x="146.4" fill="#fcf6b8"/><rect x="147.6" fill="#fcf9bb"/><rect x="148.7" fill="#fcf9bb"/><rect x="149.9" fill="#fcf7b9"/><rect x="151.0" fill="#fcfbbd"/><rect x="152.1" fill="#fcf9bb"/><rect x="153.3" fill="#fcf9bb"/><rect x="154.4" fill="#fcfdbf"/><rect x="155.6" fill="#fcf9bb"/><rect x="156.7" fill="#fcf7b9"/><rect x="157.8" fill="#fcfbbd"/><rect x="159.0" fill="#fcfbbd"/><rect x="160.1" fill="#fcfbbd"/><rect x="161.3" fill="#fcfbbd"/><rect x="162.4" fill="#fcfbbd"/><rect x="163.6" fill="#fcfdbf"/><rect x="164.7" fill="#fcfbbd"/><rect x="165.8" fill="#fcf9bb"/><rect x="167.0" fill="#fcf7b9"/><rect x="168.1" fill="#fcf9bb"/><rect x="169.3" fill="#fcf7b9"/><rect x="170.4" fill="#fcf6b8"/><rect x="171.5" fill="#fcf6b8"/><rect x="172.7" fill="#fcf9bb"/><rect x="173.8" fill="#fcfdbf"/><rect x="175.0" fill="#fcfdbf"/><rect x="176.1" fill="#fcf6b8"/><rect x="177.2" fill="#fcf6b8"/><rect x="178.4" fill="#fcf6b8"/><rect x="179.5" fill="#fcf4b6"/><rect x="180.7" fill="#fcf6b8"/><rect x="181.8" fill="#fcf9bb"/><rect x="183.0" fill="#fcfdbf"/><rect x="184.1" fill="#fcfbbd"/><rect x="185.2" fill="#fcf7b9"/><rect x="186.4" fill="#fcf6b8"/><rect x="187.5" fill="#fcf7b9"/><rect x="188.7" fill="#fcf9bb"/><rect x="189.8" fill="#fcf7b9"/><rect x="190.9" fill="#fcf7b9"/><rect x="192.1" fill="#fcf9bb"/><rect x="193.2" fill="#fcf7b9"/><rect x="194.4" fill="#fcf7b9"/><rect x="195.5" fill="#fcf9bb"/><rect x="196.6" fill="#fcf9bb"/><rect x="197.8" fill="#fcf9bb"/><rect x="198.9" fill="#fcfbbd"/><rect x="200.1" fill="#fcf9bb"/><rect x="201.2" fill="#fcf9bb"/><rect x="202.4" fill="#fcfbbd"/><rect x="203.5" fill="#fcfbbd"/><rect x="204.6" fill="#fcfdbf"/><rect x="205.8" fill="#fcfdbf"/><rect x="206.9" fill="#fcf9bb"/><rect x="208.1" fill="#fcf7b9"/><rect x="209.2" fill="#fcf6b8"/><rect x="210.3" fill="#fcf2b4"/><rect x="211.5" fill="#fcf2b4"/><rect x="212.6" fill="#fcf4b6"/><rect x="213.8" fill="#fcf7b9"/><rect x="214.9" fill="#fcfbbd"/><rect x="216.0" fill="#fcfdbf"/><rect x="217.2" fill="#fcfbbd"/><rect x="218.3" fill="#fcf7b9"/><rect x="219.5" fill="#fcf9bb"/><rect x="220.6" fill="#fcfbbd"/><rect x="221.8" fill="#fcf9bb"/><rect x="222.9" fill="#fcf7b9"/><rect x="224.0" fill="#fcfbbd"/><rect x="225.2" fill="#fcfbbd"/><rect x="226.3" fill="#fcf7b9"/><rect x="227.5" fill="#fcf9bb"/><rect x="228.6" fill="#fcf9bb"/><rect x="229.7" fill="#fcf7b9"/><rect x="230.9" fill="#fcf6b8"/><rect x="232.0" fill="#fcf7b9"/><rect x="233.2" fill="#fcf9bb"/><rect x="234.3" fill="#fcf9bb"/><rect x="235.5" fill="#fcf9bb"/><rect x="236.6" fill="#fcf9bb"/><rect x="237.7" fill="#fcf7b9"/><rect x="238.9" fill="#fcf4b6"/><rect x="240.0" fill="#fcf4b6"/><rect x="241.2" fill="#fcf7b9"/><rect x="242.3" fill="#fcf7b9"/><rect x="243.4" fill="#fcf7b9"/><rect x="244.6" fill="#fcf7b9"/><rect x="245.7" fill="#fcf9bb"/><rect x="246.9" fill="#fcfbbd"/><rect x="248.0" fill="#fcfbbd"/><rect x="249.1" fill="#fcf9bb"/><rect x="250.3" fill="#fcf7b9"/><rect x="251.4" fill="#fcfbbd"/><rect x="252.6" fill="#fcfdbf"/><rect x="253.7" fill="#fcf9bb"/><rect x="254.9" fill="#fcf7b9"/><rect x="256.0" fill="#fcf7b9"/><rect x="257.1" fill="#fcf9bb"/><rect x="258.3" fill="#fcf7b9"/><rect x="259.4" fill="#fcf7b9"/><rect x="260.6" fill="#fcf7b9"/><rect x="261.7" fill="#fcf7b9"/><rect x="262.8" fill="#fcf6b8"/><rect x="264.0" fill="#fcf7b9"/><rect x="265.1" fill="#fcf9bb"/><rect x="266.3" fill="#fcfbbd"/><rect x="267.4" fill="#fcfbbd"/><rect x="268.5" fill="#fcf9bb"/><rect x="269.7" fill="#fcf6b8"/><rect x="270.8" fill="#fcf6b8"/><rect x="272.0" fill="#fcf7b9"/><rect x="273.1" fill="#fcf7b9"/><rect x="274.3" fill="#fcf7b9"/><rect x="275.4" fill="#fcf6b8"/><rect x="276.5" fill="#fcf2b4"/><rect x="277.7" fill="#fcf4b6"/><rect x="278.8" fill="#fcf7b9"/><rect x="280.0" fill="#fcf7b9"/><rect x="281.1" fill="#fcf6b8"/><rect x="282.2" fill="#fcf9bb"/><rect x="283.4" fill="#fcfbbd"/><rect x="284.5" fill="#fcf7b9"/><rect x="285.7" fill="#fcf6b8"/><rect x="286.8" fill="#fcf4b6"/><rect x="287.9" fill="#fcf4b6"/><rect x="289.1" fill="#fcf9bb"/><rect x="290.2" fill="#fcf7b9"/><rect x="291.4" fill="#fcf7b9"/><rect x="292.5" fill="#fcf9bb"/><rect x="293.7" fill="#fcf9bb"/><rect x="294.8" fill="#fcf7b9"/><rect x="295.9" fill="#fcf7b9"/><rect x="297.1" fill="#fcf6b8"/><rect x="298.2" fill="#fcf7b9"/><rect x="299.4" fill="#fcf9bb"/><rect x="300.5" fill="#fcf9bb"/><rect x="301.6" fill="#fcf9bb"/><rect x="302.8" fill="#fcfbbd"/><rect x="303.9" fill="#fcf9bb"/><rect x="305.1" fill="#fcf7b9"/><rect x="306.2" fill="#fcf7b9"/><rect x="307.3" fill="#fcf9bb"/><rect x="308.5" fill="#fcfbbd"/><rect x="309.6" fill="#fcfbbd"/><rect x="310.8" fill="#fcfdbf"/><rect x="311.9" fill="#fcfdbf"/><rect x="313.1" fill="#fcf9bb"/><rect x="314.2" fill="#fcf7b9"/><rect x="315.3" fill="#fcf6b8"/><rect x="316.5" fill="#fcf9bb"/><rect x="317.6" fill="#fcfdbf"/><rect x="318.8" fill="#fcfbbd"/><rect x="319.9" fill="#fcf9bb"/><rect x="321.0" fill="#fcf9bb"/><rect x="322.2" fill="#fcfbbd"/><rect x="323.3" fill="#fcfbbd"/><rect x="324.5" fill="#fcf9bb"/><rect x="325.6" fill="#fcf9bb"/><rect x="326.8" fill="#fcf7b9"/><rect x="327.9" fill="#fcf9bb"/><rect x="329.0" fill="#fcfbbd"/><rect x="330.2" fill="#fcfdbf"/><rect x="331.3" fill="#fcfdbf"/><rect x="332.5" fill="#fcfdbf"/><rect x="333.6" fill="#fcf6b8"/><rect x="334.7" fill="#fcf4b6"/><rect x="335.9" fill="#fcf7b9"/><rect x="337.0" fill="#fcf9bb"/><rect x="338.2" fill="#fcf9bb"/><rect x="339.3" fill="#fcf6b8"/><rect x="340.4" fill="#fcf0b2"/><rect x="341.6" fill="#fcf0b2"/><rect x="342.7" fill="#fcf6b8"/><rect x="343.9" fill="#fcf9bb"/><rect x="345.0" fill="#fcf9bb"/><rect x="346.2" fill="#fcf7b9"/><rect x="347.3" fill="#fcf6b8"/><rect x="348.4" fill="#fcf6b8"/><rect x="349.6" fill="#fcf6b8"/><rect x="350.7" fill="#fcf6b8"/><rect x="351.9" fill="#fcf4b6"/><rect x="353.0" fill="#fcf6b8"/><rect x="354.1" fill="#fcf9bb"/><rect x="355.3" fill="#fcf9bb"/><rect x="356.4" fill="#fcf7b9"/><rect x="357.6" fill="#fcf4b6"/><rect x="358.7" fill="#fcf4b6"/><rect x="359.8" fill="#fcf6b8"/><rect x="361.0" fill="#fcf7b9"/><rect x="362.1" fill="#fcf7b9"/><rect x="363.3" fill="#992d80"/><rect x="364.4" fill="#fcf7b9"/><rect x="365.6" fill="#fcf9bb"/><rect x="366.7" fill="#fcf6b8"/><rect x="367.8" fill="#fcf6b8"/><rect x="369.0" fill="#fcf9bb"/><rect x="370.1" fill="#fcf7b9"/><rect x="371.3" fill="#fcf4b6"/><rect x="372.4" fill="#fcf7b9"/><rect x="373.5" fill="#fcf9bb"/><rect x="374.7" fill="#fcf9bb"/><rect x="375.8" fill="#fcf7b9"/><rect x="377.0" fill="#fcf7b9"/><rect x="378.1" fill="#fcf7b9"/><rect x="379.2" fill="#fcf6b8"/><rect x="380.4" fill="#fcf2b4"/><rect x="381.5" fill="#fcf2b4"/><rect x="382.7" fill="#fcf0b2"/><rect x="383.8" fill="#fceeb0"/><rect x="385.0" fill="#fcf4b6"/><rect x="386.1" fill="#fcfbbd"/><rect x="387.2" fill="#010108"/><rect x="388.4" fill="#fcf6b8"/><rect x="389.5" fill="#fceeb0"/><rect x="390.7" fill="#fceeb0"/><rect x="391.8" fill="#fcf9bb"/><rect x="392.9" fill="#b2357b"/><rect x="394.1" fill="#fcf7b9"/><rect x="395.2" fill="#fcf9bb"/><rect x="396.4" fill="#fcfdbf"/><rect x="397.5" fill="#fcfbbd"/><rect x="398.6" fill="#fcf9bb"/><rect x="399.8" fill="#fcf7b9"/><rect x="400.9" fill="#fcf7b9"/><rect x="402.1" fill="#fcf7b9"/><rect x="403.2" fill="#fcf7b9"/><rect x="404.4" fill="#fcf7b9"/><rect x="405.5" fill="#fcf7b9"/><rect x="406.6" fill="#fcf7b9"/><rect x="407.8" fill="#fcf7b9"/><rect x="408.9" fill="#fcfdbf"/><rect x="410.1" fill="#fcfdbf"/><rect x="411.2" fill="#fcf9bb"/><rect x="412.3" fill="#fcf9bb"/><rect x="413.5" fill="#fcf7b9"/><rect x="414.6" fill="#fcf4b6"/><rect x="415.8" fill="#fcf6b8"/><rect x="416.9" fill="#fcf7b9"/><rect x="418.1" fill="#fcf6b8"/><rect x="419.2" fill="#fcf4b6"/><rect x="420.3" fill="#fcf6b8"/><rect x="421.5" fill="#fcf9bb"/><rect x="422.6" fill="#fcfbbd"/><rect x="423.8" fill="#fcf9bb"/><rect x="424.9" fill="#fcf9bb"/><rect x="426.0" fill="#fcf9bb"/><rect x="427.2" fill="#fcf7b9"/><rect x="428.3" fill="#fcf6b8"/><rect x="429.5" fill="#fcf6b8"/><rect x="430.6" fill="#fcfbbd"/><rect x="431.7" fill="#fcfbbd"/><rect x="432.9" fill="#fcfbbd"/><rect x="434.0" fill="#fcf9bb"/><rect x="435.2" fill="#fcf7b9"/><rect x="436.3" fill="#fcf7b9"/><rect x="437.5" fill="#fcf9bb"/><rect x="438.6" fill="#fcf7b9"/><rect x="439.7" fill="#fcf9bb"/><rect x="440.9" fill="#fcfdbf"/><rect x="442.0" fill="#fcfbbd"/><rect x="443.2" fill="#fcf9bb"/><rect x="444.3" fill="#fcf7b9"/><rect x="445.4" fill="#fcf9bb"/><rect x="446.6" fill="#fcfbbd"/><rect x="447.7" fill="#fcfbbd"/><rect x="448.9" fill="#fcf9bb"/><rect x="450.0" fill="#fcf7b9"/><rect x="451.1" fill="#fcf7b9"/><rect x="452.3" fill="#fcf9bb"/><rect x="453.4" fill="#fcf9bb"/><rect x="454.6" fill="#fcf7b9"/><rect x="455.7" fill="#fcf7b9"/><rect x="456.9" fill="#fcf7b9"/><rect x="458.0" fill="#fcf7b9"/><rect x="459.1" fill="#fcf6b8"/><rect x="460.3" fill="#fcf6b8"/><rect x="461.4" fill="#fcf7b9"/><rect x="462.6" fill="#fcf9bb"/><rect x="463.7" fill="#fcf9bb"/><rect x="464.8" fill="#fcfdbf"/><rect x="466.0" fill="#fcfdbf"/><rect x="467.1" fill="#fcfbbd"/><rect x="468.3" fill="#fcf7b9"/><rect x="469.4" fill="#fcf7b9"/><rect x="470.5" fill="#fcf7b9"/><rect x="471.7" fill="#fcf7b9"/><rect x="472.8" fill="#fcfbbd"/><rect x="474.0" fill="#fcfdbf"/><rect x="475.1" fill="#fcf9bb"/><rect x="476.3" fill="#fcf7b9"/><rect x="477.4" fill="#fcf7b9"/><rect x="478.5" fill="#fcf9bb"/><rect x="479.7" fill="#b2357b"/><rect x="480.8" fill="#fcf4b6"/><rect x="482.0" fill="#fcf6b8"/><rect x="483.1" fill="#fcf7b9"/><rect x="484.2" fill="#fcf9bb"/><rect x="485.4" fill="#fcfdbf"/><rect x="486.5" fill="#fcfbbd"/><rect x="487.7" fill="#fcfbbd"/><rect x="488.8" fill="#fcfdbf"/><rect x="489.9" fill="#fcf7b9"/><rect x="491.1" fill="#fcf4b6"/><rect x="492.2" fill="#fcf2b4"/><rect x="493.4" fill="#fcf7b9"/><rect x="494.5" fill="#fcfdbf"/><rect x="495.7" fill="#fcfbbd"/><rect x="496.8" fill="#fcf7b9"/><rect x="497.9" fill="#fcf7b9"/><rect x="499.1" fill="#fcf7b9"/><rect x="500.2" fill="#fcf7b9"/><rect x="501.4" fill="#fcf7b9"/><rect x="502.5" fill="#fcf9bb"/><rect x="503.6" fill="#fcf9bb"/><rect x="504.8" fill="#fcf9bb"/><rect x="505.9" fill="#fcf9bb"/><rect x="507.1" fill="#fcfbbd"/><rect x="508.2" fill="#fcf9bb"/><rect x="509.4" fill="#fcfbbd"/><rect x="510.5" fill="#fcfdbf"/><rect x="511.6" fill="#fcfbbd"/><rect x="512.8" fill="#fcf7b9"/><rect x="513.9" fill="#fcf6b8"/><rect x="515.1" fill="#fcf6b8"/><rect x="516.2" fill="#fcf4b6"/><rect x="517.3" fill="#fcf6b8"/><rect x="518.5" fill="#fcf9bb"/><rect x="519.6" fill="#fcf9bb"/><rect x="520.8" fill="#fcf6b8"/><rect x="521.9" fill="#fcf2b4"/><rect x="523.0" fill="#fcf4b6"/><rect x="524.2" fill="#fcf6b8"/><rect x="525.3" fill="#fcf9bb"/><rect x="526.5" fill="#fcfdbf"/><rect x="527.6" fill="#fcfbbd"/><rect x="528.8" fill="#fcf7b9"/><rect x="529.9" fill="#fcf7b9"/><rect x="531.0" fill="#fcf9bb"/><rect x="532.2" fill="#fcf7b9"/><rect x="533.3" fill="#fcf6b8"/><rect x="534.5" fill="#fcf7b9"/><rect x="535.6" fill="#fcf7b9"/><rect x="536.7" fill="#fcfbbd"/><rect x="537.9" fill="#fcfdbf"/><rect x="539.0" fill="#fcfdbf"/><rect x="540.2" fill="#fcf9bb"/><rect x="541.3" fill="#fcf9bb"/><rect x="542.4" fill="#fcf9bb"/><rect x="543.6" fill="#fcf6b8"/><rect x="544.7" fill="#fcf6b8"/><rect x="545.9" fill="#c83e73"/><rect x="547.0" fill="#fcf4b6"/><rect x="548.2" fill="#fcf9bb"/><rect x="549.3" fill="#fcfbbd"/><rect x="550.4" fill="#fcfbbd"/><rect x="551.6" fill="#fcf9bb"/><rect x="552.7" fill="#fcf4b6"/><rect x="553.9" fill="#fcf4b6"/></g><g class="hm" transform="translate(0,256.07)"><rect x="98.5" fill="#fb835f"/><rect x="99.6" fill="#fb835f"/><rect x="100.8" fill="#f9785d"/><rect x="101.9" fill="#f66c5c"/><rect x="103.1" fill="#f66e5c"/><rect x="104.2" fill="#f9785d"/><rect x="105.3" fill="#fb8761"/><rect x="106.5" fill="#fc8c63"/><rect x="107.6" fill="#f97b5d"/><rect x="108.8" fill="#f9785d"/><rect x="109.9" fill="#fa815f"/><rect x="111.1" fill="#fb8560"/><rect x="112.2" fill="#fa815f"/><rect x="113.3" fill="#f9795d"/><rect x="114.5" fill="#fa7d5e"/><rect x="115.6" fill="#f97b5d"/><rect x="116.8" fill="#f66c5c"/><rect x="117.9" fill="#f3655c"/><rect x="119.0" fill="#f4675c"/><rect x="120.2" fill="#f2625d"/><rect x="121.3" fill="#f1605d"/><rect x="122.5" fill="#f4695c"/><rect x="123.6" fill="#f8765c"/><rect x="124.7" fill="#fb8761"/><rect x="125.9" fill="#fc8a62"/><rect x="127.0" fill="#f8765c"/><rect x="128.2" fill="#f1605d"/><rect x="129.3" fill="#f66c5c"/><rect x="130.5" fill="#fa7f5e"/><rect x="131.6" fill="#fa7d5e"/><rect x="132.7" fill="#f7725c"/><rect x="133.9" fill="#f8745c"/><rect x="135.0" fill="#f97b5d"/><rect x="136.2" fill="#fb835f"/><rect x="137.3" fill="#fb835f"/><rect x="138.4" fill="#fa7d5e"/><rect x="139.6" fill="#fb8560"/><rect x="140.7" fill="#fc8961"/><rect x="141.9" fill="#fb8761"/><rect x="143.0" fill="#fb8560"/><rect x="144.2" fill="#3d0f71"/><rect x="145.3" fill="#f9795d"/><rect x="146.4" fill="#f8765c"/><rect x="147.6" fill="#fb835f"/><rect x="148.7" fill="#fc8c63"/><rect x="149.9" fill="#fb8761"/><rect x="151.0" fill="#fb8761"/><rect x="152.1" fill="#fb8560"/><rect x="153.3" fill="#fb8761"/><rect x="154.4" fill="#fd9266"/><rect x="155.6" fill="#fc8c63"/><rect x="156.7" fill="#fa7f5e"/><rect x="157.8" fill="#fa7d5e"/><rect x="159.0" fill="#fa7f5e"/><rect x="160.1" fill="#fa7f5e"/><rect x="161.3" fill="#f97b5d"/><rect x="162.4" fill="#f97b5d"/><rect x="163.6" fill="#fc8a62"/><rect x="164.7" fill="#fc8a62"/><rect x="165.8" fill="#f97b5d"/><rect x="167.0" fill="#f9785d"/><rect x="168.1" fill="#f8765c"/><rect x="169.3" fill="#f7725c"/><rect x="170.4" fill="#f8765c"/><rect x="171.5" fill="#fa815f"/><rect x="172.7" fill="#fc8961"/><rect x="173.8" fill="#fc8c63"/><rect x="175.0" fill="#fb835f"/><rect x="176.1" fill="#f66e5c"/><rect x="177.2" fill="#f7725c"/><rect x="178.4" fill="#f9795d"/><rect x="179.5" fill="#f66e5c"/><rect x="180.7" fill="#f7725c"/><rect x="181.8" fill="#fa815f"/><rect x="183.0" fill="#fb8761"/><rect x="184.1" fill="#fb835f"/><rect x="185.2" fill="#f9795d"/><rect x="186.4" fill="#f7725c"/><rect x="187.5" fill="#832681"/><rect x="188.7" fill="#fb8560"/><rect x="189.8" fill="#fa7d5e"/><rect x="190.9" fill="#fa7d5e"/><rect x="192.1" fill="#fb8761"/><rect x="193.2" fill="#fb835f"/><rect x="194.4" fill="#f9795d"/><rect x="195.5" fill="#f9785d"/><rect x="196.6" fill="#f9785d"/><rect x="197.8" fill="#f97b5d"/><rect x="198.9" fill="#fb8761"/><rect x="200.1" fill="#fb8560"/><rect x="201.2" fill="#fa7d5e"/><rect x="202.4" fill="#fa7f5e"/><rect x="203.5" fill="#fb835f"/><rect x="204.6" fill="#fc8a62"/><rect x="205.8" fill="#fb8761"/><rect x="206.9" fill="#f8765c"/><rect x="208.1" fill="#f9785d"/><rect x="209.2" fill="#fa7f5e"/><rect x="210.3" fill="#f8745c"/><rect x="211.5" fill="#f66c5c"/><rect x="212.6" fill="#f7705c"/><rect x="213.8" fill="#f66e5c"/><rect x="214.9" fill="#fa7f5e"/><rect x="216.0" fill="#fd9467"/><rect x="217.2" fill="#fb835f"/><rect x="218.3" fill="#f8765c"/><rect x="219.5" fill="#fa7f5e"/><rect x="220.6" fill="#fa815f"/><rect x="221.8" fill="#f9785d"/><rect x="222.9" fill="#fa7d5e"/><rect x="224.0" fill="#fd9266"/><rect x="225.2" fill="#fc9065"/><rect x="226.3" fill="#fa815f"/><rect x="227.5" fill="#fa815f"/><rect x="228.6" fill="#f97b5d"/><rect x="229.7" fill="#f66e5c"/><rect x="230.9" fill="#f7705c"/><rect x="232.0" fill="#f97b5d"/><rect x="233.2" fill="#fc8a62"/><rect x="234.3" fill="#fc9065"/><rect x="235.5" fill="#fb8560"/><rect x="236.6" fill="#f9785d"/><rect x="237.7" fill="#f66e5c"/><rect x="238.9" fill="#f56b5c"/><rect x="240.0" fill="#f7705c"/><rect x="241.2" fill="#f66e5c"/><rect x="242.3" fill="#f56b5c"/><rect x="243.4" fill="#f9785d"/><rect x="244.6" fill="#f97b5d"/><rect x="245.7" fill="#f9795d"/><rect x="246.9" fill="#fa7f5e"/><rect x="248.0" fill="#fb8761"/><rect x="249.1" fill="#fb835f"/><rect x="250.3" fill="#fa7d5e"/><rect x="251.4" fill="#fd9266"/><rect x="252.6" fill="#fd9266"/><rect x="253.7" fill="#fa7f5e"/><rect x="254.9" fill="#f7725c"/><rect x="256.0" fill="#f56b5c"/><rect x="257.1" fill="#f8745c"/><rect x="258.3" fill="#fb8560"/><rect x="259.4" fill="#fa815f"/><rect x="260.6" fill="#f8765c"/><rect x="261.7" fill="#f7705c"/><rect x="262.8" fill="#f4695c"/><rect x="264.0" fill="#f7725c"/><rect x="265.1" fill="#fb8761"/><rect x="266.3" fill="#fc8a62"/><rect x="267.4" fill="#fb8761"/><rect x="268.5" fill="#fb8761"/><rect x="269.7" fill="#fa815f"/><rect x="270.8" fill="#f97b5d"/><rect x="272.0" fill="#f9785d"/><rect x="273.1" fill="#f7725c"/><rect x="274.3" fill="#f7705c"/><rect x="275.4" fill="#f8745c"/><rect x="276.5" fill="#f7705c"/><rect x="277.7" fill="#f9795d"/><rect x="278.8" fill="#fb8560"/><rect x="280.0" fill="#f97b5d"/><rect x="281.1" fill="#f97b5d"/><rect x="282.2" fill="#fc8c63"/><rect x="283.4" fill="#fb8761"/><rect x="284.5" fill="#f7725c"/><rect x="285.7" fill="#f9785d"/><rect x="286.8" fill="#f9785d"/><rect x="287.9" fill="#f8765c"/><rect x="289.1" fill="#fb8560"/><rect x="290.2" fill="#fc8e64"/><rect x="291.4" fill="#fb835f"/><rect x="292.5" fill="#f9795d"/><rect x="293.7" fill="#f8765c"/><rect x="294.8" fill="#f8745c"/><rect x="295.9" fill="#f7725c"/><rect x="297.1" fill="#f66e5c"/><rect x="298.2" fill="#f8765c"/><rect x="299.4" fill="#fb8560"/><rect x="300.5" fill="#fb8560"/><rect x="301.6" fill="#fa7d5e"/><rect x="302.8" fill="#f97b5d"/><rect x="303.9" fill="#f8765c"/><rect x="305.1" fill="#f9785d"/><rect x="306.2" fill="#fb835f"/><rect x="307.3" fill="#fb835f"/><rect x="308.5" fill="#fa815f"/><rect x="309.6" fill="#fc8c63"/><rect x="310.8" fill="#fd9266"/><rect x="311.9" fill="#fc8c63"/><rect x="313.1" fill="#f97b5d"/><rect x="314.2" fill="#f56b5c"/><rect x="315.3" fill="#f66e5c"/><rect x="316.5" fill="#fb835f"/><rect x="317.6" fill="#fc8a62"/><rect x="318.8" fill="#fa815f"/><rect x="319.9" fill="#f97b5d"/><rect x="321.0" fill="#fa7d5e"/><rect x="322.2" fill="#fb8761"/><rect x="323.3" fill="#fc8a62"/><rect x="324.5" fill="#fb8560"/><rect x="325.6" fill="#fa7f5e"/><rect x="326.8" fill="#f97b5d"/><rect x="327.9" fill="#fb8560"/><rect x="329.0" fill="#fc8c63"/><rect x="330.2" fill="#fc8c63"/><rect x="331.3" fill="#fd9467"/><rect x="332.5" fill="#fd9266"/><rect x="333.6" fill="#f9795d"/><rect x="334.7" fill="#f8765c"/><rect x="335.9" fill="#fa815f"/><rect x="337.0" fill="#f97b5d"/><rect x="338.2" fill="#fa7f5e"/><rect x="339.3" fill="#fb835f"/><rect x="340.4" fill="#f66e5c"/><rect x="341.6" fill="#f4675c"/><rect x="342.7" fill="#f9785d"/><rect x="343.9" fill="#fa7f5e"/><rect x="345.0" fill="#fa815f"/><rect x="346.2" fill="#fa815f"/><rect x="347.3" fill="#f9785d"/><rect x="348.4" fill="#f7725c"/><rect x="349.6" fill="#f7705c"/><rect x="350.7" fill="#f66e5c"/><rect x="351.9" fill="#f8765c"/><rect x="353.0" fill="#f97b5d"/><rect x="354.1" fill="#fa7d5e"/><rect x="355.3" fill="#fb835f"/><rect x="356.4" fill="#f9785d"/><rect x="357.6" fill="#f66e5c"/><rect x="358.7" fill="#f66e5c"/><rect x="359.8" fill="#f66e5c"/><rect x="361.0" fill="#f7725c"/><rect x="362.1" fill="#f8765c"/><rect x="363.3" fill="#02020d"/><rect x="364.4" fill="#fb8761"/><rect x="365.6" fill="#fb8761"/><rect x="366.7" fill="#f97b5d"/><rect x="367.8" fill="#fa7f5e"/><rect x="369.0" fill="#fb8560"/><rect x="370.1" fill="#f97b5d"/><rect x="371.3" fill="#f66c5c"/><rect x="372.4" fill="#f66e5c"/><rect x="373.5" fill="#f9795d"/><rect x="374.7" fill="#fa815f"/><rect x="375.8" fill="#fb8761"/><rect x="377.0" fill="#fc8961"/><rect x="378.1" fill="#fc8961"/><rect x="379.2" fill="#f97b5d"/><rect x="380.4" fill="#f4695c"/><rect x="381.5" fill="#f4695c"/><rect x="382.7" fill="#f1605d"/><rect x="383.8" fill="#ef5d5e"/><rect x="385.0" fill="#f8765c"/><rect x="386.1" fill="#fc8a62"/><rect x="387.2" fill="#010108"/><rect x="388.4" fill="#f66c5c"/><rect x="389.5" fill="#febf84"/><rect x="390.7" fill="#febf84"/><rect x="391.8" fill="#fd9b6b"/><rect x="392.9" fill="#b2357b"/><rect x="394.1" fill="#fa7f5e"/><rect x="395.2" fill="#fa815f"/><rect x="396.4" fill="#fc8961"/><rect x="397.5" fill="#fb835f"/><rect x="398.6" fill="#f9795d"/><rect x="399.8" fill="#f8765c"/><rect x="400.9" fill="#f97b5d"/><rect x="402.1" fill="#fb8761"/><rect x="403.2" fill="#fb8761"/><rect x="404.4" fill="#f9785d"/><rect x="405.5" fill="#f7725c"/><rect x="406.6" fill="#f66e5c"/><rect x="407.8" fill="#f8745c"/><rect x="408.9" fill="#fc9065"/><rect x="410.1" fill="#fd9668"/><rect x="411.2" fill="#fc8961"/><rect x="412.3" fill="#fb8761"/><rect x="413.5" fill="#f9795d"/><rect x="414.6" fill="#f4695c"/><rect x="415.8" fill="#f7705c"/><rect x="416.9" fill="#fa815f"/><rect x="418.1" fill="#fb8560"/><rect x="419.2" fill="#fa7d5e"/><rect x="420.3" fill="#f9785d"/><rect x="421.5" fill="#fb835f"/><rect x="422.6" fill="#fd9467"/><rect x="423.8" fill="#fc9065"/><rect x="424.9" fill="#fb8560"/><rect x="426.0" fill="#fb8761"/><rect x="427.2" fill="#fb835f"/><rect x="428.3" fill="#f8765c"/><rect x="429.5" fill="#f8765c"/><rect x="430.6" fill="#fc8a62"/><rect x="431.7" fill="#fd9869"/><rect x="432.9" fill="#fd9a6a"/><rect x="434.0" fill="#fc9065"/><rect x="435.2" fill="#fb8560"/><rect x="436.3" fill="#fa815f"/><rect x="437.5" fill="#fb835f"/><rect x="438.6" fill="#fa7f5e"/><rect x="439.7" fill="#fb835f"/><rect x="440.9" fill="#fc8a62"/><rect x="442.0" fill="#fb835f"/><rect x="443.2" fill="#f8765c"/><rect x="444.3" fill="#f66c5c"/><rect x="445.4" fill="#f8745c"/><rect x="446.6" fill="#fb8560"/><rect x="447.7" fill="#fb8761"/><rect x="448.9" fill="#fb835f"/><rect x="450.0" fill="#f97b5d"/><rect x="451.1" fill="#f7725c"/><rect x="452.3" fill="#f9795d"/><rect x="453.4" fill="#fa815f"/><rect x="454.6" fill="#f8745c"/><rect x="455.7" fill="#f66e5c"/><rect x="456.9" fill="#fa7d5e"/><rect x="458.0" fill="#fa7f5e"/><rect x="459.1" fill="#f8765c"/><rect x="460.3" fill="#f7705c"/><rect x="461.4" fill="#f8745c"/><rect x="462.6" fill="#f97b5d"/><rect x="463.7" fill="#fa7f5e"/><rect x="464.8" fill="#fb8560"/><rect x="466.0" fill="#fb8761"/><rect x="467.1" fill="#f8765c"/><rect x="468.3" fill="#f8745c"/><rect x="469.4" fill="#fa815f"/><rect x="470.5" fill="#fa7d5e"/><rect x="471.7" fill="#f7725c"/><rect x="472.8" fill="#fa7f5e"/><rect x="474.0" fill="#fc8e64"/><rect x="475.1" fill="#fb835f"/><rect x="476.3" fill="#f8745c"/><rect x="477.4" fill="#f66e5c"/><rect x="478.5" fill="#f56b5c"/><rect x="479.7" fill="#b2357b"/><rect x="480.8" fill="#f9785d"/><rect x="482.0" fill="#fb8560"/><rect x="483.1" fill="#fa7d5e"/><rect x="484.2" fill="#fb8761"/><rect x="485.4" fill="#fd9467"/><rect x="486.5" fill="#fc8a62"/><rect x="487.7" fill="#fc8c63"/><rect x="488.8" fill="#fd9467"/><rect x="489.9" fill="#fc8961"/><rect x="491.1" fill="#f9795d"/><rect x="492.2" fill="#f8765c"/><rect x="493.4" fill="#fa7f5e"/><rect x="494.5" fill="#fc8e64"/><rect x="495.7" fill="#fb8761"/><rect x="496.8" fill="#f66e5c"/><rect x="497.9" fill="#f66c5c"/><rect x="499.1" fill="#f9785d"/><rect x="500.2" fill="#f97b5d"/><rect x="501.4" fill="#fa815f"/><rect x="502.5" fill="#fb8560"/><rect x="503.6" fill="#fb835f"/><rect x="504.8" fill="#fa815f"/><rect x="505.9" fill="#fb8560"/><rect x="507.1" fill="#fb8761"/><rect x="508.2" fill="#fb835f"/><rect x="509.4" fill="#fc8961"/><rect x="510.5" fill="#fd9869"/><rect x="511.6" fill="#fd9869"/><rect x="512.8" fill="#fa815f"/><rect x="513.9" fill="#f7705c"/><rect x="515.1" fill="#f66e5c"/><rect x="516.2" fill="#f3655c"/><rect x="517.3" fill="#f66c5c"/><rect x="518.5" fill="#fc8a62"/><rect x="519.6" fill="#fc9065"/><rect x="520.8" fill="#f9795d"/><rect x="521.9" fill="#f7705c"/><rect x="523.0" fill="#f8745c"/><rect x="524.2" fill="#f9785d"/><rect x="525.3" fill="#fc8961"/><rect x="526.5" fill="#fd9668"/><rect x="527.6" fill="#fc8961"/><rect x="528.8" fill="#f8765c"/><rect x="529.9" fill="#f7705c"/><rect x="531.0" fill="#f97b5d"/><rect x="532.2" fill="#fa7d5e"/><rect x="533.3" fill="#f97b5d"/><rect x="534.5" fill="#fa7d5e"/><rect x="535.6" fill="#fb835f"/><rect x="536.7" fill="#fc9065"/><rect x="537.9" fill="#fd9a6a"/><rect x="539.0" fill="#fc8c63"/><rect x="540.2" fill="#fa815f"/><rect x="541.3" fill="#fb8560"/><rect x="542.4" fill="#fc8961"/><rect x="543.6" fill="#fa815f"/><rect x="544.7" fill="#f7705c"/><rect x="545.9" fill="#f4695c"/><rect x="547.0" fill="#f7725c"/><rect x="548.2" fill="#f97b5d"/><rect x="549.3" fill="#fb835f"/><rect x="550.4" fill="#fd9266"/><rect x="551.6" fill="#fc8a62"/><rect x="552.7" fill="#f8745c"/><rect x="553.9" fill="#f8765c"/></g><g class="hm" transform="translate(0,243.50)"><rect x="98.5" fill="#c83e73"/><rect x="99.6" fill="#992d80"/><rect x="100.8" fill="#832681"/><rect x="101.9" fill="#681c81"/><rect x="103.1" fill="#9b2e7f"/><rect x="104.2" fill="#aa337d"/><rect x="105.3" fill="#d3436e"/><rect x="106.5" fill="#b73779"/><rect x="107.6" fill="#b0357b"/><rect x="108.8" fill="#ca3e72"/><rect x="109.9" fill="#a1307e"/><rect x="111.1" fill="#912b81"/><rect x="112.2" fill="#bf3a77"/><rect x="113.3" fill="#5d177f"/><rect x="114.5" fill="#a6317d"/><rect x="115.6" fill="#932b80"/><rect x="116.8" fill="#bd3977"/><rect x="117.9" fill="#932b80"/><rect x="119.0" fill="#b2357b"/><rect x="120.2" fill="#6a1c81"/><rect x="121.3" fill="#892881"/><rect x="122.5" fill="#cd4071"/><rect x="123.6" fill="#8e2a81"/><rect x="124.7" fill="#8e2a81"/><rect x="125.9" fill="#9c2e7f"/><rect x="127.0" fill="#aa337d"/><rect x="128.2" fill="#ae347b"/><rect x="129.3" fill="#7e2482"/><rect x="130.5" fill="#982d80"/><rect x="131.6" fill="#b83779"/><rect x="132.7" fill="#c83e73"/><rect x="133.9" fill="#962c80"/><rect x="135.0" fill="#912b81"/><rect x="136.2" fill="#a3307e"/><rect x="137.3" fill="#992d80"/><rect x="138.4" fill="#c43c75"/><rect x="139.6" fill="#7b2382"/><rect x="140.7" fill="#d8456c"/><rect x="141.9" fill="#a3307e"/><rect x="143.0" fill="#9b2e7f"/><rect x="144.2" fill="#3d0f71"/><rect x="145.3" fill="#892881"/><rect x="146.4" fill="#782281"/><rect x="147.6" fill="#982d80"/><rect x="148.7" fill="#a6317d"/><rect x="149.9" fill="#992d80"/><rect x="151.0" fill="#ca3e72"/><rect x="152.1" fill="#ad347c"/><rect x="153.3" fill="#a5317e"/><rect x="154.4" fill="#a02f7f"/><rect x="155.6" fill="#9b2e7f"/><rect x="156.7" fill="#9e2f7f"/><rect x="157.8" fill="#902a81"/><rect x="159.0" fill="#b5367a"/><rect x="160.1" fill="#b0357b"/><rect x="161.3" fill="#a3307e"/><rect x="162.4" fill="#762181"/><rect x="163.6" fill="#6e1e81"/><rect x="164.7" fill="#782281"/><rect x="165.8" fill="#792282"/><rect x="167.0" fill="#762181"/><rect x="168.1" fill="#782281"/><rect x="169.3" fill="#792282"/><rect x="170.4" fill="#721f81"/><rect x="171.5" fill="#6e1e81"/><rect x="172.7" fill="#882781"/><rect x="173.8" fill="#9e2f7f"/><rect x="175.0" fill="#8c2981"/><rect x="176.1" fill="#6a1c81"/><rect x="177.2" fill="#701f81"/><rect x="178.4" fill="#721f81"/><rect x="179.5" fill="#5d177f"/><rect x="180.7" fill="#641a80"/><rect x="181.8" fill="#7e2482"/><rect x="183.0" fill="#982d80"/><rect x="184.1" fill="#962c80"/><rect x="185.2" fill="#842681"/><rect x="186.4" fill="#762181"/><rect x="187.5" fill="#792282"/><rect x="188.7" fill="#892881"/><rect x="189.8" fill="#802582"/><rect x="190.9" fill="#802582"/><rect x="192.1" fill="#8c2981"/><rect x="193.2" fill="#802582"/><rect x="194.4" fill="#6e1e81"/><rect x="195.5" fill="#721f81"/><rect x="196.6" fill="#782281"/><rect x="197.8" fill="#7c2382"/><rect x="198.9" fill="#8b2981"/><rect x="200.1" fill="#902a81"/><rect x="201.2" fill="#8c2981"/><rect x="202.4" fill="#882781"/><rect x="203.5" fill="#832681"/><rect x="204.6" fill="#8b2981"/><rect x="205.8" fill="#8e2a81"/><rect x="206.9" fill="#762181"/><rect x="208.1" fill="#5a167e"/><rect x="209.2" fill="#57157e"/><rect x="210.3" fill="#4f127b"/><rect x="211.5" fill="#4e117b"/><rect x="212.6" fill="#651a80"/><rect x="213.8" fill="#752181"/><rect x="214.9" fill="#8c2981"/><rect x="216.0" fill="#942c80"/><rect x="217.2" fill="#802582"/><rect x="218.3" fill="#762181"/><rect x="219.5" fill="#7e2482"/><rect x="220.6" fill="#862781"/><rect x="221.8" fill="#862781"/><rect x="222.9" fill="#7b2382"/><rect x="224.0" fill="#792282"/><rect x="225.2" fill="#792282"/><rect x="226.3" fill="#6d1d81"/><rect x="227.5" fill="#732081"/><rect x="228.6" fill="#7b2382"/><rect x="229.7" fill="#732081"/><rect x="230.9" fill="#732081"/><rect x="232.0" fill="#7c2382"/><rect x="233.2" fill="#892881"/><rect x="234.3" fill="#862781"/><rect x="235.5" fill="#7b2382"/><rect x="236.6" fill="#732081"/><rect x="237.7" fill="#641a80"/><rect x="238.9" fill="#52137c"/><rect x="240.0" fill="#5a167e"/><rect x="241.2" fill="#5f187f"/><rect x="242.3" fill="#5d177f"/><rect x="243.4" fill="#6e1e81"/><rect x="244.6" fill="#701f81"/><rect x="245.7" fill="#721f81"/><rect x="246.9" fill="#782281"/><rect x="248.0" fill="#802582"/><rect x="249.1" fill="#762181"/><rect x="250.3" fill="#6b1d81"/><rect x="251.4" fill="#882781"/><rect x="252.6" fill="#962c80"/><rect x="253.7" fill="#832681"/><rect x="254.9" fill="#732081"/><rect x="256.0" fill="#621980"/><rect x="257.1" fill="#681c81"/><rect x="258.3" fill="#812581"/><rect x="259.4" fill="#792282"/><rect x="260.6" fill="#6d1d81"/><rect x="261.7" fill="#671b80"/><rect x="262.8" fill="#5d177f"/><rect x="264.0" fill="#621980"/><rect x="265.1" fill="#701f81"/><rect x="266.3" fill="#792282"/><rect x="267.4" fill="#812581"/><rect x="268.5" fill="#802582"/><rect x="269.7" fill="#732081"/><rect x="270.8" fill="#701f81"/><rect x="272.0" fill="#762181"/><rect x="273.1" fill="#6e1e81"/><rect x="274.3" fill="#5a167e"/><rect x="275.4" fill="#59157e"/><rect x="276.5" fill="#621980"/><rect x="277.7" fill="#732081"/><rect x="278.8" fill="#7e2482"/><rect x="280.0" fill="#6a1c81"/><rect x="281.1" fill="#641a80"/><rect x="282.2" fill="#862781"/><rect x="283.4" fill="#902a81"/><rect x="284.5" fill="#792282"/><rect x="285.7" fill="#651a80"/><rect x="286.8" fill="#57157e"/><rect x="287.9" fill="#5f187f"/><rect x="289.1" fill="#782281"/><rect x="290.2" fill="#812581"/><rect x="291.4" fill="#7e2482"/><rect x="292.5" fill="#7b2382"/><rect x="293.7" fill="#7e2482"/><rect x="294.8" fill="#762181"/><rect x="295.9" fill="#6a1c81"/><rect x="297.1" fill="#601880"/><rect x="298.2" fill="#6d1d81"/><rect x="299.4" fill="#892881"/><rect x="300.5" fill="#892881"/><rect x="301.6" fill="#802582"/><rect x="302.8" fill="#7e2482"/><rect x="303.9" fill="#752181"/><rect x="305.1" fill="#782281"/><rect x="306.2" fill="#812581"/><rect x="307.3" fill="#7c2382"/><rect x="308.5" fill="#762181"/><rect x="309.6" fill="#7c2382"/><rect x="310.8" fill="#8e2a81"/><rect x="311.9" fill="#8e2a81"/><rect x="313.1" fill="#7b2382"/><rect x="314.2" fill="#641a80"/><rect x="315.3" fill="#671b80"/><rect x="316.5" fill="#842681"/><rect x="317.6" fill="#8b2981"/><rect x="318.8" fill="#882781"/><rect x="319.9" fill="#932b80"/><rect x="321.0" fill="#902a81"/><rect x="322.2" fill="#882781"/><rect x="323.3" fill="#882781"/><rect x="324.5" fill="#8b2981"/><rect x="325.6" fill="#882781"/><rect x="326.8" fill="#812581"/><rect x="327.9" fill="#892881"/><rect x="329.0" fill="#902a81"/><rect x="330.2" fill="#942c80"/><rect x="331.3" fill="#9e2f7f"/><rect x="332.5" fill="#902a81"/><rect x="333.6" fill="#6a1c81"/><rect x="334.7" fill="#671b80"/><rect x="335.9" fill="#762181"/><rect x="337.0" fill="#721f81"/><rect x="338.2" fill="#792282"/><rect x="339.3" fill="#782281"/><rect x="340.4" fill="#4f127b"/><rect x="341.6" fill="#471078"/><rect x="342.7" fill="#671b80"/><rect x="343.9" fill="#762181"/><rect x="345.0" fill="#732081"/><rect x="346.2" fill="#6d1d81"/><rect x="347.3" fill="#601880"/><rect x="348.4" fill="#601880"/><rect x="349.6" fill="#651a80"/><rect x="350.7" fill="#57157e"/><rect x="351.9" fill="#57157e"/><rect x="353.0" fill="#732081"/><rect x="354.1" fill="#862781"/><rect x="355.3" fill="#792282"/><rect x="356.4" fill="#671b80"/><rect x="357.6" fill="#621980"/><rect x="358.7" fill="#601880"/><rect x="359.8" fill="#6d1d81"/><rect x="361.0" fill="#7c2382"/><rect x="362.1" fill="#7c2382"/><rect x="363.3" fill="#02020d"/><rect x="364.4" fill="#962c80"/><rect x="365.6" fill="#912b81"/><rect x="366.7" fill="#842681"/><rect x="367.8" fill="#892881"/><rect x="369.0" fill="#842681"/><rect x="370.1" fill="#701f81"/><rect x="371.3" fill="#671b80"/><rect x="372.4" fill="#732081"/><rect x="373.5" fill="#862781"/><rect x="374.7" fill="#8e2a81"/><rect x="375.8" fill="#832681"/><rect x="377.0" fill="#802582"/><rect x="378.1" fill="#8b2981"/><rect x="379.2" fill="#7c2382"/><rect x="380.4" fill="#641a80"/><rect x="381.5" fill="#601880"/><rect x="382.7" fill="#54137d"/><rect x="383.8" fill="#471078"/><rect x="385.0" fill="#601880"/><rect x="386.1" fill="#7e2482"/><rect x="387.2" fill="#010108"/><rect x="388.4" fill="#671b80"/><rect x="389.5" fill="#fceeb0"/><rect x="390.7" fill="#fceeb0"/><rect x="391.8" fill="#fceeb0"/><rect x="392.9" fill="#fceeb0"/><rect x="394.1" fill="#fceeb0"/><rect x="395.2" fill="#fceeb0"/><rect x="396.4" fill="#882781"/><rect x="397.5" fill="#842681"/><rect x="398.6" fill="#721f81"/><rect x="399.8" fill="#721f81"/><rect x="400.9" fill="#7c2382"/><rect x="402.1" fill="#7c2382"/><rect x="403.2" fill="#752181"/><rect x="404.4" fill="#651a80"/><rect x="405.5" fill="#6a1c81"/><rect x="406.6" fill="#701f81"/><rect x="407.8" fill="#752181"/><rect x="408.9" fill="#992d80"/><rect x="410.1" fill="#a8327d"/><rect x="411.2" fill="#902a81"/><rect x="412.3" fill="#812581"/><rect x="413.5" fill="#721f81"/><rect x="414.6" fill="#641a80"/><rect x="415.8" fill="#732081"/><rect x="416.9" fill="#892881"/><rect x="418.1" fill="#812581"/><rect x="419.2" fill="#6b1d81"/><rect x="420.3" fill="#6a1c81"/><rect x="421.5" fill="#7b2382"/><rect x="422.6" fill="#832681"/><rect x="423.8" fill="#7b2382"/><rect x="424.9" fill="#832681"/><rect x="426.0" fill="#8e2a81"/><rect x="427.2" fill="#792282"/><rect x="428.3" fill="#601880"/><rect x="429.5" fill="#601880"/><rect x="430.6" fill="#832681"/><rect x="431.7" fill="#962c80"/><rect x="432.9" fill="#842681"/><rect x="434.0" fill="#802582"/><rect x="435.2" fill="#7e2482"/><rect x="436.3" fill="#762181"/><rect x="437.5" fill="#792282"/><rect x="438.6" fill="#7e2482"/><rect x="439.7" fill="#832681"/><rect x="440.9" fill="#8e2a81"/><rect x="442.0" fill="#862781"/><rect x="443.2" fill="#792282"/><rect x="444.3" fill="#701f81"/><rect x="445.4" fill="#7e2482"/><rect x="446.6" fill="#9b2e7f"/><rect x="447.7" fill="#992d80"/><rect x="448.9" fill="#892881"/><rect x="450.0" fill="#732081"/><rect x="451.1" fill="#641a80"/><rect x="452.3" fill="#762181"/><rect x="453.4" fill="#812581"/><rect x="454.6" fill="#752181"/><rect x="455.7" fill="#782281"/><rect x="456.9" fill="#7c2382"/><rect x="458.0" fill="#6e1e81"/><rect x="459.1" fill="#5f187f"/><rect x="460.3" fill="#651a80"/><rect x="461.4" fill="#752181"/><rect x="462.6" fill="#792282"/><rect x="463.7" fill="#721f81"/><rect x="464.8" fill="#7e2482"/><rect x="466.0" fill="#8e2a81"/><rect x="467.1" fill="#721f81"/><rect x="468.3" fill="#5c167f"/><rect x="469.4" fill="#681c81"/><rect x="470.5" fill="#6d1d81"/><rect x="471.7" fill="#6d1d81"/><rect x="472.8" fill="#842681"/><rect x="474.0" fill="#932b80"/><rect x="475.1" fill="#842681"/><rect x="476.3" fill="#7c2382"/><rect x="477.4" fill="#7e2482"/><rect x="478.5" fill="#7b2382"/><rect x="479.7" fill="#651a80"/><rect x="480.8" fill="#6a1c81"/><rect x="482.0" fill="#7b2382"/><rect x="483.1" fill="#812581"/><rect x="484.2" fill="#8e2a81"/><rect x="485.4" fill="#8b2981"/><rect x="486.5" fill="#7b2382"/><rect x="487.7" fill="#802582"/><rect x="488.8" fill="#862781"/><rect x="489.9" fill="#732081"/><rect x="491.1" fill="#5a167e"/><rect x="492.2" fill="#57157e"/><rect x="493.4" fill="#792282"/><rect x="494.5" fill="#942c80"/><rect x="495.7" fill="#812581"/><rect x="496.8" fill="#651a80"/><rect x="497.9" fill="#621980"/><rect x="499.1" fill="#6b1d81"/><rect x="500.2" fill="#762181"/><rect x="501.4" fill="#802582"/><rect x="502.5" fill="#882781"/><rect x="503.6" fill="#842681"/><rect x="504.8" fill="#802582"/><rect x="505.9" fill="#8b2981"/><rect x="507.1" fill="#8c2981"/><rect x="508.2" fill="#802582"/><rect x="509.4" fill="#8e2a81"/><rect x="510.5" fill="#a02f7f"/><rect x="511.6" fill="#902a81"/><rect x="512.8" fill="#732081"/><rect x="513.9" fill="#651a80"/><rect x="515.1" fill="#621980"/><rect x="516.2" fill="#4f127b"/><rect x="517.3" fill="#52137c"/><rect x="518.5" fill="#721f81"/><rect x="519.6" fill="#802582"/><rect x="520.8" fill="#7e2482"/><rect x="521.9" fill="#752181"/><rect x="523.0" fill="#732081"/><rect x="524.2" fill="#7c2382"/><rect x="525.3" fill="#992d80"/><rect x="526.5" fill="#ae347b"/><rect x="527.6" fill="#942c80"/><rect x="528.8" fill="#701f81"/><rect x="529.9" fill="#641a80"/><rect x="531.0" fill="#6e1e81"/><rect x="532.2" fill="#6a1c81"/><rect x="533.3" fill="#5c167f"/><rect x="534.5" fill="#621980"/><rect x="535.6" fill="#752181"/><rect x="536.7" fill="#8c2981"/><rect x="537.9" fill="#982d80"/><rect x="539.0" fill="#992d80"/><rect x="540.2" fill="#8c2981"/><rect x="541.3" fill="#7e2482"/><rect x="542.4" fill="#752181"/><rect x="543.6" fill="#732081"/><rect x="544.7" fill="#6e1e81"/><rect x="545.9" fill="#59157e"/><rect x="547.0" fill="#5c167f"/><rect x="548.2" fill="#721f81"/><rect x="549.3" fill="#721f81"/><rect x="550.4" fill="#802582"/><rect x="551.6" fill="#862781"/><rect x="552.7" fill="#6d1d81"/><rect x="553.9" fill="#6a1c81"/></g><rect x="98.50" y="243.50" width="456.50" height="150.80" fill="none" stroke="#3a3a3a" stroke-width="1.0"/><line x1="95.00" y1="388.02" x2="98.50" y2="388.02" stroke="#000" stroke-width="0.8"/><text x="85.73" y="390.89" font-size="6.80" text-anchor="start" textLength="6.74" lengthAdjust="spacingAndGlyphs" class="sb">C</text><line x1="95.00" y1="362.88" x2="98.50" y2="362.88" stroke="#000" stroke-width="0.8"/><text x="85.09" y="365.76" font-size="6.80" text-anchor="start" textLength="7.44" lengthAdjust="spacingAndGlyphs" class="sb">D</text><line x1="95.00" y1="337.75" x2="98.50" y2="337.75" stroke="#000" stroke-width="0.8"/><text x="86.47" y="340.63" font-size="6.80" text-anchor="start" textLength="6.10" lengthAdjust="spacingAndGlyphs" class="sb">E</text><line x1="95.00" y1="325.18" x2="98.50" y2="325.18" stroke="#000" stroke-width="0.8"/><text x="86.96" y="328.06" font-size="6.80" text-anchor="start" textLength="5.55" lengthAdjust="spacingAndGlyphs" class="sb">F</text><line x1="95.00" y1="300.05" x2="98.50" y2="300.05" stroke="#000" stroke-width="0.8"/><text x="85.26" y="302.93" font-size="6.80" text-anchor="start" textLength="7.48" lengthAdjust="spacingAndGlyphs" class="sb">G</text><line x1="95.00" y1="274.92" x2="98.50" y2="274.92" stroke="#000" stroke-width="0.8"/><text x="85.42" y="277.80" font-size="6.80" text-anchor="start" textLength="6.61" lengthAdjust="spacingAndGlyphs" class="sb">A</text><line x1="95.00" y1="249.78" x2="98.50" y2="249.78" stroke="#000" stroke-width="0.8"/><text x="86.01" y="252.66" font-size="6.80" text-anchor="start" textLength="6.62" lengthAdjust="spacingAndGlyphs" class="sb">B</text><line x1="99.00" y1="394.30" x2="99.00" y2="397.30" stroke="#000" stroke-width="0.8"/><text x="95.93" y="404.45" font-size="6.80" text-anchor="start" textLength="6.14" lengthAdjust="spacingAndGlyphs" class="sb">0</text><line x1="147.90" y1="394.30" x2="147.90" y2="397.30" stroke="#000" stroke-width="0.8"/><text x="144.74" y="404.55" font-size="6.80" text-anchor="start" textLength="6.14" lengthAdjust="spacingAndGlyphs" class="sb">1</text><line x1="196.80" y1="394.30" x2="196.80" y2="397.30" stroke="#000" stroke-width="0.8"/><text x="193.86" y="404.55" font-size="6.80" text-anchor="start" textLength="6.14" lengthAdjust="spacingAndGlyphs" class="sb">2</text><line x1="245.70" y1="394.30" x2="245.70" y2="397.30" stroke="#000" stroke-width="0.8"/><text x="242.65" y="404.45" font-size="6.80" text-anchor="start" textLength="6.14" lengthAdjust="spacingAndGlyphs" class="sb">3</text><line x1="294.60" y1="394.30" x2="294.60" y2="397.30" stroke="#000" stroke-width="0.8"/><text x="291.56" y="404.55" font-size="6.80" text-anchor="start" textLength="6.14" lengthAdjust="spacingAndGlyphs" class="sb">4</text><line x1="343.50" y1="394.30" x2="343.50" y2="397.30" stroke="#000" stroke-width="0.8"/><text x="340.48" y="404.45" font-size="6.80" text-anchor="start" textLength="6.14" lengthAdjust="spacingAndGlyphs" class="sb">5</text><line x1="392.40" y1="394.30" x2="392.40" y2="397.30" stroke="#000" stroke-width="0.8"/><text x="389.30" y="404.45" font-size="6.80" text-anchor="start" textLength="6.14" lengthAdjust="spacingAndGlyphs" class="sb">6</text><line x1="441.30" y1="394.30" x2="441.30" y2="397.30" stroke="#000" stroke-width="0.8"/><text x="438.24" y="404.55" font-size="6.80" text-anchor="start" textLength="6.14" lengthAdjust="spacingAndGlyphs" class="sb">7</text><line x1="490.20" y1="394.30" x2="490.20" y2="397.30" stroke="#000" stroke-width="0.8"/><text x="487.13" y="404.45" font-size="6.80" text-anchor="start" textLength="6.14" lengthAdjust="spacingAndGlyphs" class="sb">8</text><line x1="539.10" y1="394.30" x2="539.10" y2="397.30" stroke="#000" stroke-width="0.8"/><text x="536.06" y="404.45" font-size="6.80" text-anchor="start" textLength="6.14" lengthAdjust="spacingAndGlyphs" class="sb">9</text><text x="316.37" y="413.96" font-size="6.59" text-anchor="start" textLength="20.82" lengthAdjust="spacingAndGlyphs" class="sb">Time</text><text class="sb" transform="translate(79.74,337.31) rotate(-90)" x="0" y="0" font-size="7.62" textLength="35.39" lengthAdjust="spacingAndGlyphs">Pitch class</text><text x="294.08" y="238.93" font-size="8.27" text-anchor="start" textLength="66.32" lengthAdjust="spacingAndGlyphs" class="sb">Chromagram</text><rect x="584.30" y="243.50" width="9.30" height="150.80" fill="url(#gm)"/><rect x="584.30" y="243.50" width="9.30" height="150.80" fill="none" stroke="#3a3a3a" stroke-width="1.0"/><line x1="593.60" y1="380.30" x2="596.60" y2="380.30" stroke="#000" stroke-width="0.8"/><text x="599.80" y="383.38" font-size="6.40" text-anchor="start" textLength="13.23" lengthAdjust="spacingAndGlyphs" class="sb">0.2</text><line x1="593.60" y1="363.20" x2="596.60" y2="363.20" stroke="#000" stroke-width="0.8"/><text x="599.80" y="366.28" font-size="6.40" text-anchor="start" textLength="13.23" lengthAdjust="spacingAndGlyphs" class="sb">0.3</text><line x1="593.60" y1="346.10" x2="596.60" y2="346.10" stroke="#000" stroke-width="0.8"/><text x="599.80" y="349.18" font-size="6.40" text-anchor="start" textLength="13.23" lengthAdjust="spacingAndGlyphs" class="sb">0.4</text><line x1="593.60" y1="329.00" x2="596.60" y2="329.00" stroke="#000" stroke-width="0.8"/><text x="599.80" y="332.08" font-size="6.40" text-anchor="start" textLength="13.23" lengthAdjust="spacingAndGlyphs" class="sb">0.5</text><line x1="593.60" y1="311.90" x2="596.60" y2="311.90" stroke="#000" stroke-width="0.8"/><text x="599.80" y="314.98" font-size="6.40" text-anchor="start" textLength="13.23" lengthAdjust="spacingAndGlyphs" class="sb">0.6</text><line x1="593.60" y1="294.80" x2="596.60" y2="294.80" stroke="#000" stroke-width="0.8"/><text x="599.80" y="297.88" font-size="6.40" text-anchor="start" textLength="13.23" lengthAdjust="spacingAndGlyphs" class="sb">0.7</text><line x1="593.60" y1="277.70" x2="596.60" y2="277.70" stroke="#000" stroke-width="0.8"/><text x="599.80" y="280.78" font-size="6.40" text-anchor="start" textLength="13.23" lengthAdjust="spacingAndGlyphs" class="sb">0.8</text><line x1="593.60" y1="260.60" x2="596.60" y2="260.60" stroke="#000" stroke-width="0.8"/><text x="599.80" y="263.68" font-size="6.40" text-anchor="start" textLength="13.23" lengthAdjust="spacingAndGlyphs" class="sb">0.9</text><line x1="593.60" y1="243.50" x2="596.60" y2="243.50" stroke="#000" stroke-width="0.8"/><text x="599.44" y="246.58" font-size="6.40" text-anchor="start" textLength="13.23" lengthAdjust="spacingAndGlyphs" class="sb">1.0</text><text x="329.21" y="441.24" font-size="22.61" text-anchor="start" textLength="27.58" lengthAdjust="spacingAndGlyphs" class="serif">(b)</text><path d="M77.50,471.5 77.60,586.0 78.00,623.0 78.50,590.0 78.90,621.0 79.40,588.0 79.90,612.0 80.40,592.0 80.90,606.0 81.50,566.0 82.40,553.4 82.80,603.0 83.30,590.0 83.80,604.0 84.40,586.0 85.00,600.0 85.60,583.0 86.10,598.0 86.60,578.0 87.10,596.0 87.60,580.0 88.20,594.0 88.80,584.0 89.50,596.0 90.10,585.0 90.70,595.0 91.30,584.0 91.90,592.0 92.50,582.0 93.10,591.0 93.60,581.0 94.20,589.0 94.80,586.0 95.40,589.0 95.80,587.7 96.20,588.6 96.60,587.6 97.00,588.5 97.40,587.7 97.80,588.5 98.20,587.7 98.60,588.6 99.00,587.6 99.40,588.5 99.80,587.6 100.20,588.5 100.60,587.6 101.00,588.5 101.40,587.7 101.80,588.6 102.20,587.6 102.60,588.6 103.00,587.7 103.40,588.5 103.80,587.7 104.20,588.6 104.60,587.7 105.00,588.6 105.40,587.7 105.80,588.5 106.20,587.7 106.60,588.6 107.00,587.6 107.40,588.6 107.80,587.6 108.20,588.6 108.60,586.0 109.00,588.6 109.40,586.7 109.80,588.5 110.20,587.6 110.60,588.6 111.00,587.7 111.40,588.5 111.80,587.7 112.20,588.6 112.60,587.6 113.00,588.5 113.40,587.6 113.80,588.6 114.20,587.7 114.60,588.5 115.00,587.6 115.40,588.5 115.80,587.6 116.20,588.5 116.60,587.7 117.00,588.6 117.40,586.7 117.80,588.5 118.20,587.6 118.60,588.6 119.00,587.7 119.40,588.6 119.80,587.7 120.20,588.6 120.60,587.7 121.00,588.6 121.40,587.7 121.80,588.6 122.20,586.6 122.60,588.6 123.00,587.7 123.40,588.6 123.80,587.6 124.20,588.6 124.60,587.6 125.00,588.6 125.40,587.7 125.80,588.5 126.20,587.6 126.60,588.5 127.00,587.7 127.40,588.6 127.80,587.7 128.20,588.5 128.60,587.7 129.00,588.5 129.40,587.7 129.80,588.6 130.20,587.6 130.60,588.6 131.00,587.6 131.40,588.5 131.80,587.7 132.20,588.5 132.60,587.6 133.00,588.5 133.40,587.6 133.80,588.6 134.20,587.7 134.60,588.6 135.00,587.7 135.40,590.0 135.80,587.7 136.20,588.6 136.60,587.7 137.00,588.5 137.40,587.6 137.80,588.6 138.20,587.6 138.60,588.6 139.00,587.7 139.40,588.6 139.80,587.6 140.20,588.6 140.60,587.7 141.00,588.6 141.40,587.6 141.80,588.5 142.20,587.6 142.60,588.6 143.00,587.6 143.40,588.5 143.80,586.6 144.20,588.6 144.60,587.7 145.00,588.5 145.40,587.7 145.80,588.6 146.20,587.6 146.60,588.5 147.00,587.7 147.40,588.5 147.80,587.6 148.20,588.6 148.60,587.6 149.00,588.6 149.40,587.7 149.80,588.6 150.20,587.6 150.60,588.5 151.00,587.6 151.40,588.6 151.80,587.6 152.20,588.6 152.60,587.7 153.00,588.6 153.40,587.6 153.80,588.5 154.20,587.7 154.60,588.6 155.00,587.6 155.40,588.5 155.80,587.6 156.20,588.6 156.60,586.0 157.00,588.5 157.40,587.7 157.80,588.5 158.20,587.6 158.60,588.6 159.00,587.6 159.40,588.5 159.80,587.7 160.20,588.6 160.60,587.7 161.00,588.6 161.40,587.7 161.80,588.6 162.20,587.7 162.60,588.6 163.00,587.7 163.40,588.5 163.80,587.6 164.20,588.6 164.60,587.6 165.00,588.6 165.40,587.6 165.80,588.6 166.20,587.6 166.60,588.6 167.00,587.7 167.40,588.6 167.80,587.7 168.20,589.8 168.60,587.7 169.00,588.6 169.40,587.7 169.80,588.6 170.20,587.6 170.60,588.6 171.00,587.7 171.40,588.6 171.80,587.6 172.20,588.6 172.60,587.6 173.00,588.5 173.40,587.6 173.80,588.5 174.20,587.7 174.60,588.5 175.00,587.6 175.40,588.6 175.80,587.7 176.20,590.2 176.60,587.6 177.00,588.5 177.40,587.6 177.80,588.5 178.20,587.7 178.60,588.5 179.00,587.6 179.40,588.6 179.80,587.6 180.20,588.6 180.60,587.6 181.00,588.6 181.40,587.7 181.80,588.6 182.20,587.7 182.60,588.6 183.00,587.7 183.40,588.6 183.80,587.6 184.20,588.5 184.60,587.6 185.00,588.5 185.40,587.7 185.80,588.5 186.20,587.6 186.60,588.6 187.00,587.6 187.40,588.5 187.80,587.7 188.20,588.5 188.60,587.7 189.00,588.6 189.40,587.6 189.80,588.6 190.20,587.7 190.60,588.5 191.00,587.6 191.40,588.6 191.80,587.7 192.20,588.6 192.60,587.6 193.00,588.6 193.40,587.6 193.80,588.5 194.20,587.6 194.60,588.5 195.00,587.6 195.40,588.5 195.80,587.6 196.20,588.6 196.60,587.6 197.00,588.6 197.40,587.7 197.80,588.6 198.20,587.7 198.60,589.2 199.00,587.6 199.40,588.5 199.80,587.6 200.20,588.5 200.60,587.7 201.00,588.6 201.40,587.6 201.80,588.5 202.20,587.6 202.60,588.5 203.00,587.7 203.40,588.5 203.80,587.6 204.20,588.6 204.60,587.7 205.00,588.6 205.40,587.7 205.80,588.6 206.20,587.7 206.60,588.5 207.00,587.7 207.40,589.3 207.80,586.8 208.20,588.6 208.60,587.6 209.00,589.4 209.40,587.6 209.80,588.6 210.20,587.6 210.60,588.6 211.00,587.7 211.40,588.6 211.80,587.7 212.20,588.5 212.60,587.7 213.00,588.6 213.40,587.7 213.80,588.5 214.20,587.6 214.60,588.5 215.00,587.7 215.40,588.5 215.80,587.6 216.20,588.5 216.60,587.6 217.00,588.5 217.40,587.6 217.80,588.6 218.20,587.6 218.60,588.6 219.00,587.7 219.40,588.5 219.80,587.7 220.20,588.6 220.60,587.7 221.00,588.6 221.40,587.6 221.80,588.6 222.20,587.7 222.60,588.6 223.00,587.7 223.40,588.6 223.80,587.7 224.20,588.6 224.60,587.7 225.00,588.6 225.40,587.7 225.80,588.5 226.20,586.8 226.60,588.6 227.00,587.7 227.40,590.1 227.80,587.6 228.20,588.6 228.60,587.7 229.00,588.6 229.40,587.7 229.80,588.5 230.20,587.6 230.60,588.6 231.00,587.6 231.40,588.6 231.80,587.6 232.20,588.6 232.60,587.7 233.00,588.5 233.40,587.7 233.80,588.5 234.20,587.6 234.60,588.6 235.00,587.7 235.40,588.5 235.80,587.6 236.20,588.6 236.60,587.7 237.00,588.5 237.40,587.6 237.80,588.5 238.20,587.7 238.60,588.6 239.00,587.7 239.40,588.5 239.80,587.7 240.20,588.6 240.60,587.7 241.00,588.5 241.40,587.6 241.80,588.5 242.20,587.7 242.60,588.6 243.00,587.7 243.40,589.3 243.80,587.7 244.20,588.6 244.60,587.6 245.00,588.6 245.40,587.7 245.80,588.5 246.20,587.6 246.60,588.6 247.00,587.6 247.40,588.5 247.80,587.6 248.20,588.5 248.60,587.7 249.00,588.6 249.40,587.7 249.80,588.6 250.20,587.6 250.60,588.5 251.00,587.6 251.40,588.5 251.80,587.7 252.20,588.5 252.60,587.7 253.00,588.6 253.40,587.6 253.80,588.6 254.20,587.7 254.60,588.6 255.00,587.6 255.40,588.5 255.80,587.7 256.20,588.6 256.60,587.6 257.00,588.5 257.40,587.6 257.80,588.5 258.20,587.6 258.60,588.6 259.00,587.7 259.40,588.6 259.80,587.7 260.20,588.5 260.60,587.6 261.00,588.5 261.40,587.7 261.80,588.5 262.20,587.7 262.60,588.5 263.00,587.6 263.40,588.6 263.80,587.7 264.20,588.6 264.60,587.7 265.00,588.5 265.40,586.9 265.80,588.5 266.20,587.6 266.60,588.5 267.00,587.7 267.40,588.6 267.80,587.6 268.20,588.5 268.60,587.6 269.00,588.5 269.40,587.7 269.80,588.5 270.20,587.7 270.60,588.5 271.00,586.9 271.40,588.6 271.80,587.7 272.20,588.6 272.60,587.6 273.00,588.5 273.40,587.6 273.80,588.5 274.20,587.6 274.60,588.6 275.00,587.6 275.40,588.5 275.80,587.6 276.20,588.6 276.60,587.6 277.00,588.6 277.40,587.7 277.80,588.5 278.20,587.7 278.60,588.6 279.00,587.6 279.40,588.5 279.80,587.6 280.20,588.5 280.60,587.7 281.00,588.6 281.40,587.6 281.80,588.5 282.20,587.6 282.60,588.6 283.00,587.7 283.40,588.6 283.80,587.6 284.20,588.5 284.60,586.1 285.00,588.5 285.40,587.6 285.80,588.6 286.20,587.7 286.60,588.6 287.00,587.6 287.40,588.6 287.80,587.7 288.20,588.6 288.60,587.6 289.00,588.6 289.40,587.7 289.80,588.5 290.20,587.6 290.60,588.6 291.00,587.7 291.40,588.5 291.80,587.7 292.20,588.6 292.60,587.7 293.00,588.5 293.40,587.7 293.80,588.5 294.20,587.7 294.60,588.6 295.00,587.7 295.40,588.6 295.80,587.6 296.20,588.5 296.60,587.7 297.00,588.6 297.40,587.7 297.80,588.6 298.20,587.6 298.60,588.5 299.00,587.6 299.40,588.6 299.80,587.7 300.20,588.5 300.60,587.6 301.00,588.5 301.40,587.7 301.80,588.5 302.20,587.7 302.60,588.5 303.00,587.6 303.40,588.6 303.80,587.7 304.20,588.6 304.60,587.6 305.00,588.6 305.40,587.7 305.80,588.5 306.20,587.7 306.60,588.6 307.00,587.7 307.40,588.5 307.80,586.7 308.20,589.5 308.60,587.6 309.00,588.5 309.40,587.7 309.80,588.5 310.20,587.6 310.60,588.5 311.00,587.6 311.40,588.6 311.80,587.6 312.20,588.5 312.60,587.7 313.00,588.6 313.40,587.7 313.80,589.8 314.20,587.7 314.60,588.6 315.00,587.7 315.40,588.6 315.80,587.6 316.20,588.5 316.60,587.7 317.00,588.5 317.40,587.6 317.80,588.5 318.20,587.7 318.60,588.5 319.00,587.6 319.40,588.5 319.80,585.8 320.20,588.5 320.60,587.6 321.00,588.6 321.40,587.7 321.80,589.8 322.20,587.7 322.60,588.6 323.00,587.6 323.40,588.6 323.80,587.7 324.20,588.6 324.60,587.7 325.00,588.5 325.40,587.6 325.80,588.6 326.20,587.7 326.60,588.5 327.00,587.6 327.40,588.6 327.80,587.7 328.20,588.5 328.60,587.6 329.00,588.6 329.40,587.7 329.80,588.6 330.20,587.6 330.60,588.6 331.00,587.7 331.40,588.5 331.80,587.6 332.20,588.5 332.60,587.7 333.00,588.6 333.40,587.6 333.80,588.5 334.20,587.6 334.60,588.5 335.00,587.7 335.40,588.6 335.80,587.7 336.20,588.5 336.60,587.7 337.00,588.5 337.40,587.6 337.80,588.6 338.20,587.6 338.60,588.5 339.00,587.6 339.40,588.6 339.80,587.6 340.20,588.5 340.60,587.6 341.00,588.5 341.40,587.6 341.80,588.5 342.20,587.6 342.60,588.5 343.00,587.6 343.40,588.5 343.80,587.7 344.20,590.0 344.60,587.6 345.00,588.5 345.40,587.6 345.80,588.5 346.20,587.6 346.60,588.6 347.00,587.7 347.40,588.5 347.80,587.7 348.20,588.5 348.60,587.7 349.00,588.6 349.40,587.7 349.80,588.5 350.20,587.7 350.60,588.5 351.00,587.6 351.40,588.6 351.80,587.7 352.20,588.6 352.60,587.6 353.00,588.6 353.40,587.7 353.80,588.6 354.20,587.6 354.60,588.6 355.00,587.6 355.40,588.6 355.80,587.7 356.20,588.5 356.60,587.7 357.00,588.6 357.40,587.6 357.80,590.0 358.20,587.6 358.60,588.6 359.00,585.8 359.40,588.6 359.80,587.6 360.20,588.5 360.60,587.6 361.00,588.5 361.40,586.3 361.80,588.5 362.20,587.7 362.60,588.6 363.00,587.6 363.40,588.6 363.80,587.7 364.20,588.5 364.60,587.7 365.00,588.6 365.40,586.4 365.80,589.7 366.20,587.7 366.60,588.6 367.00,587.6 367.40,588.5 367.80,587.6 368.20,588.6 368.60,587.7 369.00,590.0 369.40,587.6 369.80,588.6 370.20,587.6 370.60,588.5 371.00,587.6 371.40,588.5 371.80,587.7 372.20,590.2 372.60,587.6 373.00,588.6 373.40,587.7 373.80,588.5 374.20,587.7 374.60,588.5 375.00,587.7 375.40,588.6 375.80,587.6 376.20,588.6 376.60,587.7 377.00,588.6 377.40,587.6 377.80,588.6 378.20,587.6 378.60,588.5 379.00,587.6 379.40,589.7 379.80,587.7 380.20,588.5 380.60,587.6 381.00,588.5 381.40,587.6 381.80,589.2 382.20,587.7 382.60,588.6 383.00,587.7 383.40,588.5 383.80,587.6 384.20,588.5 384.60,587.6 385.00,588.5 385.40,587.6 385.80,588.6 386.20,586.2 386.60,588.6 387.00,587.6 387.40,588.5 387.80,587.6 388.20,588.5 388.60,587.7 389.00,588.6 389.40,587.6 389.80,588.5 390.20,586.8 390.60,588.6 391.00,585.8 391.40,588.5 391.80,587.7 392.20,588.6 392.60,587.6 393.00,588.6 393.40,586.6 393.80,588.5 394.20,587.6 394.60,588.5 395.00,587.7 395.40,588.6 395.80,587.7 396.20,588.5 396.60,587.6 397.00,588.6 397.40,587.7 397.80,588.6 398.20,587.6 398.60,588.6 399.00,587.6 399.40,588.6 399.80,587.7 400.20,588.5 400.60,587.6 401.00,590.1 401.40,587.7 401.80,588.5 402.20,586.3 402.60,588.5 403.00,587.6 403.40,588.5 403.80,587.7 404.20,589.5 404.60,586.0 405.00,588.6 405.40,587.6 405.80,588.6 406.20,587.7 406.60,588.5 407.00,587.7 407.40,588.5 407.80,587.6 408.20,588.6 408.60,587.7 409.00,588.5 409.40,587.6 409.80,588.6 410.20,586.0 410.60,588.6 411.00,587.6 411.40,588.5 411.80,587.6 412.20,588.5 412.60,587.6 413.00,588.6 413.40,587.7 413.80,588.5 414.20,587.7 414.60,588.6 415.00,587.7 415.40,588.5 415.80,587.6 416.20,588.6 416.60,587.6 417.00,588.5 417.40,587.7 417.80,588.6 418.20,587.6 418.60,590.2 419.00,587.7 419.40,588.6 419.80,587.6 420.20,588.5 420.60,587.6 421.00,588.6 421.40,587.6 421.80,588.5 422.20,587.7 422.60,590.2 423.00,587.7 423.40,588.6 423.80,587.6 424.20,588.6 424.60,587.7 425.00,588.5 425.40,587.7 425.80,588.5 426.20,587.7 426.60,588.6 427.00,587.7 427.40,588.6 427.80,587.7 428.20,588.5 428.60,587.7 429.00,588.6 429.40,587.6 429.80,588.6 430.20,587.6 430.60,588.6 431.00,587.7 431.40,588.5 431.80,587.6 432.20,588.6 432.60,587.7 433.00,588.6 433.40,587.6 433.80,588.6 434.20,587.6 434.60,588.6 435.00,587.7 435.40,588.5 435.80,587.7 436.20,588.6 436.60,586.3 437.00,588.5 437.40,587.6 437.80,588.5 438.20,587.7 438.60,588.5 439.00,587.7 439.40,588.5 439.80,587.7 440.20,588.6 440.60,587.7 441.00,588.5 441.40,587.7 441.80,588.6 442.20,587.7 442.60,588.5 443.00,587.6 443.40,588.5 443.80,587.7 444.20,588.5 444.60,587.6 445.00,588.5 445.40,587.6 445.80,588.6 446.20,587.6 446.60,588.6 447.00,587.6 447.40,588.5 447.80,587.6 448.20,588.6 448.60,587.6 449.00,588.5 449.40,587.7 449.80,588.5 450.20,587.6 450.60,588.6 451.00,587.7 451.40,588.5 451.80,587.7 452.20,588.5 452.60,585.9 453.00,588.6 453.40,587.6 453.80,588.5 454.20,586.4 454.60,588.5 455.00,587.7 455.40,588.5 455.80,587.6 456.20,588.5 456.60,587.7 457.00,588.5 457.40,587.6 457.80,588.5 458.20,587.7 458.60,588.6 459.00,587.6 459.40,588.6 459.80,587.7 460.20,588.5 460.60,587.7 461.00,588.5 461.40,587.6 461.80,588.6 462.20,587.6 462.60,588.6 463.00,587.6 463.40,588.6 463.80,587.7 464.20,588.6 464.60,586.3 465.00,588.6 465.40,587.7 465.80,588.6 466.20,587.7 466.60,588.6 467.00,587.6 467.40,588.6 467.80,587.7 468.20,588.6 468.60,587.7 469.00,588.6 469.40,587.7 469.80,588.6 470.20,587.7 470.60,588.5 471.00,587.6 471.40,588.6 471.80,587.7 472.20,588.5 472.60,587.6 473.00,588.6 473.40,587.6 473.80,588.5 474.20,587.7 474.60,588.6 475.00,587.7 475.40,588.5 475.80,587.6 476.20,588.5 476.60,587.7 477.00,588.6 477.40,587.6 477.80,588.6 478.20,587.7 478.60,588.5 479.00,587.6 479.40,588.5 479.80,587.7 480.20,588.5 480.60,587.6 481.00,588.5 481.40,587.7 481.80,588.6 482.20,587.6 482.60,588.6 483.00,587.6 483.40,588.5 483.80,587.6 484.20,588.5 484.60,587.6 485.00,588.5 485.40,587.7 485.80,588.6 486.20,587.6 486.60,588.5 487.00,587.6 487.40,588.6 487.80,587.7 488.20,588.5 488.60,587.7 489.00,588.6 489.40,587.7 489.80,588.6 490.20,587.6 490.60,588.5 491.00,587.6 491.40,588.6 491.80,587.6 492.20,588.5 492.60,587.7 493.00,588.5 493.40,586.5 493.80,588.5 494.20,587.7 494.60,588.5 495.00,587.6 495.40,588.5 495.80,587.7 496.20,588.5 496.60,587.6 497.00,588.6 497.40,587.7 497.80,588.5 498.20,587.6 498.60,588.6 499.00,587.7 499.40,588.5 499.80,587.6 500.20,588.6 500.60,587.6 501.00,589.6 501.40,587.6 501.80,588.5 502.20,587.7 502.60,588.5 503.00,587.6 503.40,588.6 503.80,587.7 504.20,588.5 504.60,587.7 505.00,588.5 505.40,587.7 505.80,588.5 506.20,587.7 506.60,588.6 507.00,587.7 507.40,588.6 507.80,587.7 508.20,588.5 508.60,587.6 509.00,588.6 509.40,587.6 509.80,588.5 510.20,587.6 510.60,588.6 511.00,587.7 511.40,588.6 511.80,587.6 512.20,588.5 512.60,586.6 513.00,589.5 513.40,587.6 513.80,589.7 514.20,587.7 514.60,588.5 515.00,587.7 515.40,588.5 515.80,587.7 516.20,588.5 516.60,587.7 517.00,588.6 517.40,587.7 517.80,588.5 518.20,587.7 518.60,588.5 519.00,587.7 519.40,588.5 519.80,587.7 520.20,588.5 520.60,587.7 521.00,588.6 521.40,586.9 521.80,588.6 522.20,587.6 522.60,588.5 523.00,587.6 523.40,588.6 523.80,587.6 524.20,588.6 524.60,587.7 525.00,588.5 525.40,587.7 525.80,588.6 526.20,587.6 526.60,588.5 527.00,587.7 527.40,588.5 527.80,587.6 528.20,588.6 528.60,587.6 529.00,588.5 529.40,587.7 529.80,588.6 530.20,587.6 530.60,588.5 531.00,587.6 531.40,588.6 531.80,587.6 532.20,588.6 532.60,587.7 533.00,588.5 533.40,587.7 533.80,588.5 534.20,587.7 534.60,588.5 535.00,587.7 535.40,588.5 535.80,586.0 536.20,589.9 536.60,587.7 537.00,588.5 537.40,587.6 537.80,588.6 538.20,587.7 538.60,588.5 539.00,587.6 539.40,588.6 539.80,587.6 540.20,588.5 540.60,587.6 541.00,588.6 541.40,587.6 541.80,588.5 542.20,587.6 542.60,588.6 543.00,587.6 543.40,588.5 543.80,586.1 544.20,588.6 544.60,587.6 545.00,588.5 545.40,587.7 545.80,588.5 546.20,586.0 546.60,588.5 547.00,587.6 547.40,588.6 547.80,587.7 548.20,588.6 548.60,587.6 549.00,588.6 549.40,587.6 549.80,588.6 550.20,587.6 550.60,588.5 551.00,587.7 551.40,588.5 551.80,587.7 552.20,588.5 552.60,587.7 553.00,588.5 553.40,587.7 553.80,588.5 554.20,587.7 554.60,588.5 555.00,587.7 555.40,588.6 555.80,587.7 556.20,588.6 556.60,587.7 557.00,588.5 557.40,587.6 557.80,588.5 558.20,586.0 558.60,588.6 559.00,587.7 559.40,588.6 559.80,587.7 560.20,588.5 560.60,587.7 561.00,588.5 561.40,587.6 561.80,588.6 562.20,587.7 562.60,588.5 563.00,587.7 563.40,588.5 563.80,587.7 564.20,588.5 564.60,587.7 565.00,589.8 565.40,587.7 565.80,590.0 566.20,587.6 566.60,588.6 567.00,587.7 567.40,588.6 567.80,587.7 568.20,588.5 568.60,587.6 569.00,588.6 569.40,587.7 569.80,588.5 570.20,586.4 570.60,588.5 571.00,587.6 571.40,588.6 571.80,587.7 572.20,588.5 572.60,587.6 573.00,588.5 573.40,587.7 573.80,588.5 574.20,587.7 574.60,588.5 575.00,587.6 575.40,588.6 575.80,587.7 576.20,590.0 576.60,587.6 577.00,588.6 577.40,587.6 577.80,588.5 578.20,587.7 578.60,588.6 579.00,587.7 579.40,588.5 579.80,587.7 580.20,588.6 580.60,587.6 581.00,588.6 581.40,587.6 581.80,588.6 582.20,587.7 582.60,588.6 583.00,587.6 583.40,588.5 583.80,587.7 584.20,588.5 584.60,587.7 585.00,588.6 585.40,587.6 585.80,588.5 586.20,587.6 586.60,588.6 587.00,587.7 587.40,590.3 587.80,587.6 588.20,588.6 588.60,587.6 589.00,588.6 589.40,587.7 589.80,588.6 590.20,587.6 590.60,588.6 591.00,587.6 591.40,588.5 591.80,587.7 592.20,588.6 592.60,586.9 593.00,588.5 593.40,587.7 593.80,588.5 594.20,587.0 594.60,588.5 595.00,587.6 595.40,588.5 595.80,587.6 596.20,588.6 596.60,587.7 597.00,588.5 597.40,587.7 597.80,588.6 598.20,587.7 598.60,588.6 599.00,587.7 599.40,588.6 599.80,587.7 600.20,588.6 600.60,586.1 601.00,588.5 601.40,587.7 601.80,588.5 602.20,587.7 602.60,588.6 603.00,587.7 603.40,588.5 603.80,587.7 604.20,588.5 604.60,587.7 605.00,588.5 605.40,587.7 605.80,588.5 606.20,587.7 606.60,588.5 607.00,587.7 607.40,588.5 607.80,587.6 608.20,588.5 608.60,587.6 609.00,588.6 609.40,587.7 609.80,588.6 610.20,587.6 610.60,588.6 611.00,587.6 611.40,588.6 611.80,587.6 612.20,588.6 612.60,587.6 613.00,588.6 613.40,587.0 613.80,588.5 614.20,587.7 614.60,588.6 615.00,587.6 615.40,588.6 615.80,587.7 616.20,590.1 616.60,587.7 617.00,590.1 617.40,587.6 617.80,588.6 618.20,587.6 618.60,588.5 619.00,587.6 619.40,588.6 619.80,587.7 620.20,588.6 620.60,587.7 621.00,588.6 621.40,587.6 621.80,588.6 622.20,587.6 622.60,588.6 623.00,587.7 623.40,588.6 623.80,587.7 624.20,588.5 624.60,587.7 625.00,588.5 625.40,587.7 625.80,588.6 626.20,587.6 626.60,588.6 627.00,587.6 627.40,588.6 627.80,587.6 628.20,588.5 628.60,587.7 629.00,588.5 629.40,587.6 629.80,588.6 630.20,587.6 630.60,589.9 631.00,587.7 631.40,588.6 631.80,587.6 632.20,588.6 632.60,587.6 633.00,588.6 633.40,587.6 633.80,588.6 634.20,587.7 634.60,588.5 635.00,587.7 635.40,588.6 635.80,587.6 636.20,588.6 636.60,587.6 637.00,588.5 637.40,586.2 637.80,588.5 638.20,587.6 638.60,588.6 639.00,587.7 639.40,588.5 639.80,587.7 640.20,588.6 640.60,587.7 641.00,588.6 641.40,587.7 641.80,588.5 642.20,587.7 642.60,588.5 643.00,587.7 643.40,588.6 643.80,587.7 644.20,588.6 644.60,587.7 645.00,588.6 645.40,587.7 645.80,588.6 646.20,587.6 646.60,588.5 647.00,587.6 647.40,588.6 647.80,587.6 648.20,588.5 648.60,587.7 649.00,588.5 649.40,587.7 649.80,588.6 650.20,587.6 650.60,589.3 651.00,587.6 651.40,588.6 651.80,587.6 652.20,588.5 652.60,587.6 653.00,588.6 653.40,586.4 653.80,588.6 654.20,587.6" fill="none" stroke="#0c2f6a" stroke-width="1.0" stroke-linejoin="miter"/><path d="M77.6,471.3 L77.65,600" stroke="#2866a5" stroke-width="1.5"/><path d="M77.6,505 L77.6,513" stroke="#0c2f66" stroke-width="1.9"/><rect x="49.00" y="464.50" width="633.80" height="166.40" fill="none" stroke="#262626" stroke-width="1.5"/><line x1="45.70" y1="485.10" x2="49.00" y2="485.10" stroke="#000" stroke-width="0.8"/><text x="24.44" y="487.66" font-size="7.30" text-anchor="start" textLength="17.83" lengthAdjust="spacingAndGlyphs" class="sc">600</text><line x1="45.70" y1="519.40" x2="49.00" y2="519.40" stroke="#000" stroke-width="0.8"/><text x="24.44" y="521.96" font-size="7.30" text-anchor="start" textLength="17.83" lengthAdjust="spacingAndGlyphs" class="sc">400</text><line x1="45.70" y1="553.70" x2="49.00" y2="553.70" stroke="#000" stroke-width="0.8"/><text x="24.44" y="556.26" font-size="7.30" text-anchor="start" textLength="17.83" lengthAdjust="spacingAndGlyphs" class="sc">200</text><line x1="45.70" y1="588.00" x2="49.00" y2="588.00" stroke="#000" stroke-width="0.8"/><text x="36.33" y="590.56" font-size="7.30" text-anchor="start" textLength="5.94" lengthAdjust="spacingAndGlyphs" class="sc">0</text><line x1="45.70" y1="622.30" x2="49.00" y2="622.30" stroke="#000" stroke-width="0.8"/><text x="16.61" y="624.86" font-size="7.30" text-anchor="start" textLength="25.66" lengthAdjust="spacingAndGlyphs" class="sc">−200</text><line x1="77.70" y1="630.90" x2="77.70" y2="633.90" stroke="#000" stroke-width="0.8"/><text x="74.73" y="641.95" font-size="7.30" text-anchor="start" textLength="5.94" lengthAdjust="spacingAndGlyphs" class="sc">0</text><line x1="167.75" y1="630.90" x2="167.75" y2="633.90" stroke="#000" stroke-width="0.8"/><text x="152.84" y="641.95" font-size="7.30" text-anchor="start" textLength="29.72" lengthAdjust="spacingAndGlyphs" class="sc">50000</text><line x1="257.80" y1="630.90" x2="257.80" y2="633.90" stroke="#000" stroke-width="0.8"/><text x="239.76" y="641.95" font-size="7.30" text-anchor="start" textLength="35.67" lengthAdjust="spacingAndGlyphs" class="sc">100000</text><line x1="347.85" y1="630.90" x2="347.85" y2="633.90" stroke="#000" stroke-width="0.8"/><text x="329.81" y="641.95" font-size="7.30" text-anchor="start" textLength="35.67" lengthAdjust="spacingAndGlyphs" class="sc">150000</text><line x1="437.90" y1="630.90" x2="437.90" y2="633.90" stroke="#000" stroke-width="0.8"/><text x="420.03" y="641.95" font-size="7.30" text-anchor="start" textLength="35.67" lengthAdjust="spacingAndGlyphs" class="sc">200000</text><line x1="527.95" y1="630.90" x2="527.95" y2="633.90" stroke="#000" stroke-width="0.8"/><text x="510.08" y="641.95" font-size="7.30" text-anchor="start" textLength="35.67" lengthAdjust="spacingAndGlyphs" class="sc">250000</text><line x1="618.00" y1="630.90" x2="618.00" y2="633.90" stroke="#000" stroke-width="0.8"/><text x="600.12" y="641.95" font-size="7.30" text-anchor="start" textLength="35.67" lengthAdjust="spacingAndGlyphs" class="sc">300000</text><text x="356.25" y="652.87" font-size="6.62" text-anchor="start" textLength="18.32" lengthAdjust="spacingAndGlyphs" class="sc">Lag</text><text class="sc" transform="translate(10.01,577.71) rotate(-90)" x="0" y="0" font-size="9.56" textLength="58.50" lengthAdjust="spacingAndGlyphs">Autocorrelation</text><text x="309.36" y="459.53" font-size="8.40" text-anchor="start" textLength="112.56" lengthAdjust="spacingAndGlyphs" class="sb">Autocorrelation Plot</text><text x="330.33" y="680.41" font-size="22.28" text-anchor="start" textLength="25.85" lengthAdjust="spacingAndGlyphs" class="serif">(c)</text>
</svg></body></html>
